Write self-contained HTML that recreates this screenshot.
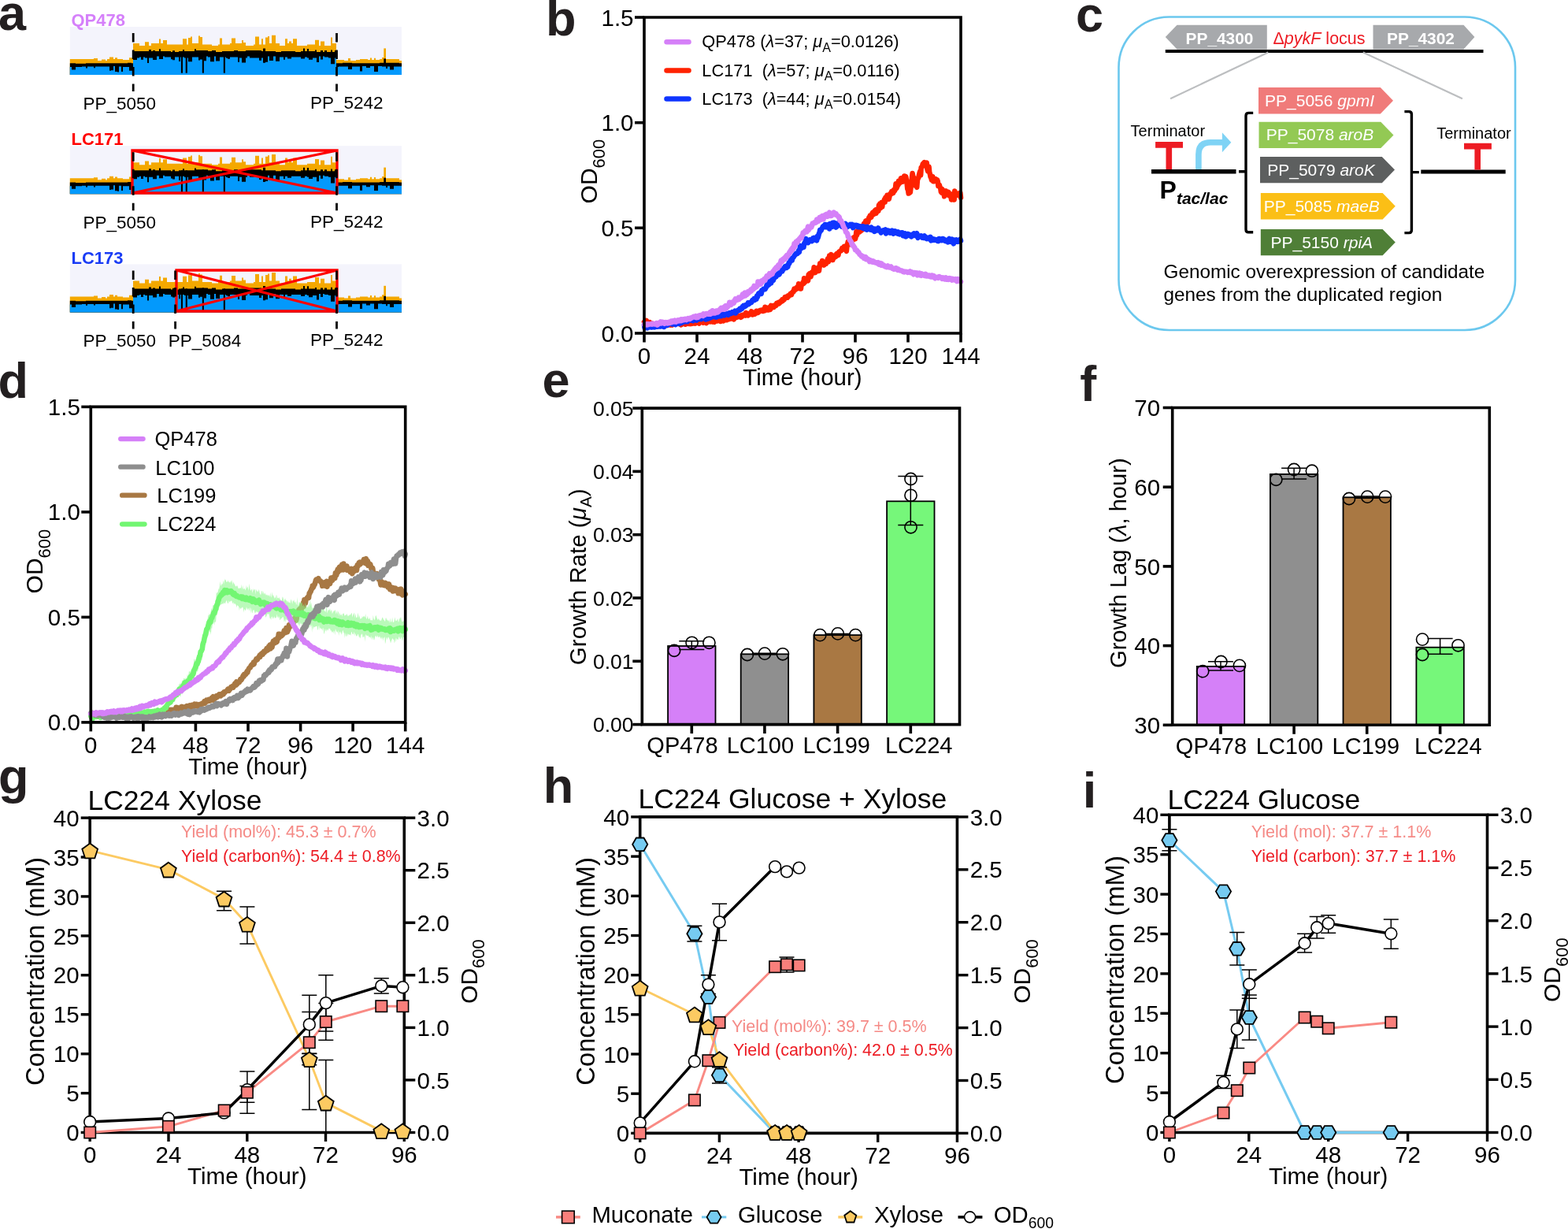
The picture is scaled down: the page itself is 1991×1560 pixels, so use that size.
<!DOCTYPE html><html><head><meta charset="utf-8"><title>Figure</title><style>html,body{margin:0;padding:0;background:#fff;}svg{display:block;}</style></head><body><svg width="1991" height="1560" viewBox="0 0 1991 1560" font-family='"Liberation Sans", Arial, Helvetica, sans-serif'>
<rect width="1991" height="1560" fill="#fff"/>
<rect x="88.8" y="34.0" width="421.2" height="61.0" fill="#f4f4fc" />
<path d="M88.80,95.00V75.0H91.00V75.0H94.00V75.0H96.00V75.0H99.00V75.0H101.00V75.0H104.00V75.0H106.00V75.0H109.00V75.0H111.00V75.0H114.00V75.0H116.00V75.0H119.00V74.0H121.00V74.0H124.00V77.0H126.00V77.0H129.00V75.6H131.00V75.6H134.00V77.0H136.00V75.0H139.00V72.5H141.00V72.5H144.00V75.0H146.00V73.3H149.00V75.0H151.00V75.0H154.00V75.0H156.00V76.0H159.00V76.0H162.00V76.0H164.00V73.3H167.00V73.3H169.00V55.0H172.00V55.0H174.00V55.0H177.00V58.0H179.00V58.0H182.00V58.0H184.00V53.3H187.00V53.3H189.00V58.0H192.00V55.0H194.00V55.0H197.00V55.0H199.00V55.0H202.00V49.6H204.00V55.0H207.00V51.1H209.00V51.1H212.00V56.5H214.00V56.5H217.00V56.5H219.00V56.5H222.00V56.5H224.00V56.5H227.00V56.5H229.00V56.5H232.00V49.3H234.00V49.3H237.00V56.5H239.00V47.9H242.00V46.4H244.00V55.0H247.00V55.0H249.00V55.0H252.00V45.6H254.00V47.1H257.00V56.5H259.00V56.5H262.00V56.5H264.00V56.5H267.00V56.5H269.00V58.0H272.00V58.0H274.00V58.0H277.00V56.5H279.00V48.4H282.00V56.5H284.00V56.5H287.00V56.5H289.00V56.5H292.00V55.0H294.00V48.6H297.00V48.6H299.00V55.0H302.00V55.0H304.00V55.0H307.00V51.0H309.00V54.0H312.00V58.0H314.00V58.0H317.00V58.0H319.00V58.0H322.00V56.5H324.00V46.5H327.00V46.5H329.00V56.5H332.00V49.2H334.00V56.5H337.00V47.5H340.00V46.0H342.00V55.0H345.00V44.7H347.00V44.7H350.00V55.0H352.00V55.0H355.00V58.0H357.00V58.0H360.00V58.0H362.00V49.2H365.00V55.0H367.00V52.4H370.00V55.0H372.00V49.2H375.00V49.2H377.00V58.0H380.00V58.0H382.00V58.0H385.00V58.0H387.00V58.0H390.00V56.5H392.00V56.5H395.00V56.5H397.00V56.5H400.00V50.7H402.00V50.7H405.00V58.0H407.00V52.4H410.00V52.4H412.00V58.0H415.00V58.0H417.00V58.0H420.00V47.6H422.00V55.0H425.00V55.0H427.00V76.0H430.00V76.0H432.00V76.0H435.00V76.0H437.00V77.0H440.00V77.0H442.00V74.0H445.00V77.0H447.00V77.0H450.00V77.0H452.00V76.0H455.00V76.0H457.00V75.0H460.00V75.0H462.00V75.0H465.00V75.0H467.00V76.0H470.00V73.6H472.00V76.0H475.00V73.8H477.00V76.0H480.00V76.0H482.00V75.0H485.00V72.9H487.00V72.9H490.00V75.0H492.00V75.0H495.00V75.0H497.00V75.0H500.00V75.0H502.00V75.0H505.00V75.0H507.00V77.0H510.00V95.00Z" fill="#f4a800" />
<path d="M88.80,95.00V80.3H91.00V80.3H94.00V80.3H96.00V80.8H99.00V80.8H101.00V80.8H104.00V80.8H106.00V80.8H109.00V80.3H111.00V80.3H114.00V80.3H116.00V80.3H119.00V80.3H121.00V80.3H124.00V80.3H126.00V80.3H129.00V80.3H131.00V80.3H134.00V80.3H136.00V80.3H139.00V80.3H141.00V80.3H144.00V80.3H146.00V80.3H149.00V80.3H151.00V80.3H154.00V80.3H156.00V80.3H159.00V80.3H162.00V79.8H164.00V79.8H167.00V80.3H169.00V65.0H172.00V65.0H174.00V65.0H177.00V65.0H179.00V65.0H182.00V65.0H184.00V65.0H187.00V65.0H189.00V63.0H192.00V65.0H194.00V64.0H197.00V65.0H199.00V65.0H202.00V62.2H204.00V65.0H207.00V65.0H209.00V65.0H212.00V65.0H214.00V65.0H217.00V66.0H219.00V64.3H222.00V66.0H224.00V66.0H227.00V65.0H229.00V65.0H232.00V63.1H234.00V65.0H237.00V65.0H239.00V65.0H242.00V65.0H244.00V65.0H247.00V62.3H249.00V64.0H252.00V64.0H254.00V64.0H257.00V64.0H259.00V64.0H262.00V64.0H264.00V65.0H267.00V65.0H269.00V64.0H272.00V64.0H274.00V66.0H277.00V66.0H279.00V66.0H282.00V65.0H284.00V65.0H287.00V65.0H289.00V65.0H292.00V65.0H294.00V65.0H297.00V64.0H299.00V64.0H302.00V65.0H304.00V65.0H307.00V65.0H309.00V65.0H312.00V64.0H314.00V64.0H317.00V64.0H319.00V64.0H322.00V64.0H324.00V64.0H327.00V64.0H329.00V64.0H332.00V65.0H334.00V61.6H337.00V65.0H340.00V65.0H342.00V65.0H345.00V65.0H347.00V65.0H350.00V66.0H352.00V66.0H355.00V66.0H357.00V65.0H360.00V65.0H362.00V65.0H365.00V65.0H367.00V65.0H370.00V65.0H372.00V65.0H375.00V66.0H377.00V66.0H380.00V66.0H382.00V65.0H385.00V61.5H387.00V65.0H390.00V61.9H392.00V65.0H395.00V65.0H397.00V65.0H400.00V63.5H402.00V66.0H405.00V66.0H407.00V64.0H410.00V66.0H412.00V64.0H415.00V66.0H417.00V66.0H420.00V63.4H422.00V66.0H425.00V64.0H427.00V80.3H430.00V80.3H432.00V80.3H435.00V79.8H437.00V79.8H440.00V79.8H442.00V79.8H445.00V79.8H447.00V80.3H450.00V80.3H452.00V80.3H455.00V80.3H457.00V80.3H460.00V80.3H462.00V80.3H465.00V80.3H467.00V80.3H470.00V80.3H472.00V80.3H475.00V80.3H477.00V80.3H480.00V80.3H482.00V79.8H485.00V79.8H487.00V79.8H490.00V79.8H492.00V79.8H495.00V79.8H497.00V79.8H500.00V79.8H502.00V79.8H505.00V79.8H507.00V80.3H510.00V95.00Z" fill="#000" />
<path d="M88.80,95.00V85.0H91.00V88.5H94.00V88.5H96.00V85.0H99.00V85.0H101.00V85.0H104.00V84.5H106.00V84.5H109.00V86.4H111.00V84.5H114.00V84.5H116.00V84.5H119.00V86.2H121.00V84.5H124.00V84.5H126.00V84.5H129.00V84.5H131.00V84.5H134.00V84.5H136.00V84.5H139.00V89.8H141.00V89.3H144.00V84.0H146.00V91.0H149.00V91.5H151.00V84.5H154.00V90.9H156.00V85.0H159.00V85.0H162.00V85.0H164.00V89.8H167.00V89.8H169.00V76.1H172.00V76.1H174.00V73.5H177.00V72.5H179.00V75.7H182.00V72.5H184.00V73.5H187.00V80.0H189.00V73.5H192.00V73.5H194.00V76.0H197.00V76.0H199.00V71.5H202.00V75.1H204.00V75.1H207.00V71.5H209.00V72.5H212.00V72.5H214.00V72.5H217.00V75.2H219.00V76.2H222.00V72.5H224.00V72.5H227.00V77.9H229.00V72.5H232.00V72.5H234.00V73.5H237.00V73.5H239.00V78.2H242.00V78.2H244.00V72.5H247.00V72.5H249.00V72.5H252.00V76.4H254.00V75.4H257.00V72.5H259.00V77.2H262.00V71.5H264.00V72.5H267.00V78.3H269.00V78.3H272.00V71.5H274.00V77.5H277.00V77.5H279.00V72.5H282.00V72.5H284.00V72.5H287.00V73.8H289.00V74.8H292.00V72.5H294.00V72.5H297.00V72.5H299.00V72.5H302.00V78.7H304.00V73.5H307.00V79.6H309.00V79.6H312.00V73.5H314.00V71.5H317.00V73.5H319.00V73.5H322.00V73.5H324.00V73.5H327.00V73.5H329.00V76.7H332.00V73.5H334.00V79.8H337.00V78.8H340.00V71.5H342.00V76.9H345.00V76.9H347.00V71.5H350.00V77.8H352.00V77.8H355.00V72.5H357.00V72.5H360.00V75.8H362.00V72.5H365.00V74.6H367.00V74.6H370.00V72.5H372.00V72.5H375.00V72.5H377.00V72.5H380.00V72.5H382.00V74.6H385.00V74.6H387.00V72.5H390.00V73.5H392.00V75.8H395.00V75.8H397.00V73.5H400.00V73.5H402.00V79.1H405.00V71.5H407.00V75.6H410.00V71.5H412.00V72.5H415.00V72.5H417.00V73.5H420.00V81.3H422.00V81.3H425.00V73.5H427.00V85.0H430.00V84.5H432.00V84.5H435.00V84.5H437.00V84.5H440.00V84.5H442.00V88.1H445.00V88.1H447.00V84.5H450.00V84.5H452.00V84.5H455.00V84.5H457.00V90.5H460.00V84.0H462.00V84.0H465.00V86.0H467.00V86.0H470.00V84.0H472.00V84.0H475.00V90.9H477.00V90.9H480.00V84.0H482.00V84.0H485.00V84.5H487.00V84.5H490.00V86.9H492.00V84.5H495.00V88.6H497.00V88.6H500.00V84.5H502.00V84.5H505.00V84.5H507.00V84.5H510.00V95.00Z" fill="#0399fc" />
<rect x="229.9" y="65.0" width="2.1" height="27.7" fill="#000" />
<rect x="235.7" y="65.0" width="2.1" height="27.7" fill="#000" />
<rect x="256.8" y="64.0" width="2.1" height="28.7" fill="#000" />
<rect x="283.8" y="65.0" width="2.1" height="27.7" fill="#000" />
<rect x="487.3" y="61.4" width="2.7" height="15.0" fill="#f4a800" />
<rect x="487.3" y="74.4" width="2.7" height="6.0" fill="#000" />
<text x="90.5" y="33.2" font-size="22" font-weight="bold" fill="#d580fa" >QP478</text>
<rect x="88.8" y="185.2" width="421.2" height="61.0" fill="#f4f4fc" />
<path d="M88.80,246.20V226.2H91.00V226.2H94.00V226.2H96.00V226.2H99.00V226.2H101.00V226.2H104.00V226.2H106.00V226.2H109.00V226.2H111.00V226.2H114.00V226.2H116.00V226.2H119.00V225.2H121.00V225.2H124.00V228.2H126.00V228.2H129.00V226.8H131.00V226.8H134.00V228.2H136.00V226.2H139.00V223.7H141.00V223.7H144.00V226.2H146.00V224.5H149.00V226.2H151.00V226.2H154.00V226.2H156.00V227.2H159.00V227.2H162.00V227.2H164.00V224.5H167.00V224.5H169.00V206.2H172.00V206.2H174.00V206.2H177.00V209.2H179.00V209.2H182.00V209.2H184.00V204.5H187.00V204.5H189.00V209.2H192.00V206.2H194.00V206.2H197.00V206.2H199.00V206.2H202.00V200.8H204.00V206.2H207.00V202.3H209.00V202.3H212.00V207.7H214.00V207.7H217.00V207.7H219.00V207.7H222.00V207.7H224.00V207.7H227.00V207.7H229.00V207.7H232.00V200.5H234.00V200.5H237.00V207.7H239.00V199.1H242.00V197.6H244.00V206.2H247.00V206.2H249.00V206.2H252.00V196.8H254.00V198.3H257.00V207.7H259.00V207.7H262.00V207.7H264.00V207.7H267.00V207.7H269.00V209.2H272.00V209.2H274.00V209.2H277.00V207.7H279.00V199.6H282.00V207.7H284.00V207.7H287.00V207.7H289.00V207.7H292.00V206.2H294.00V199.8H297.00V199.8H299.00V206.2H302.00V206.2H304.00V206.2H307.00V202.2H309.00V205.2H312.00V209.2H314.00V209.2H317.00V209.2H319.00V209.2H322.00V207.7H324.00V197.7H327.00V197.7H329.00V207.7H332.00V200.4H334.00V207.7H337.00V198.7H340.00V197.2H342.00V206.2H345.00V195.9H347.00V195.9H350.00V206.2H352.00V206.2H355.00V209.2H357.00V209.2H360.00V209.2H362.00V200.4H365.00V206.2H367.00V203.6H370.00V206.2H372.00V200.4H375.00V200.4H377.00V209.2H380.00V209.2H382.00V209.2H385.00V209.2H387.00V209.2H390.00V207.7H392.00V207.7H395.00V207.7H397.00V207.7H400.00V201.9H402.00V201.9H405.00V209.2H407.00V203.6H410.00V203.6H412.00V209.2H415.00V209.2H417.00V209.2H420.00V198.8H422.00V206.2H425.00V206.2H427.00V227.2H430.00V227.2H432.00V227.2H435.00V227.2H437.00V228.2H440.00V228.2H442.00V225.2H445.00V228.2H447.00V228.2H450.00V228.2H452.00V227.2H455.00V227.2H457.00V226.2H460.00V226.2H462.00V226.2H465.00V226.2H467.00V227.2H470.00V224.8H472.00V227.2H475.00V225.0H477.00V227.2H480.00V227.2H482.00V226.2H485.00V224.1H487.00V224.1H490.00V226.2H492.00V226.2H495.00V226.2H497.00V226.2H500.00V226.2H502.00V226.2H505.00V226.2H507.00V228.2H510.00V246.20Z" fill="#f4a800" />
<path d="M88.80,246.20V231.5H91.00V231.5H94.00V231.5H96.00V232.0H99.00V232.0H101.00V232.0H104.00V232.0H106.00V232.0H109.00V231.5H111.00V231.5H114.00V231.5H116.00V231.5H119.00V231.5H121.00V231.5H124.00V231.5H126.00V231.5H129.00V231.5H131.00V231.5H134.00V231.5H136.00V231.5H139.00V231.5H141.00V231.5H144.00V231.5H146.00V231.5H149.00V231.5H151.00V231.5H154.00V231.5H156.00V231.5H159.00V231.5H162.00V231.0H164.00V231.0H167.00V231.5H169.00V216.2H172.00V216.2H174.00V216.2H177.00V216.2H179.00V216.2H182.00V216.2H184.00V216.2H187.00V216.2H189.00V214.2H192.00V216.2H194.00V215.2H197.00V216.2H199.00V216.2H202.00V213.4H204.00V216.2H207.00V216.2H209.00V216.2H212.00V216.2H214.00V216.2H217.00V217.2H219.00V215.5H222.00V217.2H224.00V217.2H227.00V216.2H229.00V216.2H232.00V214.3H234.00V216.2H237.00V216.2H239.00V216.2H242.00V216.2H244.00V216.2H247.00V213.5H249.00V215.2H252.00V215.2H254.00V215.2H257.00V215.2H259.00V215.2H262.00V215.2H264.00V216.2H267.00V216.2H269.00V215.2H272.00V215.2H274.00V217.2H277.00V217.2H279.00V217.2H282.00V216.2H284.00V216.2H287.00V216.2H289.00V216.2H292.00V216.2H294.00V216.2H297.00V215.2H299.00V215.2H302.00V216.2H304.00V216.2H307.00V216.2H309.00V216.2H312.00V215.2H314.00V215.2H317.00V215.2H319.00V215.2H322.00V215.2H324.00V215.2H327.00V215.2H329.00V215.2H332.00V216.2H334.00V212.8H337.00V216.2H340.00V216.2H342.00V216.2H345.00V216.2H347.00V216.2H350.00V217.2H352.00V217.2H355.00V217.2H357.00V216.2H360.00V216.2H362.00V216.2H365.00V216.2H367.00V216.2H370.00V216.2H372.00V216.2H375.00V217.2H377.00V217.2H380.00V217.2H382.00V216.2H385.00V212.7H387.00V216.2H390.00V213.1H392.00V216.2H395.00V216.2H397.00V216.2H400.00V214.7H402.00V217.2H405.00V217.2H407.00V215.2H410.00V217.2H412.00V215.2H415.00V217.2H417.00V217.2H420.00V214.6H422.00V217.2H425.00V215.2H427.00V231.5H430.00V231.5H432.00V231.5H435.00V231.0H437.00V231.0H440.00V231.0H442.00V231.0H445.00V231.0H447.00V231.5H450.00V231.5H452.00V231.5H455.00V231.5H457.00V231.5H460.00V231.5H462.00V231.5H465.00V231.5H467.00V231.5H470.00V231.5H472.00V231.5H475.00V231.5H477.00V231.5H480.00V231.5H482.00V231.0H485.00V231.0H487.00V231.0H490.00V231.0H492.00V231.0H495.00V231.0H497.00V231.0H500.00V231.0H502.00V231.0H505.00V231.0H507.00V231.5H510.00V246.20Z" fill="#000" />
<path d="M88.80,246.20V236.2H91.00V239.7H94.00V239.7H96.00V236.2H99.00V236.2H101.00V236.2H104.00V235.7H106.00V235.7H109.00V237.6H111.00V235.7H114.00V235.7H116.00V235.7H119.00V237.4H121.00V235.7H124.00V235.7H126.00V235.7H129.00V235.7H131.00V235.7H134.00V235.7H136.00V235.7H139.00V241.0H141.00V240.5H144.00V235.2H146.00V242.2H149.00V242.7H151.00V235.7H154.00V242.1H156.00V236.2H159.00V236.2H162.00V236.2H164.00V241.0H167.00V241.0H169.00V227.3H172.00V227.3H174.00V224.7H177.00V223.7H179.00V226.9H182.00V223.7H184.00V224.7H187.00V231.2H189.00V224.7H192.00V224.7H194.00V227.2H197.00V227.2H199.00V222.7H202.00V226.3H204.00V226.3H207.00V222.7H209.00V223.7H212.00V223.7H214.00V223.7H217.00V226.4H219.00V227.4H222.00V223.7H224.00V223.7H227.00V229.1H229.00V223.7H232.00V223.7H234.00V224.7H237.00V224.7H239.00V229.4H242.00V229.4H244.00V223.7H247.00V223.7H249.00V223.7H252.00V227.6H254.00V226.6H257.00V223.7H259.00V228.4H262.00V222.7H264.00V223.7H267.00V229.5H269.00V229.5H272.00V222.7H274.00V228.7H277.00V228.7H279.00V223.7H282.00V223.7H284.00V223.7H287.00V225.0H289.00V226.0H292.00V223.7H294.00V223.7H297.00V223.7H299.00V223.7H302.00V229.9H304.00V224.7H307.00V230.8H309.00V230.8H312.00V224.7H314.00V222.7H317.00V224.7H319.00V224.7H322.00V224.7H324.00V224.7H327.00V224.7H329.00V227.9H332.00V224.7H334.00V231.0H337.00V230.0H340.00V222.7H342.00V228.1H345.00V228.1H347.00V222.7H350.00V229.0H352.00V229.0H355.00V223.7H357.00V223.7H360.00V227.0H362.00V223.7H365.00V225.8H367.00V225.8H370.00V223.7H372.00V223.7H375.00V223.7H377.00V223.7H380.00V223.7H382.00V225.8H385.00V225.8H387.00V223.7H390.00V224.7H392.00V227.0H395.00V227.0H397.00V224.7H400.00V224.7H402.00V230.3H405.00V222.7H407.00V226.8H410.00V222.7H412.00V223.7H415.00V223.7H417.00V224.7H420.00V232.5H422.00V232.5H425.00V224.7H427.00V236.2H430.00V235.7H432.00V235.7H435.00V235.7H437.00V235.7H440.00V235.7H442.00V239.3H445.00V239.3H447.00V235.7H450.00V235.7H452.00V235.7H455.00V235.7H457.00V241.7H460.00V235.2H462.00V235.2H465.00V237.2H467.00V237.2H470.00V235.2H472.00V235.2H475.00V242.1H477.00V242.1H480.00V235.2H482.00V235.2H485.00V235.7H487.00V235.7H490.00V238.1H492.00V235.7H495.00V239.8H497.00V239.8H500.00V235.7H502.00V235.7H505.00V235.7H507.00V235.7H510.00V246.20Z" fill="#0399fc" />
<rect x="229.9" y="216.2" width="2.1" height="27.7" fill="#000" />
<rect x="235.7" y="216.2" width="2.1" height="27.7" fill="#000" />
<rect x="256.8" y="215.2" width="2.1" height="28.7" fill="#000" />
<rect x="283.8" y="216.2" width="2.1" height="27.7" fill="#000" />
<rect x="487.3" y="212.6" width="2.7" height="15.0" fill="#f4a800" />
<rect x="487.3" y="225.6" width="2.7" height="6.0" fill="#000" />
<text x="90.5" y="184.4" font-size="22" font-weight="bold" fill="#ff0000" >LC171</text>
<rect x="88.8" y="335.4" width="421.2" height="61.0" fill="#f4f4fc" />
<path d="M88.80,396.40V376.4H91.00V376.4H94.00V376.4H96.00V376.4H99.00V376.4H101.00V376.4H104.00V376.4H106.00V376.4H109.00V376.4H111.00V376.4H114.00V376.4H116.00V376.4H119.00V375.4H121.00V375.4H124.00V378.4H126.00V378.4H129.00V377.0H131.00V377.0H134.00V378.4H136.00V376.4H139.00V373.9H141.00V373.9H144.00V376.4H146.00V374.7H149.00V376.4H151.00V376.4H154.00V376.4H156.00V377.4H159.00V377.4H162.00V377.4H164.00V374.7H167.00V374.7H169.00V356.4H172.00V356.4H174.00V356.4H177.00V359.4H179.00V359.4H182.00V359.4H184.00V354.7H187.00V354.7H189.00V359.4H192.00V356.4H194.00V356.4H197.00V356.4H199.00V356.4H202.00V351.0H204.00V356.4H207.00V352.5H209.00V352.5H212.00V357.9H214.00V357.9H217.00V357.9H219.00V357.9H222.00V357.9H224.00V357.9H227.00V357.9H229.00V357.9H232.00V350.7H234.00V350.7H237.00V357.9H239.00V349.3H242.00V347.8H244.00V356.4H247.00V356.4H249.00V356.4H252.00V347.0H254.00V348.5H257.00V357.9H259.00V357.9H262.00V357.9H264.00V357.9H267.00V357.9H269.00V359.4H272.00V359.4H274.00V359.4H277.00V357.9H279.00V349.8H282.00V357.9H284.00V357.9H287.00V357.9H289.00V357.9H292.00V356.4H294.00V350.0H297.00V350.0H299.00V356.4H302.00V356.4H304.00V356.4H307.00V352.4H309.00V355.4H312.00V359.4H314.00V359.4H317.00V359.4H319.00V359.4H322.00V357.9H324.00V347.9H327.00V347.9H329.00V357.9H332.00V350.6H334.00V357.9H337.00V348.9H340.00V347.4H342.00V356.4H345.00V346.1H347.00V346.1H350.00V356.4H352.00V356.4H355.00V359.4H357.00V359.4H360.00V359.4H362.00V350.6H365.00V356.4H367.00V353.8H370.00V356.4H372.00V350.6H375.00V350.6H377.00V359.4H380.00V359.4H382.00V359.4H385.00V359.4H387.00V359.4H390.00V357.9H392.00V357.9H395.00V357.9H397.00V357.9H400.00V352.1H402.00V352.1H405.00V359.4H407.00V353.8H410.00V353.8H412.00V359.4H415.00V359.4H417.00V359.4H420.00V349.0H422.00V356.4H425.00V356.4H427.00V377.4H430.00V377.4H432.00V377.4H435.00V377.4H437.00V378.4H440.00V378.4H442.00V375.4H445.00V378.4H447.00V378.4H450.00V378.4H452.00V377.4H455.00V377.4H457.00V376.4H460.00V376.4H462.00V376.4H465.00V376.4H467.00V377.4H470.00V375.0H472.00V377.4H475.00V375.2H477.00V377.4H480.00V377.4H482.00V376.4H485.00V374.3H487.00V374.3H490.00V376.4H492.00V376.4H495.00V376.4H497.00V376.4H500.00V376.4H502.00V376.4H505.00V376.4H507.00V378.4H510.00V396.40Z" fill="#f4a800" />
<path d="M88.80,396.40V381.7H91.00V381.7H94.00V381.7H96.00V382.2H99.00V382.2H101.00V382.2H104.00V382.2H106.00V382.2H109.00V381.7H111.00V381.7H114.00V381.7H116.00V381.7H119.00V381.7H121.00V381.7H124.00V381.7H126.00V381.7H129.00V381.7H131.00V381.7H134.00V381.7H136.00V381.7H139.00V381.7H141.00V381.7H144.00V381.7H146.00V381.7H149.00V381.7H151.00V381.7H154.00V381.7H156.00V381.7H159.00V381.7H162.00V381.2H164.00V381.2H167.00V381.7H169.00V366.4H172.00V366.4H174.00V366.4H177.00V366.4H179.00V366.4H182.00V366.4H184.00V366.4H187.00V366.4H189.00V364.4H192.00V366.4H194.00V365.4H197.00V366.4H199.00V366.4H202.00V363.6H204.00V366.4H207.00V366.4H209.00V366.4H212.00V366.4H214.00V366.4H217.00V367.4H219.00V365.7H222.00V367.4H224.00V367.4H227.00V366.4H229.00V366.4H232.00V364.5H234.00V366.4H237.00V366.4H239.00V366.4H242.00V366.4H244.00V366.4H247.00V363.7H249.00V365.4H252.00V365.4H254.00V365.4H257.00V365.4H259.00V365.4H262.00V365.4H264.00V366.4H267.00V366.4H269.00V365.4H272.00V365.4H274.00V367.4H277.00V367.4H279.00V367.4H282.00V366.4H284.00V366.4H287.00V366.4H289.00V366.4H292.00V366.4H294.00V366.4H297.00V365.4H299.00V365.4H302.00V366.4H304.00V366.4H307.00V366.4H309.00V366.4H312.00V365.4H314.00V365.4H317.00V365.4H319.00V365.4H322.00V365.4H324.00V365.4H327.00V365.4H329.00V365.4H332.00V366.4H334.00V363.0H337.00V366.4H340.00V366.4H342.00V366.4H345.00V366.4H347.00V366.4H350.00V367.4H352.00V367.4H355.00V367.4H357.00V366.4H360.00V366.4H362.00V366.4H365.00V366.4H367.00V366.4H370.00V366.4H372.00V366.4H375.00V367.4H377.00V367.4H380.00V367.4H382.00V366.4H385.00V362.9H387.00V366.4H390.00V363.3H392.00V366.4H395.00V366.4H397.00V366.4H400.00V364.9H402.00V367.4H405.00V367.4H407.00V365.4H410.00V367.4H412.00V365.4H415.00V367.4H417.00V367.4H420.00V364.8H422.00V367.4H425.00V365.4H427.00V381.7H430.00V381.7H432.00V381.7H435.00V381.2H437.00V381.2H440.00V381.2H442.00V381.2H445.00V381.2H447.00V381.7H450.00V381.7H452.00V381.7H455.00V381.7H457.00V381.7H460.00V381.7H462.00V381.7H465.00V381.7H467.00V381.7H470.00V381.7H472.00V381.7H475.00V381.7H477.00V381.7H480.00V381.7H482.00V381.2H485.00V381.2H487.00V381.2H490.00V381.2H492.00V381.2H495.00V381.2H497.00V381.2H500.00V381.2H502.00V381.2H505.00V381.2H507.00V381.7H510.00V396.40Z" fill="#000" />
<path d="M88.80,396.40V386.4H91.00V389.9H94.00V389.9H96.00V386.4H99.00V386.4H101.00V386.4H104.00V385.9H106.00V385.9H109.00V387.8H111.00V385.9H114.00V385.9H116.00V385.9H119.00V387.6H121.00V385.9H124.00V385.9H126.00V385.9H129.00V385.9H131.00V385.9H134.00V385.9H136.00V385.9H139.00V391.2H141.00V390.7H144.00V385.4H146.00V392.4H149.00V392.9H151.00V385.9H154.00V392.3H156.00V386.4H159.00V386.4H162.00V386.4H164.00V391.2H167.00V391.2H169.00V377.5H172.00V377.5H174.00V374.9H177.00V373.9H179.00V377.1H182.00V373.9H184.00V374.9H187.00V381.4H189.00V374.9H192.00V374.9H194.00V377.4H197.00V377.4H199.00V372.9H202.00V376.5H204.00V376.5H207.00V372.9H209.00V373.9H212.00V373.9H214.00V373.9H217.00V376.6H219.00V377.6H222.00V373.9H224.00V373.9H227.00V379.3H229.00V373.9H232.00V373.9H234.00V374.9H237.00V374.9H239.00V379.6H242.00V379.6H244.00V373.9H247.00V373.9H249.00V373.9H252.00V377.8H254.00V376.8H257.00V373.9H259.00V378.6H262.00V372.9H264.00V373.9H267.00V379.7H269.00V379.7H272.00V372.9H274.00V378.9H277.00V378.9H279.00V373.9H282.00V373.9H284.00V373.9H287.00V375.2H289.00V376.2H292.00V373.9H294.00V373.9H297.00V373.9H299.00V373.9H302.00V380.1H304.00V374.9H307.00V381.0H309.00V381.0H312.00V374.9H314.00V372.9H317.00V374.9H319.00V374.9H322.00V374.9H324.00V374.9H327.00V374.9H329.00V378.1H332.00V374.9H334.00V381.2H337.00V380.2H340.00V372.9H342.00V378.3H345.00V378.3H347.00V372.9H350.00V379.2H352.00V379.2H355.00V373.9H357.00V373.9H360.00V377.2H362.00V373.9H365.00V376.0H367.00V376.0H370.00V373.9H372.00V373.9H375.00V373.9H377.00V373.9H380.00V373.9H382.00V376.0H385.00V376.0H387.00V373.9H390.00V374.9H392.00V377.2H395.00V377.2H397.00V374.9H400.00V374.9H402.00V380.5H405.00V372.9H407.00V377.0H410.00V372.9H412.00V373.9H415.00V373.9H417.00V374.9H420.00V382.7H422.00V382.7H425.00V374.9H427.00V386.4H430.00V385.9H432.00V385.9H435.00V385.9H437.00V385.9H440.00V385.9H442.00V389.5H445.00V389.5H447.00V385.9H450.00V385.9H452.00V385.9H455.00V385.9H457.00V391.9H460.00V385.4H462.00V385.4H465.00V387.4H467.00V387.4H470.00V385.4H472.00V385.4H475.00V392.3H477.00V392.3H480.00V385.4H482.00V385.4H485.00V385.9H487.00V385.9H490.00V388.3H492.00V385.9H495.00V390.0H497.00V390.0H500.00V385.9H502.00V385.9H505.00V385.9H507.00V385.9H510.00V396.40Z" fill="#0399fc" />
<rect x="229.9" y="366.4" width="2.1" height="27.7" fill="#000" />
<rect x="235.7" y="366.4" width="2.1" height="27.7" fill="#000" />
<rect x="256.8" y="365.4" width="2.1" height="28.7" fill="#000" />
<rect x="283.8" y="366.4" width="2.1" height="27.7" fill="#000" />
<rect x="487.3" y="362.8" width="2.7" height="15.0" fill="#f4a800" />
<rect x="487.3" y="375.8" width="2.7" height="6.0" fill="#000" />
<text x="90.5" y="334.6" font-size="22" font-weight="bold" fill="#1a3cf5" >LC173</text>
<path d="M168,191H428V245H168Z M168,191L428,245 M168,245L428,191" fill="none" stroke="#ff0000" stroke-width="3.3"/>
<path d="M224,343H428V395H224Z M224,343L428,395 M224,395L428,343" fill="none" stroke="#ff0000" stroke-width="3.3"/>
<line x1="169.2" y1="42.0" x2="169.2" y2="116.0" stroke="#000" stroke-width="2.8" stroke-dasharray="11.5,10"/>
<line x1="427.5" y1="42.0" x2="427.5" y2="116.0" stroke="#000" stroke-width="2.8" stroke-dasharray="11.5,10"/>
<text x="105.5" y="138.8" font-size="22.5" >PP_5050</text>
<text x="394.0" y="137.8" font-size="22.5" >PP_5242</text>
<line x1="169.2" y1="193.2" x2="169.2" y2="267.2" stroke="#000" stroke-width="2.8" stroke-dasharray="11.5,10"/>
<line x1="427.5" y1="193.2" x2="427.5" y2="267.2" stroke="#000" stroke-width="2.8" stroke-dasharray="11.5,10"/>
<text x="105.5" y="290.0" font-size="22.5" >PP_5050</text>
<text x="394.0" y="289.0" font-size="22.5" >PP_5242</text>
<line x1="169.2" y1="343.4" x2="169.2" y2="417.4" stroke="#000" stroke-width="2.8" stroke-dasharray="11.5,10"/>
<line x1="427.5" y1="343.4" x2="427.5" y2="417.4" stroke="#000" stroke-width="2.8" stroke-dasharray="11.5,10"/>
<line x1="222.6" y1="343.4" x2="222.6" y2="417.4" stroke="#000" stroke-width="2.8" stroke-dasharray="11.5,10"/>
<text x="105.5" y="440.2" font-size="22.5" >PP_5050</text>
<text x="394.0" y="439.2" font-size="22.5" >PP_5242</text>
<text x="213.8" y="440.2" font-size="22.5" >PP_5084</text>
<path d="M818.0,408.6l0.7,1 0.7,-0.5 0.7,1.4 0.7,-3.6 0.7,1.2 0.7,1.7 0.7,-0.6 0.7,-0.2 0.7,0.4 0.7,-0.3 0.7,2.1 0.7,0.1 0.7,-0.8 0.7,-0 0.7,1.7 0.7,-1.2 0.7,1.7 0.7,-0.7 0.7,0.9 0.7,-1.2 0.7,-0.2 0.7,0.2 0.7,0.1 0.6,0.6 0.7,-1.7 0.7,0.3 0.7,2.2 0.7,0.4 0.7,-0.7 0.7,-1.3 0.7,-0.1 0.7,-0.8 0.7,0.4 0.7,0.8 0.7,-0.5 0.7,0.7 0.7,-0.7 0.7,0.7 0.7,0.1 0.7,-1.8 0.7,-1 0.7,3.5 0.7,-1 0.7,0.3 0.7,-1.9 0.7,0.9 0.7,-0.2 0.7,1.6 0.7,-2.4 0.7,-0.6 0.7,3 0.7,-2.3 0.7,0.1 0.7,0.5 0.7,-0.5 0.7,-2.4 0.7,2.1 0.7,-0.6 0.7,1.4 0.7,-1.3 0.7,0.6 0.7,0.7 0.7,-0.3 0.7,-1.4 0.7,2.2 0.7,0.1 0.7,0.8 0.7,-3.3 0.7,1.4 0.7,-1.3 0.7,0.9 0.6,0.7 0.7,-0.5 0.7,-0.6 0.7,2.1 0.7,-0.4 0.7,-2.1 0.7,-0.1 0.7,0.6 0.7,0.9 0.7,0.3 0.7,-2.1 0.7,1.5 0.7,0.6 0.7,-1.6 0.7,1.6 0.7,-1.4 0.7,-1 0.7,1.8 0.7,-2.1 0.7,0.9 0.7,0.2 0.7,1.2 0.7,-0.3 0.7,-1.1 0.7,0.4 0.7,-0.2 0.7,0.4 0.7,0 0.7,0.7 0.7,-1.2 0.7,-0.9 0.7,-0.2 0.7,-0.1 0.7,-2.5 0.7,2.4 0.7,1.7 0.7,-3.7 0.7,3 0.7,-0.9 0.7,0.5 0.7,-0.7 0.7,2.2 0.7,-2.4 0.7,1 0.7,0.1 0.7,-2.7 0.7,1.4 0.7,0.1 0.6,-0.2 0.7,1 0.7,-0.7 0.7,-0.5 0.7,0.3 0.7,1.1 0.7,-0.7 0.7,-0.3 0.7,1.2 0.7,-1 0.7,-0.8 0.7,-0.5 0.7,-0.8 0.7,1.8 0.7,-1.1 0.7,0 0.7,-1.4 0.7,1.9 0.7,-0.8 0.7,1.9 0.7,-0.4 0.7,-1.6 0.7,0.4 0.7,-1.2 0.7,2.2 0.7,-1.2 0.7,-0.7 0.7,-1.8 0.7,2.6 0.7,-2.6 0.7,2.6 0.7,-0.6 0.7,0.1 0.7,-0.4 0.7,-1.7 0.7,1.4 0.7,-0.9 0.7,-0.5 0.7,-0.1 0.7,0.8 0.7,0.2 0.7,-1 0.7,-0.4 0.7,2.2 0.7,-2.4 0.7,-0 0.7,0.3 0.7,-1.2 0.6,0.7 0.7,-1.8 0.7,1.4 0.7,-0.2 0.7,-1.2 0.7,0.6 0.7,0.3 0.7,-0.7 0.7,1.7 0.7,-2.4 0.7,1.4 0.7,-2 0.7,0 0.7,0.4 0.7,-0.5 0.7,0.5 0.7,0.3 0.7,-3.5 0.7,2.4 0.7,0.5 0.7,-1.2 0.7,1.7 0.7,-2.3 0.7,-0.3 0.7,1.4 0.7,-0.5 0.7,-1.1 0.7,-2.1 0.7,2.3 0.7,1.6 0.7,-2.4 0.7,1.2 0.7,-1 0.7,1.5 0.7,-2.3 0.7,1 0.7,-2.6 0.7,1.8 0.7,0.5 0.7,-0.1 0.7,-0.7 0.7,-1.8 0.7,-0.3 0.7,-0.2 0.7,0.5 0.7,-0.7 0.7,-0.3 0.7,0.5 0.6,0.8 0.7,-1.5 0.7,-0.8 0.7,1.9 0.7,-4.6 0.7,2.7 0.7,-0.1 0.7,0.9 0.7,-1.4 0.7,-0.9 0.7,2.5 0.7,-0.4 0.7,-3 0.7,2.9 0.7,-1 0.7,-4.1 0.7,0.8 0.7,0.9 0.7,0.3 0.7,-1.3 0.7,1.2 0.7,-2.2 0.7,0.6 0.7,0.1 0.7,-0.6 0.7,-2.9 0.7,0.4 0.7,-0.7 0.7,-0.6 0.7,1.5 0.7,-0.5 0.7,-0.8 0.7,-1.3 0.7,-0.8 0.7,0.6 0.7,-2.1 0.7,1.3 0.7,-1.1 0.7,-0.2 0.7,-0.5 0.7,-3 0.7,0 0.7,0.8 0.7,-0.7 0.7,-0.7 0.7,1.2 0.7,-2.3 0.7,0.5 0.6,-0.9 0.7,-0.6 0.7,-1.4 0.7,1.1 0.7,0.1 0.7,-2.7 0.7,-0.2 0.7,-1.4 0.7,0.2 0.7,-3.4 0.7,0.4 0.7,0.7 0.7,-1.3 0.7,0.3 0.7,-2.2 0.7,0.1 0.7,1.4 0.7,-5.7 0.7,2.2 0.7,1.9 0.7,-2.2 0.7,4.3 0.7,-5.6 0.7,0.5 0.7,-0.8 0.7,-2.6 0.7,1.8 0.7,-6.4 0.7,5 0.7,-1.4 0.7,0 0.7,-3 0.7,-0.8 0.7,2.8 0.7,0.3 0.7,-7.4 0.7,3.2 0.7,-4.7 0.7,2 0.7,1.8 0.7,-2.8 0.7,-2.9 0.7,-0.1 0.7,1.3 0.7,-2.4 0.7,-5.1 0.7,5.1 0.7,1.7 0.6,-1.3 0.7,-0 0.7,-1.6 0.7,0.1 0.7,0.6 0.7,-4.3 0.7,4.3 0.7,-4.9 0.7,-4.7 0.7,0 0.7,0.3 0.7,0.8 0.7,-4.3 0.7,3.2 0.7,-1.3 0.7,3.7 0.7,-3.5 0.7,0.5 0.7,0.3 0.7,0.7 0.7,-3 0.7,-0.9 0.7,-2.4 0.7,4 0.7,-1.9 0.7,-5.8 0.7,2.9 0.7,-2.4 0.7,-1.9 0.7,0.9 0.7,1.4 0.7,4.5 0.7,-5.1 0.7,0.7 0.7,1.2 0.7,-2.4 0.7,0.3 0.7,0.7 0.7,-3.2 0.7,-0.5 0.7,0.2 0.7,1.9 0.7,-3.7 0.7,-0.7 0.7,-0.4 0.7,-0.5 0.7,-0.2 0.7,-1.2 0.6,-1.9 0.7,0.3 0.7,1 0.7,-0.3 0.7,-3.5 0.7,0 0.7,1.1 0.7,2.8 0.7,2.2 0.7,-7 0.7,-2.3 0.7,-3 0.7,0.5 0.7,2.1 0.7,-1.4 0.7,2.3 0.7,-6.5 0.7,3.7 0.7,-3.5 0.7,1.2 0.7,-1.4 0.7,-1.8 0.7,1.3 0.7,0.4 0.7,-0.1 0.7,-3 0.7,-6.3 0.7,4.5 0.7,-4.1 0.7,0.4 0.7,-1.9 0.7,-0.6 0.7,2 0.7,-2.8 0.7,-2.5 0.7,3.7 0.7,-2 0.7,0.7 0.7,-5.1 0.7,2.4 0.7,-5 0.7,0.9 0.7,2.8 0.7,-7.1 0.7,-0.2 0.7,0.4 0.7,-0.4 0.7,1.9 0.6,-2.8 0.7,-3.1 0.7,1 0.7,-3.5 0.7,0.6 0.7,1.5 0.7,-1.8 0.7,-3.2 0.7,-1.1 0.7,2.7 0.7,-1.9 0.7,-2.2 0.7,-1 0.7,-0.7 0.7,4.3 0.7,-3 0.7,0.3 0.7,-2.8 0.7,2.6 0.7,-7.4 0.7,2.3 0.7,-4.2 0.7,5.6 0.7,-3.8 0.7,-3.4 0.7,5.5 0.7,-6.1 0.7,-0.2 0.7,0.7 0.7,-3.8 0.7,3.4 0.7,-5.8 0.7,2.1 0.7,-2.8 0.7,-2.2 0.7,2.1 0.7,-1.1 0.7,4 0.7,-2.6 0.7,-3.8 0.7,-0.8 0.7,0.7 0.7,-3.1 0.7,1.8 0.7,-1.1 0.7,1.1 0.7,-3.8 0.7,1.3 0.6,-0.7 0.7,-2.7 0.7,-5.9 0.7,5.8 0.7,-1.4 0.7,-5.3 0.7,2.7 0.7,-5.1 0.7,2 0.7,0.5 0.7,-2.5 0.7,-3.6 0.7,2.2 0.7,0.2 0.7,-2.4 0.7,4.3 0.7,-4.5 0.7,-2.5 0.7,-0.1 0.7,1.5 0.7,-0.7 0.7,3.9 0.7,4 0.7,7.6 0.7,1 0.7,4.7 0.7,-0.3 0.7,-1.6 0.7,0.6 0.7,-5.8 0.7,-6.2 0.7,-5.9 0.7,-6.2 0.7,4.3 0.7,0.7 0.7,1.2 0.7,5.6 0.7,-0.7 0.7,4.9 0.7,0.1 0.7,1.5 0.7,-8.7 0.7,-2.7 0.7,-0.7 0.7,-3.3 0.7,-3 0.7,-2.1 0.7,5.1 0.6,-9.6 0.7,-0.4 0.7,-1.6 0.7,-2.6 0.7,-0.8 0.7,1.4 0.7,-2.5 0.7,2 0.7,2.5 0.7,-3.3 0.7,-0.7 0.7,7.9 0.7,2.6 0.7,-0.5 0.7,-5.1 0.7,7.3 0.7,1.9 0.7,4 0.7,0.4 0.7,3.3 0.7,-2.6 0.7,-1.6 0.7,5.8 0.7,0 0.7,-0.3 0.7,-0.9 0.7,-0.4 0.7,-0.9 0.7,1.5 0.7,-0.7 0.7,1.6 0.7,6 0.7,0 0.7,-1.2 0.7,2.6 0.7,1.1 0.7,5 0.7,1.1 0.7,-4.5 0.7,1 0.7,2.7 0.7,0.7 0.7,4.7 0.7,-5.6 0.7,0.1 0.7,-1.3 0.7,3.3 0.7,0.5 0.6,0.9 0.7,-3.4 0.7,0.6 0.7,4 0.7,-1.1 0.7,-0.2 0.7,2.5 0.7,4 0.7,-4.9 0.7,-2.2 0.7,5.1 0.7,-2.5 0.7,4.5 0.7,-11 0.7,2.8 0.7,1.1 0.7,0.1 0.7,1 0.7,-1.9 0.7,1.5 0.7,0.6 0.7,-1.4 0.7,-0.3 0.7,-1.3 0.7,6.1" fill="none" stroke="#ff2200" stroke-width="6.6" stroke-linejoin="round" stroke-linecap="round"/>
<path d="M818.0,412.5l0.7,3.9 0.7,-2.2 0.7,1.2 0.7,-0.9 0.7,0.3 0.7,1.4 0.7,-1.7 0.7,1 0.7,-3.6 0.7,2.5 0.7,0.3 0.7,-0.1 0.7,0.9 0.7,-0.2 0.7,-0.2 0.7,-0.7 0.7,0.7 0.7,-1.2 0.7,1.4 0.7,-0.6 0.7,-1.5 0.7,1.1 0.7,0.1 0.6,0.3 0.7,-0.9 0.7,-1.1 0.7,1.7 0.7,-0.1 0.7,-1.2 0.7,1.2 0.7,-0.4 0.7,-1.5 0.7,-0.1 0.7,1 0.7,-1.2 0.7,2.9 0.7,-3.3 0.7,0.9 0.7,0.7 0.7,-1.4 0.7,-0.5 0.7,1.4 0.7,-0.4 0.7,-0.6 0.7,-0.3 0.7,-1.3 0.7,0.1 0.7,0.1 0.7,-0.6 0.7,0.8 0.7,0.8 0.7,-1.5 0.7,-0.2 0.7,1.1 0.7,-0.6 0.7,-0.3 0.7,2.2 0.7,-3.4 0.7,-0.1 0.7,2.3 0.7,-1.6 0.7,-0.3 0.7,-0.7 0.7,2.7 0.7,-1.4 0.7,-2.2 0.7,-0.1 0.7,2.5 0.7,-1.6 0.7,-0.7 0.7,0.9 0.6,-1.6 0.7,1.6 0.7,-1 0.7,0.7 0.7,-2.6 0.7,1.4 0.7,0.3 0.7,0.9 0.7,-3 0.7,0.6 0.7,0.5 0.7,-0.9 0.7,0.2 0.7,0.9 0.7,0.4 0.7,-0.1 0.7,-1.5 0.7,1.9 0.7,-1.5 0.7,0.2 0.7,-0.4 0.7,-0.4 0.7,1.2 0.7,0.3 0.7,-1.4 0.7,-1 0.7,-0.1 0.7,0.1 0.7,0.9 0.7,-0.6 0.7,-0.1 0.7,-0.3 0.7,1 0.7,-0.9 0.7,-0.1 0.7,-0.5 0.7,0.3 0.7,-2.3 0.7,1.2 0.7,0 0.7,2.8 0.7,-2.2 0.7,0.8 0.7,-1.6 0.7,2.1 0.7,-2.9 0.7,0.3 0.7,1.8 0.6,-0.5 0.7,-0 0.7,-0.6 0.7,-1.3 0.7,-0.7 0.7,1 0.7,-0.5 0.7,0.6 0.7,-1.6 0.7,0.5 0.7,0.1 0.7,1.8 0.7,-0.8 0.7,0.1 0.7,-2.1 0.7,0.7 0.7,0.9 0.7,-0.1 0.7,-1.3 0.7,0.9 0.7,0.3 0.7,-0.9 0.7,-2.3 0.7,2.1 0.7,0.1 0.7,-0.1 0.7,0.2 0.7,-1.2 0.7,-0.4 0.7,-0.1 0.7,-0.2 0.7,-0.2 0.7,0.1 0.7,1.4 0.7,-1.4 0.7,-1 0.7,0.9 0.7,-0 0.7,-0.2 0.7,-0.5 0.7,-1.3 0.7,0.6 0.7,-0.6 0.7,-0.5 0.7,0.1 0.7,-1.1 0.7,2.8 0.7,-2.4 0.6,0.7 0.7,-0.7 0.7,-0.6 0.7,-1 0.7,-0.1 0.7,0.4 0.7,-2 0.7,1.3 0.7,-1.2 0.7,-0.9 0.7,0.7 0.7,-2.5 0.7,0.4 0.7,-1.8 0.7,1.7 0.7,-0.6 0.7,-0.2 0.7,-1.5 0.7,0.4 0.7,-1.2 0.7,-0 0.7,-2.1 0.7,1.8 0.7,-1.8 0.7,0.6 0.7,-0.6 0.7,-0.4 0.7,0 0.7,-1.7 0.7,-1.2 0.7,0.6 0.7,-0.5 0.7,-1.9 0.7,1.7 0.7,-1.6 0.7,0.3 0.7,-0 0.7,-4 0.7,1.6 0.7,-2.6 0.7,-2 0.7,0.6 0.7,0.1 0.7,-1.9 0.7,0.8 0.7,0.6 0.7,-4.2 0.7,0.1 0.6,-0.9 0.7,-0.8 0.7,-0.5 0.7,0.2 0.7,0.4 0.7,-1.3 0.7,-1.2 0.7,-2.7 0.7,-0.2 0.7,0.6 0.7,-4.8 0.7,3.8 0.7,-2.1 0.7,-2.2 0.7,-0 0.7,2.3 0.7,-4.1 0.7,-0.2 0.7,-0.1 0.7,0.7 0.7,-2.8 0.7,-1.6 0.7,0.9 0.7,-2.6 0.7,1.7 0.7,-1.3 0.7,-1.5 0.7,-0.7 0.7,1 0.7,-0.1 0.7,-0.5 0.7,-3.2 0.7,0.2 0.7,-2.2 0.7,-0.3 0.7,1.9 0.7,-3.3 0.7,1 0.7,-1.5 0.7,-0.4 0.7,-1.8 0.7,1.4 0.7,-2.1 0.7,2.1 0.7,-2.6 0.7,1.5 0.7,-2.6 0.7,-2.4 0.6,0.6 0.7,-2 0.7,-1.1 0.7,-2.9 0.7,1.2 0.7,1 0.7,-3.2 0.7,-0.4 0.7,-0.9 0.7,-1.1 0.7,-1.2 0.7,-0.5 0.7,-1.5 0.7,-0.3 0.7,-0 0.7,0.3 0.7,-0.9 0.7,-3 0.7,2.1 0.7,-3.4 0.7,-4.7 0.7,2.9 0.7,-1.3 0.7,1.2 0.7,-1.4 0.7,-0.8 0.7,1.4 0.7,-4.6 0.7,-1.3 0.7,0.6 0.7,-5.5 0.7,4.1 0.7,-1.1 0.7,0.1 0.7,2 0.7,-1.1 0.7,-1.7 0.7,-0.8 0.7,1.3 0.7,-0.6 0.7,0.4 0.7,0.4 0.7,-2 0.7,-1.8 0.7,1.2 0.7,-1.7 0.7,1.3 0.7,0.2 0.6,1.4 0.7,-0.5 0.7,1 0.7,-5.1 0.7,2 0.7,-2.4 0.7,-3.2 0.7,-1.3 0.7,-3.5 0.7,-0 0.7,0.8 0.7,-2 0.7,-0.9 0.7,-2 0.7,-0.5 0.7,-0.6 0.7,1.6 0.7,-3.1 0.7,0.3 0.7,3 0.7,-1.3 0.7,-1.7 0.7,0.8 0.7,-0.5 0.7,1.4 0.7,3.5 0.7,-6.5 0.7,2.5 0.7,-0.3 0.7,1.4 0.7,0.2 0.7,-5 0.7,3.2 0.7,1.1 0.7,-4.4 0.7,1.6 0.7,2.8 0.7,1.5 0.7,-4.4 0.7,3 0.7,-1.7 0.7,0.5 0.7,-3.3 0.7,1.9 0.7,1.3 0.7,-0.3 0.7,0.5 0.7,-0.9 0.6,2.5 0.7,-3.8 0.7,3.2 0.7,-1.1 0.7,2.2 0.7,-2.1 0.7,-2.1 0.7,0.6 0.7,2.8 0.7,1 0.7,-2.5 0.7,1.2 0.7,-0.5 0.7,0.3 0.7,-0.6 0.7,-1.3 0.7,1.1 0.7,-1 0.7,-0.2 0.7,0.6 0.7,3.6 0.7,-2.4 0.7,-0.6 0.7,1.5 0.7,-0.6 0.7,-0.2 0.7,-0.9 0.7,0.7 0.7,-0.3 0.7,2 0.7,0 0.7,-0 0.7,-1.1 0.7,1.4 0.7,0.1 0.7,-0.3 0.7,0 0.7,-1.2 0.7,0.1 0.7,2.7 0.7,-0.4 0.7,0.6 0.7,-2 0.7,1 0.7,2.2 0.7,0.2 0.7,-3.7 0.7,1.1 0.6,0.6 0.7,0.7 0.7,0.2 0.7,-0.9 0.7,1.9 0.7,-3 0.7,2.3 0.7,-0.3 0.7,1.8 0.7,-0.8 0.7,-1 0.7,3.3 0.7,-2 0.7,-1.1 0.7,1.5 0.7,0.3 0.7,-0.8 0.7,-0.3 0.7,-1.9 0.7,3.2 0.7,0 0.7,0 0.7,1.4 0.7,1.3 0.7,-1.9 0.7,-0.1 0.7,-0.7 0.7,1.2 0.7,-0.3 0.7,-1.5 0.7,2.1 0.7,-2.8 0.7,5 0.7,-3.3 0.7,1.5 0.7,0 0.7,-2 0.7,1 0.7,1.5 0.7,0.5 0.7,-2.3 0.7,1.5 0.7,-0.9 0.7,-1.1 0.7,2.7 0.7,1.1 0.7,-0.6 0.7,-2.3 0.6,1.3 0.7,-1.6 0.7,2.3 0.7,0.1 0.7,0.2 0.7,0.5 0.7,-2.2 0.7,1.8 0.7,1.2 0.7,0.1 0.7,-1.5 0.7,1.1 0.7,-1.5 0.7,0.5 0.7,-0.5 0.7,3.7 0.7,-3.1 0.7,3.4 0.7,-2 0.7,-0.9 0.7,3.7 0.7,-0.4 0.7,-1.6 0.7,0.4 0.7,-1.7 0.7,0.3 0.7,1.3 0.7,0.2 0.7,0.7 0.7,-0.4 0.7,1.2 0.7,-2.3 0.7,1.6 0.7,-1.5 0.7,0.3 0.7,-2 0.7,1.6 0.7,0.4 0.7,0.8 0.7,-0.5 0.7,-2.6 0.7,3.8 0.7,2 0.7,-2.3 0.7,-0.2 0.7,0.7 0.7,-0.6 0.7,-0.2 0.6,1.3 0.7,-0.9 0.7,2 0.7,-0.1 0.7,0.2 0.7,-1.4 0.7,-0.8 0.7,2.4 0.7,-0.4 0.7,0.8 0.7,0.6 0.7,-1.2 0.7,0.4 0.7,-0.4 0.7,0.9 0.7,0.5 0.7,0.1 0.7,-2.4 0.7,4.4 0.7,-0.3 0.7,-0.1 0.7,-0.9 0.7,-0.6 0.7,0.5 0.7,0.7 0.7,-0.7 0.7,0.5 0.7,0.2 0.7,0 0.7,0.8 0.7,0.6 0.7,0.1 0.7,-3.1 0.7,0.1 0.7,0.9 0.7,-0.4 0.7,-0 0.7,1.6 0.7,-0.3 0.7,-1.9 0.7,0.2 0.7,0.3 0.7,1.2 0.7,0.9 0.7,-0.5 0.7,1.1 0.7,-0 0.7,-0.6 0.6,-1 0.7,2.8 0.7,-3.3 0.7,-1.1 0.7,3 0.7,-2.4 0.7,3.2 0.7,-1.2 0.7,-2 0.7,0.2 0.7,4 0.7,1.5 0.7,-4.5 0.7,-0.2 0.7,0.6 0.7,-0.3 0.7,-0.5 0.7,2.3 0.7,-1 0.7,1.1 0.7,-1.6 0.7,0.8 0.7,0.3 0.7,-2.8 0.7,2" fill="none" stroke="#0f35ff" stroke-width="6.6" stroke-linejoin="round" stroke-linecap="round"/>
<path d="M818.0,411.7l0.7,0 0.7,-0.2 0.7,0.8 0.7,-0.9 0.7,-0.1 0.7,0.9 0.7,-0.9 0.7,0.1 0.7,0.3 0.7,-0.2 0.7,-0.1 0.7,0 0.7,-0.3 0.7,0.4 0.7,-0.8 0.7,0.3 0.7,0.2 0.7,0.2 0.7,-0.3 0.7,-0.2 0.7,0.4 0.7,-1.2 0.7,0 0.6,2.2 0.7,-0.4 0.7,-1.8 0.7,0.6 0.7,-0.4 0.7,-0.3 0.7,-1.5 0.7,1.9 0.7,-0.3 0.7,-1.3 0.7,0.8 0.7,-0.4 0.7,0.9 0.7,0.6 0.7,-1.1 0.7,-0.5 0.7,0.9 0.7,-0.4 0.7,-0.3 0.7,1 0.7,-0.8 0.7,-0.7 0.7,-0.1 0.7,1.1 0.7,-1.5 0.7,-0.7 0.7,0.3 0.7,1 0.7,-1.4 0.7,0.8 0.7,-1 0.7,0.9 0.7,-1.5 0.7,0.9 0.7,0.8 0.7,-0.6 0.7,-0.4 0.7,-1 0.7,0.6 0.7,0.4 0.7,-1.2 0.7,0.8 0.7,-0.8 0.7,-0.7 0.7,1.6 0.7,-1.3 0.7,-0.4 0.7,0.9 0.6,-0.1 0.7,-1.1 0.7,0.1 0.7,-0.4 0.7,0.5 0.7,0.6 0.7,-1.2 0.7,0.2 0.7,-0.8 0.7,0.2 0.7,0.7 0.7,-0.1 0.7,-1.4 0.7,-0 0.7,0.3 0.7,-0.6 0.7,-0.7 0.7,0.2 0.7,-0.8 0.7,0.6 0.7,0.1 0.7,-0 0.7,-1.3 0.7,1.9 0.7,-1.3 0.7,-0.2 0.7,1.1 0.7,-1.8 0.7,0.6 0.7,-1.2 0.7,0.6 0.7,-0.7 0.7,-0.6 0.7,0.1 0.7,0.6 0.7,0.5 0.7,-2.5 0.7,1.2 0.7,0.2 0.7,-0.4 0.7,-0.5 0.7,-0.8 0.7,0.1 0.7,0.4 0.7,0.1 0.7,-0.7 0.7,0.5 0.7,-1.2 0.6,-1 0.7,2.2 0.7,-0.4 0.7,-1.1 0.7,-2.7 0.7,3.1 0.7,0.1 0.7,-2 0.7,0.4 0.7,1.4 0.7,-0.2 0.7,-2.6 0.7,0.7 0.7,1.3 0.7,-0.2 0.7,-0.8 0.7,-1.7 0.7,0.3 0.7,-1.8 0.7,0.3 0.7,-1.6 0.7,1.9 0.7,-0.8 0.7,-1.5 0.7,1.7 0.7,0.3 0.7,-2.2 0.7,-1.7 0.7,-0.5 0.7,3.7 0.7,-2.4 0.7,-0.6 0.7,0.4 0.7,-1.5 0.7,-0.5 0.7,-3.5 0.7,3.4 0.7,-1.6 0.7,1.2 0.7,-2.9 0.7,1.3 0.7,-1.2 0.7,1 0.7,-0.3 0.7,-3.4 0.7,0.2 0.7,-2.2 0.7,2 0.6,-0.3 0.7,-0.3 0.7,-0.9 0.7,0.4 0.7,-2.5 0.7,2.1 0.7,-2 0.7,-0.2 0.7,-0.6 0.7,0.6 0.7,-2 0.7,-2 0.7,1.5 0.7,0.8 0.7,-1 0.7,-3.4 0.7,4 0.7,-2.7 0.7,-0.8 0.7,1.9 0.7,-1.1 0.7,-2.7 0.7,2 0.7,-2.3 0.7,-0.4 0.7,1 0.7,-2.9 0.7,1.8 0.7,-2.4 0.7,-0.8 0.7,-0.4 0.7,1.2 0.7,-4 0.7,2.2 0.7,-0.1 0.7,-1 0.7,0.2 0.7,-1.8 0.7,0.4 0.7,-5.2 0.7,3.2 0.7,-0.8 0.7,-2.5 0.7,0.8 0.7,2.2 0.7,-2.5 0.7,-1.6 0.7,1.5 0.6,-2 0.7,-0 0.7,-1.4 0.7,1.2 0.7,-0 0.7,-2.8 0.7,-0.7 0.7,-1.9 0.7,1.4 0.7,-0.2 0.7,-1.9 0.7,-0.9 0.7,-1.4 0.7,1.1 0.7,0.5 0.7,-1.9 0.7,-0 0.7,0.8 0.7,-3 0.7,-0.7 0.7,-0.1 0.7,-1.9 0.7,-0.8 0.7,-0.5 0.7,-1.3 0.7,-0.6 0.7,1.2 0.7,0.2 0.7,-3.9 0.7,-0.4 0.7,1.7 0.7,-3.3 0.7,-0.8 0.7,-3.1 0.7,1.5 0.7,-0.1 0.7,-2.7 0.7,0.9 0.7,-1.2 0.7,-1.5 0.7,1.6 0.7,-2.5 0.7,-1 0.7,-1.2 0.7,1.8 0.7,-1.7 0.7,-0.2 0.7,-1.5 0.6,-2 0.7,0.5 0.7,-2.7 0.7,-1.1 0.7,-1.1 0.7,1.6 0.7,-3.5 0.7,1.3 0.7,-0.5 0.7,-5.8 0.7,3.2 0.7,-3 0.7,-2.6 0.7,-0 0.7,1.4 0.7,-3.1 0.7,0.5 0.7,-1.1 0.7,-1.1 0.7,-1.1 0.7,-0 0.7,-1.5 0.7,1.1 0.7,-2.8 0.7,-0.4 0.7,-3.5 0.7,1 0.7,-1.4 0.7,-1.1 0.7,-0.9 0.7,0.4 0.7,-0.5 0.7,1.2 0.7,-3.4 0.7,-3 0.7,4.4 0.7,-1.4 0.7,-2.8 0.7,0.1 0.7,-0.8 0.7,1.2 0.7,-1.7 0.7,-3 0.7,0.2 0.7,-0.6 0.7,0.1 0.7,-1.3 0.7,0 0.6,0.5 0.7,-0.3 0.7,-3.6 0.7,1.2 0.7,-0.1 0.7,1 0.7,-2.9 0.7,-1.8 0.7,2.9 0.7,-0 0.7,-3.7 0.7,2.1 0.7,-3.4 0.7,2.7 0.7,1.7 0.7,-4.6 0.7,0.5 0.7,-1.4 0.7,0.8 0.7,0.1 0.7,-1.8 0.7,2.8 0.7,-0.4 0.7,-2.8 0.7,1 0.7,-2.9 0.7,4.3 0.7,-1.9 0.7,0.6 0.7,1.1 0.7,-2.6 0.7,1.4 0.7,-0.9 0.7,-2 0.7,2 0.7,-0.1 0.7,0.8 0.7,-1.1 0.7,1.5 0.7,0.8 0.7,0.4 0.7,0.3 0.7,1.8 0.7,-0.2 0.7,3.9 0.7,0 0.7,0.1 0.7,2.1 0.6,1 0.7,0.9 0.7,2.4 0.7,1.7 0.7,1.8 0.7,0.5 0.7,1.7 0.7,2.6 0.7,0.3 0.7,1 0.7,0.9 0.7,3.9 0.7,0.6 0.7,0.5 0.7,3 0.7,0.5 0.7,1 0.7,1.3 0.7,2.8 0.7,-0.3 0.7,1.9 0.7,0.3 0.7,1.3 0.7,0.7 0.7,3 0.7,0.1 0.7,0.4 0.7,0 0.7,1.7 0.7,0.8 0.7,-0.2 0.7,1.4 0.7,1.5 0.7,0.6 0.7,0.1 0.7,1.5 0.7,-0.5 0.7,0.7 0.7,1.1 0.7,-0.8 0.7,2.3 0.7,-0 0.7,-0.2 0.7,-1.6 0.7,3 0.7,-1.1 0.7,0.4 0.7,0.3 0.6,0.5 0.7,1.3 0.7,1.4 0.7,-1.9 0.7,1.8 0.7,-0.7 0.7,1.1 0.7,-1.1 0.7,0.1 0.7,1.5 0.7,-0.7 0.7,0.8 0.7,0 0.7,0.6 0.7,0.2 0.7,-0.3 0.7,0.3 0.7,0.9 0.7,-1.3 0.7,2.3 0.7,-0.9 0.7,0.3 0.7,-0.8 0.7,2.3 0.7,-2 0.7,2 0.7,-0.1 0.7,0.7 0.7,-0.5 0.7,0.8 0.7,1 0.7,0 0.7,0.1 0.7,0.6 0.7,-1 0.7,-0.6 0.7,0.5 0.7,0.7 0.7,0.8 0.7,-0.2 0.7,-0.4 0.7,-0.5 0.7,1.3 0.7,1 0.7,0.1 0.7,0.2 0.7,0.7 0.7,-0.4 0.6,-0.5 0.7,-0.4 0.7,1.1 0.7,-0.9 0.7,0.9 0.7,1.2 0.7,-1.3 0.7,1.1 0.7,0.6 0.7,-0.3 0.7,0.7 0.7,0 0.7,-0 0.7,0.2 0.7,0.4 0.7,0.9 0.7,-0.3 0.7,0.6 0.7,-0.6 0.7,0.1 0.7,0.2 0.7,-0.1 0.7,0.2 0.7,0.8 0.7,-0.1 0.7,-0.6 0.7,-0.3 0.7,0.8 0.7,-1.2 0.7,1.7 0.7,-0.3 0.7,-0.5 0.7,1.2 0.7,0.6 0.7,1.1 0.7,-2.1 0.7,-0.2 0.7,0.7 0.7,0.5 0.7,0.3 0.7,-1.1 0.7,2.9 0.7,-1.8 0.7,0.3 0.7,1.1 0.7,-2.3 0.7,2.9 0.7,-0.5 0.6,0.7 0.7,-2.3 0.7,1.8 0.7,-0.5 0.7,0.5 0.7,-0.3 0.7,1.1 0.7,0.1 0.7,-2.2 0.7,2.5 0.7,0 0.7,-0 0.7,-0.9 0.7,0.5 0.7,-0.4 0.7,1.2 0.7,-1 0.7,0.3 0.7,1.3 0.7,-1.8 0.7,-0.1 0.7,1.9 0.7,-0.1 0.7,-1 0.7,2.1 0.7,0.8 0.7,-0.8 0.7,-0.2 0.7,-0.1 0.7,-0.1 0.7,-0.3 0.7,1.1 0.7,-0.7 0.7,-0.9 0.7,0.5 0.7,0.3 0.7,0.5 0.7,-0.1 0.7,1.5 0.7,-1.3 0.7,0.1 0.7,-0.1 0.7,0.7 0.7,1.1 0.7,-1 0.7,-0.9 0.7,2.1 0.7,-0.5 0.6,0.2 0.7,0.5 0.7,-1.4 0.7,-0.4 0.7,0.5 0.7,0.9 0.7,-0.6 0.7,0.9 0.7,0.8 0.7,-1.6 0.7,0.2 0.7,0.3 0.7,0.9 0.7,-0.4 0.7,0.5 0.7,-1.1 0.7,1.3 0.7,1.4 0.7,-1.5 0.7,-1.4 0.7,1.1 0.7,-0.1 0.7,0.9 0.7,1 0.7,0.6" fill="none" stroke="#d580f8" stroke-width="6.6" stroke-linejoin="round" stroke-linecap="round"/>
<path d="M818,22H1220V423H818Z" fill="none" stroke="#000" stroke-width="3.6" stroke-linejoin="miter"/>
<line x1="806.0" y1="423.0" x2="818.0" y2="423.0" stroke="#000" stroke-width="3.6" />
<text x="804.5" y="433.5" font-size="29.5" text-anchor="end" >0.0</text>
<line x1="806.0" y1="289.3" x2="818.0" y2="289.3" stroke="#000" stroke-width="3.6" />
<text x="804.5" y="299.8" font-size="29.5" text-anchor="end" >0.5</text>
<line x1="806.0" y1="155.7" x2="818.0" y2="155.7" stroke="#000" stroke-width="3.6" />
<text x="804.5" y="166.2" font-size="29.5" text-anchor="end" >1.0</text>
<line x1="806.0" y1="22.0" x2="818.0" y2="22.0" stroke="#000" stroke-width="3.6" />
<text x="804.5" y="32.5" font-size="29.5" text-anchor="end" >1.5</text>
<line x1="818.0" y1="423.0" x2="818.0" y2="434.5" stroke="#000" stroke-width="3.6" />
<text x="818.0" y="462.0" font-size="29.5" text-anchor="middle" >0</text>
<line x1="885.0" y1="423.0" x2="885.0" y2="434.5" stroke="#000" stroke-width="3.6" />
<text x="885.0" y="462.0" font-size="29.5" text-anchor="middle" >24</text>
<line x1="952.0" y1="423.0" x2="952.0" y2="434.5" stroke="#000" stroke-width="3.6" />
<text x="952.0" y="462.0" font-size="29.5" text-anchor="middle" >48</text>
<line x1="1019.0" y1="423.0" x2="1019.0" y2="434.5" stroke="#000" stroke-width="3.6" />
<text x="1019.0" y="462.0" font-size="29.5" text-anchor="middle" >72</text>
<line x1="1086.0" y1="423.0" x2="1086.0" y2="434.5" stroke="#000" stroke-width="3.6" />
<text x="1086.0" y="462.0" font-size="29.5" text-anchor="middle" >96</text>
<line x1="1153.0" y1="423.0" x2="1153.0" y2="434.5" stroke="#000" stroke-width="3.6" />
<text x="1153.0" y="462.0" font-size="29.5" text-anchor="middle" >120</text>
<line x1="1220.0" y1="423.0" x2="1220.0" y2="434.5" stroke="#000" stroke-width="3.6" />
<text x="1220.0" y="462.0" font-size="29.5" text-anchor="middle" >144</text>
<text x="1019.0" y="489.0" font-size="29.5" text-anchor="middle" >Time (hour)</text>
<text transform="translate(758.3,217.6) rotate(-90)" text-anchor="middle" font-size="30">OD<tspan font-size="22" dy="9.7">600</tspan></text>
<line x1="846.5" y1="53.2" x2="874.5" y2="53.2" stroke="#d580f8" stroke-width="6.5" stroke-linecap="round"/>
<text x="891.3" y="60.4" font-size="21.8" xml:space="preserve">QP478 (<tspan font-style="italic">λ</tspan>=37; <tspan font-style="italic">μ</tspan><tspan font-size="16" dy="5.5">A</tspan><tspan dy="-5.5">=0.0126)</tspan></text>
<line x1="846.5" y1="89.4" x2="874.5" y2="89.4" stroke="#ff2200" stroke-width="6.5" stroke-linecap="round"/>
<text x="891.3" y="96.6" font-size="21.8" xml:space="preserve">LC171  (<tspan font-style="italic">λ</tspan>=57; <tspan font-style="italic">μ</tspan><tspan font-size="16" dy="5.5">A</tspan><tspan dy="-5.5">=0.0116)</tspan></text>
<line x1="846.5" y1="125.6" x2="874.5" y2="125.6" stroke="#0f35ff" stroke-width="6.5" stroke-linecap="round"/>
<text x="891.3" y="132.8" font-size="21.8" xml:space="preserve">LC173  (<tspan font-style="italic">λ</tspan>=44; <tspan font-style="italic">μ</tspan><tspan font-size="16" dy="5.5">A</tspan><tspan dy="-5.5">=0.0154)</tspan></text>
<path d="M115.3,906.9l0.7,3.4 0.7,-2.5 0.7,-0.2 0.7,-0.9 0.7,1.1 0.7,-0.5 0.7,1 0.6,0.9 0.7,-1.3 0.7,1 0.7,0.4 0.7,0 0.7,-2 0.7,0.4 0.7,1.9 0.7,-0.8 0.7,0.3 0.7,-2 0.7,2.1 0.7,-1.5 0.7,0.3 0.7,-1.8 0.6,1.4 0.7,1.6 0.7,-2.2 0.7,2.3 0.7,-1.1 0.7,2.2 0.7,-2 0.7,-0 0.7,0.5 0.7,-0.4 0.7,0.1 0.7,-0.2 0.7,-0.4 0.7,-0.5 0.7,1.8 0.6,-0.3 0.7,-0.9 0.7,0.3 0.7,-0 0.7,0.2 0.7,-1 0.7,-0.2 0.7,0.9 0.7,0.1 0.7,1 0.7,-1.7 0.7,-0 0.7,0.7 0.7,-0.7 0.7,0 0.7,1 0.6,-0.2 0.7,-1.4 0.7,-0.1 0.7,-0.1 0.7,1.8 0.7,0.1 0.7,-0.5 0.7,-0.4 0.7,1.5 0.7,-1.1 0.7,0 0.7,-1 0.7,0.7 0.7,3.1 0.7,-2 0.6,0.4 0.7,-0.6 0.7,-0.8 0.7,-1.4 0.7,1.5 0.7,0.5 0.7,0.1 0.7,-0.1 0.7,-0.5 0.7,0.7 0.7,-1.2 0.7,0.3 0.7,0.8 0.7,0.7 0.7,-1.8 0.6,-0.9 0.7,1.5 0.7,0.2 0.7,-1.7 0.7,1.3 0.7,-0.8 0.7,-1.7 0.7,2.1 0.7,-1.3 0.7,1 0.7,-1.3 0.7,-0.4 0.7,1.8 0.7,-0.7 0.7,0.1 0.6,-1.5 0.7,-1.2 0.7,0.8 0.7,1.5 0.7,0.1 0.7,-0.3 0.7,-0.3 0.7,-2.6 0.7,3.9 0.7,-1.3 0.7,-0.5 0.7,-0.3 0.7,0.3 0.7,-0 0.7,-0.8 0.6,-0.8 0.7,2.1 0.7,-0.5 0.7,-0.3 0.7,-1 0.7,0.9 0.7,1.3 0.7,-1.9 0.7,-2.3 0.7,3.2 0.7,-1.7 0.7,1.5 0.7,-0.8 0.7,-0.1 0.7,0.8 0.6,-0.2 0.7,0.4 0.7,-3.2 0.7,0.9 0.7,0 0.7,-0.3 0.7,1.5 0.7,-2.2 0.7,0.1 0.7,0.3 0.7,1.5 0.7,-1 0.7,-2.4 0.7,2.2 0.7,-1.6 0.7,0.2 0.6,0.1 0.7,-0.5 0.7,0.7 0.7,0.1 0.7,-0.6 0.7,0.9 0.7,-0.3 0.7,-1 0.7,-0.1 0.7,1.4 0.7,-0.8 0.7,-3.4 0.7,3.1 0.7,-1 0.7,-1.7 0.6,2.2 0.7,2.2 0.7,-1.3 0.7,-0.3 0.7,-2.5 0.7,-1.1 0.7,3.5 0.7,-4 0.7,2.5 0.7,-0.9 0.7,-0.8 0.7,0.3 0.7,-0.1 0.7,-0.6 0.7,2 0.6,-1.4 0.7,-1.6 0.7,1 0.7,-1.2 0.7,0.7 0.7,-0.2 0.7,-1 0.7,0.8 0.7,1 0.7,1 0.7,-3.5 0.7,2.1 0.7,-1.4 0.7,1.3 0.7,-1 0.6,-2.2 0.7,2.2 0.7,0.2 0.7,0.1 0.7,-2.2 0.7,2.6 0.7,0.2 0.7,-1.1 0.7,-0.3 0.7,-1.3 0.7,0 0.7,0.1 0.7,0.1 0.7,-1.2 0.7,0.3 0.6,-0.9 0.7,0.7 0.7,-0.6 0.7,-2.6 0.7,2.7 0.7,-1.5 0.7,-0.2 0.7,-2.3 0.7,1.7 0.7,-1.5 0.7,-0 0.7,-0.9 0.7,0.6 0.7,1 0.7,-1.8 0.6,0.8 0.7,-2.3 0.7,-0.8 0.7,0 0.7,-1.2 0.7,4.3 0.7,-2.4 0.7,-1.3 0.7,1.6 0.7,-0.9 0.7,-2.2 0.7,0.9 0.7,0.4 0.7,-1.3 0.7,-1.3 0.6,-0.7 0.7,1.7 0.7,-1.7 0.7,1.9 0.7,-1.9 0.7,0.5 0.7,-1.5 0.7,-0.7 0.7,1.6 0.7,-2.9 0.7,1 0.7,-1.2 0.7,-0.2 0.7,-0.8 0.7,-0.1 0.7,-0.6 0.6,-1.8 0.7,-0.3 0.7,2.5 0.7,-2.6 0.7,0.6 0.7,-1.7 0.7,-1.4 0.7,-0.2 0.7,-0.3 0.7,-0.4 0.7,1.7 0.7,-2.4 0.7,-1.5 0.7,-1.2 0.7,0.4 0.6,1.8 0.7,-4.3 0.7,2.8 0.7,-2.3 0.7,-0.3 0.7,-0.5 0.7,0.8 0.7,-1.8 0.7,-2 0.7,1.2 0.7,-0.7 0.7,-1.4 0.7,-2.1 0.7,-1.6 0.7,1.4 0.6,-3.1 0.7,1 0.7,-0.4 0.7,-0.6 0.7,-1.9 0.7,-1.7 0.7,1.3 0.7,-2.4 0.7,-1.8 0.7,-1.3 0.7,-0.3 0.7,-0.4 0.7,-2 0.7,-1.1 0.7,-0.4 0.6,-0.9 0.7,1 0.7,-3.3 0.7,2.5 0.7,-3.1 0.7,-0.9 0.7,-0.8 0.7,-1.9 0.7,0.1 0.7,0.7 0.7,-2.2 0.7,-0.1 0.7,-1.3 0.7,-1.6 0.7,1.8 0.6,-2.9 0.7,-0.9 0.7,-0.3 0.7,-0.8 0.7,1.8 0.7,-1.9 0.7,-2 0.7,1.5 0.7,-1.1 0.7,-0.5 0.7,-0.5 0.7,-3.2 0.7,2.6 0.7,-0.4 0.7,-0.6 0.6,-4.1 0.7,1.1 0.7,-3.1 0.7,5 0.7,-3.4 0.7,-2.6 0.7,4.2 0.7,-5.5 0.7,-2.2 0.7,0.5 0.7,0.5 0.7,1.1 0.7,-4.2 0.7,0.6 0.7,2.6 0.7,-0.8 0.6,-4.4 0.7,0.9 0.7,-6 0.7,4.7 0.7,-1.1 0.7,-3.5 0.7,0.2 0.7,2.3 0.7,-1 0.7,-0.4 0.7,-1.9 0.7,-0 0.7,-3.8 0.7,3.1 0.7,-2.7 0.6,2.3 0.7,-5.9 0.7,1.6 0.7,3.5 0.7,-1.8 0.7,-1.1 0.7,-6 0.7,2.8 0.7,-0.7 0.7,-3.8 0.7,-0.4 0.7,2.8 0.7,-2 0.7,-0.5 0.7,-0.7 0.6,-2.6 0.7,-3.1 0.7,2.1 0.7,-4.2 0.7,4.5 0.7,-2.5 0.7,-7.5 0.7,2.8 0.7,-0.9 0.7,-5.7 0.7,-0.1 0.7,-1 0.7,0.7 0.7,1.2 0.7,-2.2 0.6,-3.8 0.7,0.9 0.7,-4.2 0.7,4.9 0.7,-8.7 0.7,4.4 0.7,-0.2 0.7,-4.2 0.7,-1.4 0.7,-1 0.7,-1.1 0.7,0.5 0.7,0.4 0.7,-5.7 0.7,0.1 0.6,-2.5 0.7,0.2 0.7,-3.4 0.7,0.2 0.7,-4.1 0.7,2.4 0.7,-1.3 0.7,-2.7 0.7,0.1 0.7,-2.7 0.7,-3.1 0.7,-0.8 0.7,0.3 0.7,1 0.7,-1.3 0.6,-1.2 0.7,2.4 0.7,0.8 0.7,0.4 0.7,-0.2 0.7,1.8 0.7,-0.5 0.7,4.7 0.7,-2.4 0.7,-0.8 0.7,2.9 0.7,-2.2 0.7,-2.1 0.7,2.8 0.7,1.9 0.7,-5.9 0.6,6.7 0.7,-6.2 0.7,1.3 0.7,1.3 0.7,-1.3 0.7,1.4 0.7,-3.4 0.7,-4.1 0.7,2.7 0.7,0.7 0.7,-3.4 0.7,-1.1 0.7,0.2 0.7,0.2 0.7,1.1 0.6,-6.8 0.7,1.9 0.7,1 0.7,-4.7 0.7,-2.5 0.7,3.2 0.7,-2.8 0.7,-3.4 0.7,-0.5 0.7,3.1 0.7,0.9 0.7,-2.5 0.7,-4.3 0.7,0.6 0.7,6.3 0.6,-7.9 0.7,6.9 0.7,-2.7 0.7,3.2 0.7,-0.1 0.7,-0.8 0.7,-3.5 0.7,5.2 0.7,-2.1 0.7,2.1 0.7,0.4 0.7,-0.1 0.7,1.9 0.7,-1.6 0.7,-2.5 0.6,0.5 0.7,5.7 0.7,-3.5 0.7,-1.5 0.7,0.4 0.7,1.3 0.7,-3.8 0.7,-0.6 0.7,0.5 0.7,3.1 0.7,-6.7 0.7,1.5 0.7,-1.2 0.7,-3.3 0.7,-0.6 0.6,2.9 0.7,-1 0.7,-0.5 0.7,-1 0.7,-0.8 0.7,-0.5 0.7,-0.6 0.7,-2.1 0.7,3.1 0.7,1.5 0.7,-2.7 0.7,-2.8 0.7,2.9 0.7,3.7 0.7,-3.7 0.6,5.9 0.7,-3.3 0.7,2 0.7,0.7 0.7,-1.1 0.7,3.4 0.7,3.1 0.7,-0.8 0.7,-1 0.7,3.5 0.7,2.8 0.7,2 0.7,1 0.7,-1.1 0.7,1.2 0.6,1.2 0.7,-3.6 0.7,4.7 0.7,-0.4 0.7,2.8 0.7,-0.1 0.7,-1.7 0.7,5.4 0.7,3.8 0.7,-2 0.7,-2.2 0.7,4 0.7,-1.3 0.7,-1.1 0.7,0.1 0.7,3.2 0.6,-3.4 0.7,0.4 0.7,0.3 0.7,1.7 0.7,1.4 0.7,1.8 0.7,-3 0.7,-1 0.7,2.6 0.7,4.2 0.7,-3.5 0.7,4 0.7,-1.2 0.7,1.6 0.7,1.3 0.6,-4.3 0.7,2.2 0.7,1.7 0.7,-2.2 0.7,-1 0.7,1.5 0.7,0.3 0.7,1.9 0.7,-0.5 0.7,3.2 0.7,-0.9 0.7,-4.3 0.7,3 0.7,-1.3 0.7,-2.1 0.6,6.6 0.7,-0.9 0.7,2.1 0.7,-5.2 0.7,3.3 0.7,1.2 0.7,0.1 0.7,-0.6" fill="none" stroke="#a87843" stroke-width="6.6" stroke-linejoin="round" stroke-linecap="round"/>
<path d="M115.3,906.5l0.7,1.8 0.7,0.6 0.7,1.4 0.7,-2.8 0.7,-1.8 0.7,1.3 0.7,-0.6 0.6,-0.6 0.7,2 0.7,-3.8 0.7,3.7 0.7,-1.4 0.7,-2.6 0.7,3 0.7,-0.2 0.7,0.6 0.7,-1 0.7,2.6 0.7,-1.6 0.7,-2.6 0.7,1.6 0.7,0.4 0.6,-0.7 0.7,-0.1 0.7,0.2 0.7,-0.5 0.7,2.4 0.7,-2.5 0.7,1.3 0.7,-1.6 0.7,0.9 0.7,1 0.7,-1.1 0.7,1 0.7,-2.2 0.7,1 0.7,-1 0.6,2.1 0.7,-3 0.7,2 0.7,-1.8 0.7,0.5 0.7,2 0.7,-1.5 0.7,0.9 0.7,-1.1 0.7,-1.1 0.7,0.7 0.7,-0.4 0.7,2.3 0.7,-1.5 0.7,-0.2 0.7,-0.9 0.6,1.8 0.7,-1.3 0.7,0.1 0.7,2 0.7,-0.5 0.7,-1.6 0.7,1.6 0.7,0 0.7,-2.3 0.7,0.6 0.7,0.5 0.7,-0.4 0.7,0.5 0.7,0.1 0.7,-0.1 0.6,-1 0.7,-1 0.7,1.9 0.7,-0.5 0.7,0.1 0.7,1.1 0.7,-1.7 0.7,-0.7 0.7,1.8 0.7,-1.9 0.7,1.5 0.7,-1.9 0.7,-0.2 0.7,1.7 0.7,1.6 0.6,-1.8 0.7,1.1 0.7,-0.2 0.7,-1.2 0.7,-1.8 0.7,1.5 0.7,0.1 0.7,1.7 0.7,-1.4 0.7,0.8 0.7,-2.2 0.7,1.1 0.7,-0.6 0.7,-0.1 0.7,0.1 0.6,-1.2 0.7,0.4 0.7,0.8 0.7,-0.6 0.7,-0.5 0.7,-0.9 0.7,1.3 0.7,-1.5 0.7,2.1 0.7,-0.4 0.7,1.2 0.7,-2.5 0.7,1.9 0.7,-0 0.7,-2.1 0.6,1.4 0.7,0.2 0.7,-1.9 0.7,1.2 0.7,-1.3 0.7,1.4 0.7,-1.3 0.7,-0.5 0.7,1 0.7,-2 0.7,2.3 0.7,-0.3 0.7,-0.4 0.7,-1.1 0.7,1.2 0.6,-0.1 0.7,-1 0.7,-1.5 0.7,1.1 0.7,0.2 0.7,-2.1 0.7,-1.7 0.7,0.3 0.7,-1.6 0.7,1.2 0.7,-2.9 0.7,-1 0.7,-1.5 0.7,-0.6 0.7,-1.4 0.7,0.9 0.6,-2.6 0.7,1.5 0.7,-2 0.7,-2.8 0.7,-0.6 0.7,1.9 0.7,-3.5 0.7,0.2 0.7,-0.5 0.7,-1.8 0.7,-0.8 0.7,-2.2 0.7,2.3 0.7,-1.9 0.7,-1.1 0.6,1 0.7,-5.9 0.7,-2 0.7,1.2 0.7,-3.4 0.7,3.7 0.7,-1 0.7,-5.2 0.7,1.1 0.7,2.6 0.7,-6.2 0.7,0.4 0.7,0.3 0.7,1.2 0.7,-3.4 0.6,3.1 0.7,-2.9 0.7,-4 0.7,3.4 0.7,-3 0.7,-4.5 0.7,1.5 0.7,0 0.7,-1.5 0.7,-1.2 0.7,0.4 0.7,-0.2 0.7,-3.8 0.7,-2.2 0.7,-7.9 0.6,0.1 0.7,2.5 0.7,-2.5 0.7,-0.1 0.7,-1.6 0.7,-4.3 0.7,3.3 0.7,-1.7 0.7,-4.1 0.7,-2.5 0.7,-2.2 0.7,-7.4 0.7,2.6 0.7,-0.9 0.7,-4.5 0.6,-8.2 0.7,-1.2 0.7,0.6 0.7,-4.3 0.7,-1.3 0.7,-4.4 0.7,-4.3 0.7,-1.6 0.7,-0.6 0.7,-2.7 0.7,-4.3 0.7,0.4 0.7,-3 0.7,2.4 0.7,-1.8 0.6,-3 0.7,-4 0.7,2.7 0.7,-4.5 0.7,-1.9 0.7,-0.2 0.7,0.5 0.7,-2.2 0.7,-4.1 0.7,0.5 0.7,-11.2 0.7,1.8 0.7,-1.1 0.7,-1.6 0.7,-3.4 0.6,0.9 0.7,-4.1 0.7,-6.2 0.7,5.7 0.7,-0.2 0.7,-2.7 0.7,1.5 0.7,-2.2 0.7,-3.2 0.7,5.1 0.7,-7.1 0.7,2.4 0.7,-1.4 0.7,3.7 0.7,-1.4 0.7,0.9 0.6,-2.8 0.7,3.6 0.7,-1.8 0.7,1.1 0.7,1.1 0.7,-2 0.7,-1 0.7,3.2 0.7,-4.6 0.7,7.4 0.7,-4.4 0.7,2 0.7,0.7 0.7,1.4 0.7,1.5 0.6,0.4 0.7,-1.6 0.7,1.9 0.7,-2 0.7,4 0.7,-0.5 0.7,0.8 0.7,-1 0.7,0 0.7,0.5 0.7,-5.3 0.7,7.7 0.7,-6.3 0.7,4.3 0.7,1.2 0.6,-1.4 0.7,0 0.7,2.7 0.7,-2.1 0.7,-4.7 0.7,4.5 0.7,-3.1 0.7,2.6 0.7,3 0.7,-9.4 0.7,5.3 0.7,2.7 0.7,1.7 0.7,-1.9 0.7,-0.5 0.6,5.2 0.7,-3.1 0.7,-2.7 0.7,2.6 0.7,-1.1 0.7,-1 0.7,6.9 0.7,-6.6 0.7,1.7 0.7,1 0.7,0.8 0.7,-1.7 0.7,-1.8 0.7,4.7 0.7,1.1 0.6,1.8 0.7,-2 0.7,-3.4 0.7,0.2 0.7,3.9 0.7,-4.1 0.7,4.6 0.7,-1.7 0.7,-0.5 0.7,3.2 0.7,-1.9 0.7,2 0.7,-1 0.7,1 0.7,0.9 0.6,-2.3 0.7,1.8 0.7,1.6 0.7,-6.1 0.7,7.1 0.7,-2.1 0.7,-5.4 0.7,6.2 0.7,-2.7 0.7,1.5 0.7,3.6 0.7,-2.4 0.7,2 0.7,-5.1 0.7,7 0.7,-6.9 0.6,4.6 0.7,-0 0.7,0.7 0.7,-2 0.7,2.6 0.7,0.1 0.7,1.6 0.7,0.4 0.7,-1.3 0.7,-4 0.7,1.4 0.7,2.5 0.7,2.7 0.7,-3.2 0.7,-1.1 0.6,2.3 0.7,0.5 0.7,0.3 0.7,2.7 0.7,-2.8 0.7,1.7 0.7,1 0.7,-0.9 0.7,1.6 0.7,-3.9 0.7,-1.5 0.7,3.4 0.7,2.8 0.7,-5.5 0.7,2.5 0.6,-2.6 0.7,3 0.7,1.1 0.7,-2.5 0.7,5.2 0.7,-1.2 0.7,-8.8 0.7,9.7 0.7,1.6 0.7,-5 0.7,0.6 0.7,-0.6 0.7,1.9 0.7,-2.6 0.7,2.7 0.6,-2 0.7,5.1 0.7,-0.9 0.7,-1.8 0.7,4 0.7,-1 0.7,-4.7 0.7,3.7 0.7,3.3 0.7,-2.4 0.7,1.8 0.7,-4.9 0.7,5.6 0.7,-3.9 0.7,-2 0.6,-5.5 0.7,9 0.7,-5.2 0.7,8.7 0.7,-2.7 0.7,2 0.7,-3.2 0.7,3.4 0.7,-0.6 0.7,-0.1 0.7,2.8 0.7,-3.7 0.7,1 0.7,-0.2 0.7,2.1 0.6,-0.3 0.7,-6.3 0.7,9.5 0.7,-1.8 0.7,-1.1 0.7,-3.3 0.7,2.7 0.7,-0.7 0.7,0 0.7,-3.1 0.7,4.3 0.7,2.4 0.7,-0.9 0.7,2.2 0.7,-7.3 0.7,1.6 0.6,6.8 0.7,-2.6 0.7,-2.6 0.7,1.3 0.7,-0.3 0.7,-2.5 0.7,4.9 0.7,-1.7 0.7,-1.3 0.7,5.3 0.7,-1.1 0.7,-3 0.7,1.7 0.7,-1.4 0.7,-1.4 0.6,1 0.7,4.5 0.7,-1.8 0.7,-3.1 0.7,5.8 0.7,-4.9 0.7,2.2 0.7,4.6 0.7,-4.6 0.7,2.8 0.7,0.9 0.7,-2.2 0.7,3.6 0.7,-3.6 0.7,0.2 0.6,-1.4 0.7,1.9 0.7,2.1 0.7,-1.5 0.7,0.8 0.7,-1.5 0.7,-0.6 0.7,3.5 0.7,-2.4 0.7,2 0.7,-1 0.7,-1.4 0.7,1.2 0.7,-1.2 0.7,-1.8 0.6,0.3 0.7,5.1 0.7,-2.7 0.7,-1.4 0.7,-1.9 0.7,7 0.7,-6.1 0.7,2.7 0.7,2.8 0.7,0.1 0.7,-0.7 0.7,-5.6 0.7,3.4 0.7,3.4 0.7,-3.8 0.6,4.9 0.7,-0.1 0.7,-1 0.7,1 0.7,-3.3 0.7,1.9 0.7,-2 0.7,1 0.7,-1.1 0.7,2.2 0.7,-5.2 0.7,5.2 0.7,1.8 0.7,-1.9 0.7,-2.4 0.6,3.5 0.7,0.6 0.7,0.2 0.7,-2.4 0.7,3.7 0.7,-0 0.7,-0 0.7,-0.5 0.7,1.5 0.7,-7.4 0.7,4.5 0.7,0.9 0.7,1.3 0.7,-4.7 0.7,-2 0.6,1.6 0.7,2.2 0.7,1.7 0.7,0.9 0.7,-2.4 0.7,1.4 0.7,1.7 0.7,-0.8 0.7,0.8 0.7,-0.5 0.7,-2.5 0.7,-1.3 0.7,0.9 0.7,2.2 0.7,0.1 0.7,1.4 0.6,0.9 0.7,-4.5 0.7,-0.4 0.7,3.3 0.7,-1.4 0.7,1.6 0.7,1 0.7,-2.1 0.7,4.7 0.7,-7 0.7,4.7 0.7,1 0.7,-1.9 0.7,-4.7 0.7,6.6 0.6,-0.2 0.7,-0.1 0.7,-2.8 0.7,-3.6 0.7,5.4 0.7,-1.8 0.7,1.3 0.7,-1.3 0.7,-1.8 0.7,4.4 0.7,-0.5 0.7,-4.9 0.7,2.3 0.7,-2.7 0.7,-0.3 0.6,3.7 0.7,2.1 0.7,-0.4 0.7,0.3 0.7,-1 0.7,-1.4 0.7,1.2 0.7,1.5 0,25.1 -0.7,-5.4 -0.7,-2 -0.7,1.8 -0.7,0.1 -0.7,4 -0.7,-0.6 -0.7,-4.5 -0.6,1.9 -0.7,1.4 -0.7,0.2 -0.7,-3.2 -0.7,0.3 -0.7,3.2 -0.7,0.6 -0.7,-1.2 -0.7,-0.8 -0.7,4.6 -0.7,-5.8 -0.7,4.9 -0.7,2.5 -0.7,-5 -0.7,0.7 -0.6,-2 -0.7,0.5 -0.7,1.9 -0.7,1.7 -0.7,2.2 -0.7,-3.2 -0.7,-1.8 -0.7,-1.8 -0.7,-1.2 -0.7,1 -0.7,3.1 -0.7,-3.6 -0.7,0.8 -0.7,5.1 -0.7,2.3 -0.6,-9.1 -0.7,1.1 -0.7,0.7 -0.7,3.5 -0.7,-5.2 -0.7,3.7 -0.7,-3.6 -0.7,2.9 -0.7,-4 -0.7,2.9 -0.7,-2.5 -0.7,1.7 -0.7,-1 -0.7,-2 -0.7,2.8 -0.7,-0.9 -0.6,-1.8 -0.7,1 -0.7,2 -0.7,3 -0.7,-0.3 -0.7,-3.7 -0.7,1.5 -0.7,2.7 -0.7,-6 -0.7,4.4 -0.7,-2.1 -0.7,-1 -0.7,1.7 -0.7,-1.5 -0.7,-1.4 -0.6,0 -0.7,0.6 -0.7,-0.2 -0.7,-2 -0.7,1.4 -0.7,8.2 -0.7,-8.9 -0.7,3.8 -0.7,-1.7 -0.7,1.4 -0.7,-5.3 -0.7,1.4 -0.7,0.1 -0.7,3.5 -0.7,1.4 -0.6,-2.2 -0.7,0.4 -0.7,-2.9 -0.7,-1.2 -0.7,2.3 -0.7,0.6 -0.7,-0 -0.7,-4 -0.7,3.9 -0.7,-2.7 -0.7,-2.8 -0.7,3.8 -0.7,-0.7 -0.7,-0.4 -0.7,-2.3 -0.6,-0.1 -0.7,5 -0.7,-1.8 -0.7,0.7 -0.7,-0.6 -0.7,-0.2 -0.7,-0.9 -0.7,3.9 -0.7,-4.6 -0.7,5 -0.7,-1.6 -0.7,-4.2 -0.7,7.3 -0.7,-7.2 -0.7,0.7 -0.6,-3.4 -0.7,0.3 -0.7,3.4 -0.7,1.8 -0.7,-4.1 -0.7,2.3 -0.7,-2.6 -0.7,1.7 -0.7,4 -0.7,-7.6 -0.7,4 -0.7,-1.8 -0.7,0.3 -0.7,-1.8 -0.7,-2.2 -0.6,8.5 -0.7,-4.8 -0.7,-1.4 -0.7,4.4 -0.7,-3.5 -0.7,1.8 -0.7,-1.5 -0.7,-1.5 -0.7,0.6 -0.7,-3 -0.7,0.8 -0.7,-1 -0.7,3.7 -0.7,-2.7 -0.7,2.2 -0.6,-2.2 -0.7,3.5 -0.7,-1.4 -0.7,-2.7 -0.7,5.6 -0.7,1.7 -0.7,-6.5 -0.7,-1.9 -0.7,4.3 -0.7,-2.8 -0.7,0.4 -0.7,-1.3 -0.7,-0.7 -0.7,3.6 -0.7,-6.5 -0.7,1.9 -0.6,4.8 -0.7,-1.9 -0.7,-4 -0.7,0.6 -0.7,0.1 -0.7,0.3 -0.7,1.1 -0.7,-1.2 -0.7,1 -0.7,3.1 -0.7,-6.4 -0.7,10.3 -0.7,-10.5 -0.7,3.5 -0.7,-3.7 -0.6,1.2 -0.7,3.6 -0.7,-2.6 -0.7,-3.1 -0.7,1.7 -0.7,-1 -0.7,1.6 -0.7,3.1 -0.7,-2.1 -0.7,-3.8 -0.7,0.8 -0.7,-0.9 -0.7,0.5 -0.7,1.5 -0.7,-1.3 -0.6,2.9 -0.7,-4.3 -0.7,2 -0.7,-2.8 -0.7,5.9 -0.7,-2.4 -0.7,-1.3 -0.7,-1.4 -0.7,1 -0.7,-1 -0.7,0.7 -0.7,0.9 -0.7,-4.4 -0.7,1.6 -0.7,0.1 -0.6,-3.1 -0.7,3.8 -0.7,-2.3 -0.7,3.8 -0.7,-3.5 -0.7,0 -0.7,0 -0.7,1.2 -0.7,-1.1 -0.7,1.5 -0.7,-3.2 -0.7,0.7 -0.7,-0.2 -0.7,-1.9 -0.7,5.6 -0.6,-5.1 -0.7,2.4 -0.7,1.5 -0.7,-4.6 -0.7,-2.1 -0.7,0.9 -0.7,1 -0.7,0.7 -0.7,-0.3 -0.7,1.8 -0.7,0.3 -0.7,-5 -0.7,3.2 -0.7,-3.3 -0.7,2.3 -0.6,-4.8 -0.7,3.7 -0.7,1 -0.7,-0 -0.7,0.9 -0.7,-2.9 -0.7,1.3 -0.7,2.2 -0.7,-1.2 -0.7,-2.1 -0.7,0.7 -0.7,3.8 -0.7,-2.4 -0.7,0.6 -0.7,-3.9 -0.7,-2.4 -0.6,0.4 -0.7,1.3 -0.7,-1.9 -0.7,2.9 -0.7,1.3 -0.7,1.2 -0.7,-5.8 -0.7,-1.3 -0.7,2.8 -0.7,-1.9 -0.7,2.7 -0.7,-1.5 -0.7,1.3 -0.7,-2.3 -0.7,4.7 -0.6,-6.7 -0.7,0.8 -0.7,-0.3 -0.7,2.2 -0.7,-2 -0.7,0.8 -0.7,-1.7 -0.7,0.6 -0.7,2 -0.7,-2.4 -0.7,2.9 -0.7,-5.4 -0.7,2.1 -0.7,-1.5 -0.7,4.4 -0.6,-0.9 -0.7,-6.4 -0.7,7.7 -0.7,-8.2 -0.7,2 -0.7,3.1 -0.7,-3.2 -0.7,-0.6 -0.7,2.5 -0.7,-2.3 -0.7,-2 -0.7,4.2 -0.7,0.7 -0.7,-1.5 -0.7,-0.4 -0.6,4.4 -0.7,-5.1 -0.7,-2.3 -0.7,1 -0.7,0.4 -0.7,1.2 -0.7,-0.4 -0.7,-1.7 -0.7,4.5 -0.7,-5 -0.7,-0.9 -0.7,-0.8 -0.7,-0.2 -0.7,2.9 -0.7,-3.6 -0.6,-0.3 -0.7,-1.4 -0.7,-0.1 -0.7,1.9 -0.7,-3.7 -0.7,2.6 -0.7,-2.1 -0.7,-1.9 -0.7,0 -0.7,1.1 -0.7,-1 -0.7,2 -0.7,-2.8 -0.7,4.5 -0.7,-1.1 -0.6,0.2 -0.7,-4 -0.7,1.6 -0.7,1 -0.7,2.3 -0.7,-0.6 -0.7,-1 -0.7,1.2 -0.7,1 -0.7,-1.2 -0.7,1.3 -0.7,0.1 -0.7,0 -0.7,1.3 -0.7,0.4 -0.7,2.5 -0.6,3.3 -0.7,-0.4 -0.7,4.2 -0.7,3 -0.7,-1.5 -0.7,9.2 -0.7,0.3 -0.7,0.3 -0.7,4.3 -0.7,-4.8 -0.7,2.4 -0.7,0.8 -0.7,5.3 -0.7,-0.5 -0.7,8.6 -0.6,-3.9 -0.7,0.6 -0.7,-3.3 -0.7,4.2 -0.7,2.8 -0.7,2.2 -0.7,2 -0.7,-1 -0.7,5.4 -0.7,2.2 -0.7,-0.9 -0.7,6.9 -0.7,1.3 -0.7,2.9 -0.7,1.5 -0.6,7.6 -0.7,1.9 -0.7,-0.1 -0.7,-3.3 -0.7,6.5 -0.7,1.7 -0.7,-0.3 -0.7,5.5 -0.7,3.6 -0.7,1.2 -0.7,-4.1 -0.7,5.1 -0.7,0.4 -0.7,0.5 -0.7,3 -0.6,0.8 -0.7,6.7 -0.7,-0.8 -0.7,-2.2 -0.7,2.5 -0.7,0.5 -0.7,0.1 -0.7,6.5 -0.7,-2 -0.7,0.3 -0.7,3 -0.7,2.5 -0.7,-1.3 -0.7,1.1 -0.7,-0.4 -0.6,2 -0.7,-1.4 -0.7,-1 -0.7,-0.1 -0.7,2.4 -0.7,1.4 -0.7,1.3 -0.7,1.6 -0.7,-2.7 -0.7,3.4 -0.7,2.9 -0.7,-2 -0.7,-3.5 -0.7,6 -0.7,-0.9 -0.6,-1.1 -0.7,1 -0.7,1.8 -0.7,-2.3 -0.7,2.1 -0.7,0.6 -0.7,1.8 -0.7,0.4 -0.7,-0.3 -0.7,3.5 -0.7,-2.1 -0.7,0.5 -0.7,2.7 -0.7,2 -0.7,-1.7 -0.6,2.6 -0.7,-1 -0.7,1.3 -0.7,0.5 -0.7,1.4 -0.7,0.9 -0.7,2.9 -0.7,-1.3 -0.7,1.5 -0.7,-0.4 -0.7,1.6 -0.7,2 -0.7,-0.3 -0.7,-1.2 -0.7,1.4 -0.7,1 -0.6,-0.1 -0.7,-1.3 -0.7,1 -0.7,0.4 -0.7,0.2 -0.7,-2.4 -0.7,1.9 -0.7,-1.1 -0.7,0.4 -0.7,1.3 -0.7,-1.4 -0.7,1.3 -0.7,-1.2 -0.7,1.9 -0.7,-0.2 -0.6,-1.4 -0.7,2 -0.7,0.1 -0.7,-1.9 -0.7,2.5 -0.7,-1.3 -0.7,0.4 -0.7,-2.1 -0.7,1.5 -0.7,-1.3 -0.7,0.9 -0.7,0.5 -0.7,0.6 -0.7,-0.8 -0.7,-0.5 -0.6,1.3 -0.7,-0.1 -0.7,0 -0.7,0.6 -0.7,-1 -0.7,2.1 -0.7,-0.8 -0.7,1.3 -0.7,-1.6 -0.7,-0.1 -0.7,-1.5 -0.7,1.8 -0.7,1.1 -0.7,0.2 -0.7,-1.1 -0.6,1.8 -0.7,-1.6 -0.7,-1.7 -0.7,0.1 -0.7,1.9 -0.7,-1.4 -0.7,1.8 -0.7,-1.8 -0.7,0.7 -0.7,1.7 -0.7,-1.1 -0.7,-0.1 -0.7,0.5 -0.7,-1.9 -0.7,1 -0.6,1 -0.7,0.1 -0.7,-0.1 -0.7,-0.5 -0.7,0.4 -0.7,-0.5 -0.7,-0.6 -0.7,2.3 -0.7,-0.1 -0.7,-1.7 -0.7,1.7 -0.7,0.5 -0.7,-2 -0.7,-0.1 -0.7,1.3 -0.6,-1.8 -0.7,0.8 -0.7,0.2 -0.7,1.5 -0.7,-2.3 -0.7,0.4 -0.7,-0.8 -0.7,1.2 -0.7,1 -0.7,-0.9 -0.7,1.6 -0.7,-2 -0.7,-0.6 -0.7,1.9 -0.7,-2.1 -0.7,3 -0.6,-2.1 -0.7,1 -0.7,-1.1 -0.7,2.2 -0.7,-0.9 -0.7,1 -0.7,-1 -0.7,-0.8 -0.7,1.6 -0.7,-1.3 -0.7,2.4 -0.7,-2.4 -0.7,0.5 -0.7,-0.2 -0.7,0.1 -0.6,0.7 -0.7,-0.5 -0.7,-1.5 -0.7,2.5 -0.7,1.6 -0.7,-2.6 -0.7,1 -0.7,-0.6 -0.7,0.2 -0.7,-3 -0.7,2.6 -0.7,1.4 -0.7,-3.8 -0.7,3.9 -0.7,-2 -0.6,0.5 -0.7,0.6 -0.7,-1.3 -0.7,1.8 -0.7,2.8 -0.7,-1.5 -0.7,-0.6 -0.7,-1.7Z" fill="#8cf78c" fill-opacity="0.6" stroke="none"/>
<path d="M115.3,908.6l0.7,1.8 0.7,0.6 0.7,1.4 0.7,-2.8 0.7,-1.8 0.7,1.3 0.7,-0.6 0.6,-0.6 0.7,2 0.7,-3.8 0.7,3.7 0.7,-1.3 0.7,-2.6 0.7,3 0.7,-0.3 0.7,0.6 0.7,-0.9 0.7,2.6 0.7,-1.6 0.7,-2.6 0.7,1.6 0.7,0.4 0.6,-0.7 0.7,-0.1 0.7,0.3 0.7,-0.5 0.7,2.3 0.7,-2.4 0.7,1.3 0.7,-1.6 0.7,0.8 0.7,1 0.7,-1 0.7,0.9 0.7,-2.2 0.7,1.1 0.7,-1 0.6,2.1 0.7,-3 0.7,2 0.7,-1.8 0.7,0.5 0.7,2 0.7,-1.5 0.7,0.9 0.7,-1.1 0.7,-1.1 0.7,0.7 0.7,-0.4 0.7,2.3 0.7,-1.5 0.7,-0.2 0.7,-0.8 0.6,1.8 0.7,-1.4 0.7,0.2 0.7,2 0.7,-0.6 0.7,-1.6 0.7,1.7 0.7,0 0.7,-2.3 0.7,0.6 0.7,0.5 0.7,-0.4 0.7,0.5 0.7,0.1 0.7,-0.1 0.6,-0.9 0.7,-1.1 0.7,1.9 0.7,-0.5 0.7,0.1 0.7,1.1 0.7,-1.7 0.7,-0.7 0.7,1.8 0.7,-1.8 0.7,1.4 0.7,-1.9 0.7,-0.1 0.7,1.6 0.7,1.7 0.6,-1.8 0.7,1 0.7,-0.1 0.7,-1.2 0.7,-1.8 0.7,1.5 0.7,0.1 0.7,1.7 0.7,-1.4 0.7,0.8 0.7,-2.1 0.7,1 0.7,-0.6 0.7,-0 0.7,0.1 0.6,-1.3 0.7,0.4 0.7,0.9 0.7,-0.6 0.7,-0.5 0.7,-0.9 0.7,1.2 0.7,-1.4 0.7,2.1 0.7,-0.4 0.7,1.2 0.7,-2.5 0.7,1.9 0.7,-0 0.7,-2.1 0.6,1.4 0.7,0.2 0.7,-1.9 0.7,1.2 0.7,-1.3 0.7,1.4 0.7,-1.3 0.7,-0.4 0.7,1 0.7,-1.9 0.7,2.3 0.7,-0.3 0.7,-0.3 0.7,-1.1 0.7,1.3 0.6,-0 0.7,-1 0.7,-1.5 0.7,1.2 0.7,0.2 0.7,-2 0.7,-1.7 0.7,0.4 0.7,-1.6 0.7,1.2 0.7,-2.9 0.7,-0.9 0.7,-1.4 0.7,-0.6 0.7,-1.4 0.7,1 0.6,-2.6 0.7,1.6 0.7,-2 0.7,-2.7 0.7,-0.6 0.7,2 0.7,-3.5 0.7,0.3 0.7,-0.5 0.7,-1.8 0.7,-0.7 0.7,-2.1 0.7,2.2 0.7,-1.8 0.7,-1.1 0.6,1.1 0.7,-4 0.7,-1.4 0.7,1.8 0.7,-1.9 0.7,-0 0.7,-1.4 0.7,0.3 0.7,-2.4 0.7,1.4 0.7,-3.5 0.7,0.3 0.7,-3 0.7,3.6 0.7,-2.4 0.6,0.5 0.7,-2 0.7,-1.4 0.7,0.7 0.7,-0.2 0.7,-0.5 0.7,-2.9 0.7,-2.1 0.7,-1 0.7,-0 0.7,-0.4 0.7,-2.1 0.7,-0.2 0.7,-1.5 0.7,-4.3 0.6,-0.1 0.7,-2.2 0.7,-0.9 0.7,-3.2 0.7,-1.7 0.7,0.8 0.7,-2.1 0.7,-1.4 0.7,-4.1 0.7,-2.2 0.7,-0.7 0.7,-5.3 0.7,-0.2 0.7,-1.3 0.7,-1.8 0.6,-4.7 0.7,-3.1 0.7,-1.7 0.7,-3.7 0.7,-3.5 0.7,-1.3 0.7,-3.5 0.7,-3.3 0.7,-1 0.7,-0.8 0.7,-3 0.7,-1.7 0.7,-3.3 0.7,1.2 0.7,-0.4 0.6,-3.5 0.7,-1.5 0.7,-0.8 0.7,-2.5 0.7,-1.3 0.7,-2.5 0.7,0.6 0.7,-1.8 0.7,-2.4 0.7,-1.3 0.7,-3.8 0.7,-1.3 0.7,-1.4 0.7,-3.7 0.7,-1 0.6,-2.5 0.7,-1.6 0.7,-0.6 0.7,-1.3 0.7,-1.2 0.7,0.4 0.7,-1.4 0.7,-1.8 0.7,0.2 0.7,0.9 0.7,-3.9 0.7,3.3 0.7,-2 0.7,-0.1 0.7,-0.6 0.7,2.4 0.6,-0.8 0.7,0.4 0.7,-1.2 0.7,0.9 0.7,0.2 0.7,0 0.7,-1.3 0.7,1.6 0.7,0 0.7,2.3 0.7,-1.4 0.7,2.4 0.7,-1.9 0.7,1.3 0.7,1.5 0.6,0.7 0.7,-0.7 0.7,0.2 0.7,1.1 0.7,0.2 0.7,0.4 0.7,0.6 0.7,0 0.7,-0.1 0.7,-0.9 0.7,0.9 0.7,1.5 0.7,-2.2 0.7,0.6 0.7,1.7 0.6,-1.2 0.7,1.8 0.7,0.4 0.7,0.1 0.7,-2.4 0.7,1.7 0.7,-0 0.7,0.4 0.7,0.6 0.7,-0.8 0.7,-0.1 0.7,-1.2 0.7,3.1 0.7,-2.4 0.7,1.1 0.6,2.7 0.7,-2.8 0.7,-0.5 0.7,0.7 0.7,1 0.7,0.3 0.7,2.4 0.7,-2.3 0.7,0.3 0.7,1.4 0.7,-1.1 0.7,1.2 0.7,-2.9 0.7,3.9 0.7,-0.2 0.6,1.6 0.7,-1.7 0.7,-0.3 0.7,0.3 0.7,1 0.7,-1.4 0.7,0.9 0.7,-0.8 0.7,1.6 0.7,1.9 0.7,-1.5 0.7,1.2 0.7,-1.8 0.7,1.8 0.7,-0.2 0.6,-0 0.7,1.8 0.7,-1 0.7,-1.2 0.7,1.8 0.7,-0.2 0.7,-0.2 0.7,1.2 0.7,-0.2 0.7,-0.6 0.7,1.1 0.7,-0.2 0.7,0.4 0.7,1.2 0.7,0.5 0.7,-3.2 0.6,0.9 0.7,1.8 0.7,-0.9 0.7,0.1 0.7,0.4 0.7,1.6 0.7,1.4 0.7,0 0.7,-0.8 0.7,-1.5 0.7,0 0.7,2.2 0.7,0.3 0.7,-1.4 0.7,-0.7 0.6,3.5 0.7,-1.3 0.7,0.6 0.7,0.7 0.7,0.3 0.7,0.2 0.7,-0.1 0.7,1.9 0.7,-1.5 0.7,-0.6 0.7,0.2 0.7,0.1 0.7,0.6 0.7,0.3 0.7,-1.7 0.6,2.4 0.7,-0.2 0.7,-1 0.7,1.4 0.7,1.5 0.7,-0.6 0.7,0 0.7,-0.1 0.7,0.4 0.7,-1.4 0.7,0.5 0.7,0.3 0.7,1.1 0.7,-1.4 0.7,0.2 0.6,-1.1 0.7,3.1 0.7,-0.4 0.7,-1.4 0.7,2.7 0.7,-1.3 0.7,0.2 0.7,0.3 0.7,1.2 0.7,-0.8 0.7,1.7 0.7,-2.6 0.7,1.9 0.7,-0.5 0.7,0.4 0.6,-0.1 0.7,0.3 0.7,-0.2 0.7,1 0.7,-0.2 0.7,1.4 0.7,0.1 0.7,-0.1 0.7,0.4 0.7,0.5 0.7,-0.6 0.7,-1.1 0.7,0.4 0.7,1 0.7,-0.6 0.6,0.1 0.7,-2.2 0.7,4.7 0.7,-1.8 0.7,1.8 0.7,-2.5 0.7,1.7 0.7,-0.5 0.7,0.4 0.7,-0.4 0.7,4 0.7,-1.7 0.7,-1.2 0.7,1.7 0.7,-1.9 0.7,-0.6 0.6,2.9 0.7,-0.8 0.7,-1 0.7,-1.1 0.7,1 0.7,0.4 0.7,1.9 0.7,-0.9 0.7,0.1 0.7,0.9 0.7,-0.9 0.7,0.9 0.7,0.2 0.7,-2.5 0.7,2.5 0.6,-2 0.7,2.5 0.7,-0.1 0.7,1.3 0.7,-0.5 0.7,-2.2 0.7,1.8 0.7,2.3 0.7,-3.5 0.7,2.6 0.7,-0.4 0.7,-0.3 0.7,2.1 0.7,-3.5 0.7,0.4 0.6,1.8 0.7,-0.6 0.7,0.8 0.7,0.4 0.7,-0.3 0.7,1.4 0.7,-1 0.7,0.3 0.7,-2.6 0.7,3.7 0.7,-2.8 0.7,0.7 0.7,0.7 0.7,0.9 0.7,-2.4 0.6,0.5 0.7,1.7 0.7,0.2 0.7,-0.3 0.7,-1.6 0.7,3 0.7,-0.9 0.7,-1.1 0.7,2.8 0.7,-1.2 0.7,-1.2 0.7,1.7 0.7,-0.2 0.7,1.6 0.7,-1.9 0.6,1.8 0.7,-0.8 0.7,-0.6 0.7,1 0.7,-1.4 0.7,0.3 0.7,0.3 0.7,-0.4 0.7,1.3 0.7,2.2 0.7,-3.1 0.7,0.2 0.7,1.5 0.7,0.5 0.7,-2.1 0.6,1.9 0.7,0 0.7,0.2 0.7,-2.9 0.7,3.4 0.7,2.1 0.7,-2.5 0.7,1.1 0.7,0.8 0.7,-1.8 0.7,0.8 0.7,-1.4 0.7,1.3 0.7,-1.5 0.7,0.3 0.6,1.1 0.7,-0.7 0.7,-1.1 0.7,1.3 0.7,2.3 0.7,-1.5 0.7,-0.1 0.7,-1 0.7,1.5 0.7,-1.3 0.7,1.4 0.7,-0 0.7,0.3 0.7,-0.2 0.7,0.3 0.7,-0.5 0.6,1.3 0.7,0.3 0.7,-0.9 0.7,-0.2 0.7,0.7 0.7,-0.8 0.7,0.1 0.7,-1.3 0.7,3.3 0.7,-3.6 0.7,4.6 0.7,-0.6 0.7,-2.1 0.7,1.2 0.7,-0.7 0.6,0.1 0.7,0.9 0.7,0 0.7,-1 0.7,-0.9 0.7,-0.2 0.7,0.4 0.7,0.5 0.7,-1.7 0.7,3.5 0.7,-2.3 0.7,-1.4 0.7,-0.4 0.7,0.4 0.7,-0.2 0.6,0.3 0.7,0.9 0.7,2.5 0.7,-1.9 0.7,-0.3 0.7,-2 0.7,2.1 0.7,-0.1" fill="none" stroke="#72f672" stroke-width="6.6" stroke-linejoin="round" stroke-linecap="round"/>
<path d="M115.3,905.3l0.7,-0.5 0.7,0.1 0.7,-0.1 0.7,0.7 0.7,0.6 0.7,0.8 0.7,0.9 0.6,-0.6 0.7,-1.8 0.7,1.2 0.7,-0.6 0.7,2.3 0.7,-1.1 0.7,1 0.7,-2.3 0.7,1.8 0.7,-0.3 0.7,0.7 0.7,0.1 0.7,-0.5 0.7,1.6 0.7,-0.3 0.6,0.2 0.7,0.4 0.7,1.2 0.7,-0.4 0.7,-0.7 0.7,-0.4 0.7,2.2 0.7,-2.4 0.7,1.3 0.7,0.5 0.7,1 0.7,-2.4 0.7,0.8 0.7,0.9 0.7,-0.7 0.6,-0.5 0.7,-1.4 0.7,1.8 0.7,-0.2 0.7,-0.1 0.7,-0.2 0.7,-0 0.7,-0.8 0.7,1.9 0.7,0.7 0.7,-1.4 0.7,-0.1 0.7,0.6 0.7,-0.4 0.7,-1 0.7,1.2 0.6,-0.9 0.7,-0.7 0.7,0.9 0.7,-0.1 0.7,0.8 0.7,-1.3 0.7,1.4 0.7,-0.3 0.7,-1.2 0.7,1.9 0.7,0.6 0.7,-0.7 0.7,-0.1 0.7,-0.8 0.7,2.1 0.6,0.1 0.7,-2.6 0.7,-0.1 0.7,0.4 0.7,-0.3 0.7,-0.5 0.7,1.6 0.7,-0.1 0.7,0.5 0.7,0.5 0.7,-1 0.7,-0.7 0.7,-0.1 0.7,0 0.7,0.4 0.6,-0.5 0.7,2.8 0.7,-2.2 0.7,-1.1 0.7,1.3 0.7,0.9 0.7,-1.8 0.7,1.1 0.7,-0.2 0.7,-1 0.7,-0 0.7,2.5 0.7,-2.5 0.7,0.8 0.7,1.1 0.6,-0.9 0.7,1.6 0.7,-1.9 0.7,0.1 0.7,0.4 0.7,1.1 0.7,-0.4 0.7,-1.3 0.7,-0.7 0.7,0.4 0.7,1.2 0.7,-1.2 0.7,-0.1 0.7,1 0.7,-1 0.6,1.4 0.7,-2.2 0.7,-0.3 0.7,0.7 0.7,0.9 0.7,-0.2 0.7,-1.2 0.7,-0.9 0.7,1.6 0.7,0.6 0.7,-0.6 0.7,-0.1 0.7,-2.8 0.7,3 0.7,-0.7 0.6,-0.4 0.7,1.8 0.7,-0.6 0.7,-3.2 0.7,1.8 0.7,0.3 0.7,-0 0.7,-2 0.7,2.3 0.7,-2.1 0.7,0.7 0.7,0.1 0.7,-1 0.7,1.5 0.7,-2 0.7,2.3 0.6,-0.3 0.7,-0.4 0.7,-0.6 0.7,1.3 0.7,-1.4 0.7,-1.1 0.7,0.6 0.7,0.4 0.7,-1.8 0.7,1.4 0.7,0.9 0.7,-0.9 0.7,-0.1 0.7,-0.7 0.7,0.7 0.6,-0.5 0.7,1.9 0.7,-1 0.7,-0.2 0.7,-0.9 0.7,-1 0.7,1.6 0.7,-0.9 0.7,-0.6 0.7,0.7 0.7,-0.2 0.7,-1.1 0.7,-0.8 0.7,0.7 0.7,1.1 0.6,-0.7 0.7,0.4 0.7,1.4 0.7,0.2 0.7,-4.2 0.7,3.5 0.7,1.1 0.7,-2.3 0.7,-1 0.7,1.1 0.7,-1.1 0.7,0.9 0.7,-0.1 0.7,-1.9 0.7,-0.1 0.6,0.8 0.7,-0.9 0.7,1 0.7,-0.2 0.7,-0.1 0.7,0.3 0.7,0.4 0.7,-1.5 0.7,1.2 0.7,0.7 0.7,-0.6 0.7,-0.5 0.7,-3 0.7,2 0.7,-1 0.6,0.1 0.7,-1.3 0.7,0.8 0.7,0.7 0.7,-0.9 0.7,0.3 0.7,-0.4 0.7,-1.1 0.7,0.6 0.7,-1.5 0.7,-0.5 0.7,-0.3 0.7,1.3 0.7,-1.1 0.7,0.3 0.6,-0.2 0.7,-1.1 0.7,-0.8 0.7,0.9 0.7,0 0.7,0.3 0.7,-0.7 0.7,-1.9 0.7,1.4 0.7,-1 0.7,-2 0.7,3.2 0.7,-2.6 0.7,-0.4 0.7,0.4 0.6,0.5 0.7,-0.2 0.7,0 0.7,-0.4 0.7,1.8 0.7,-2.2 0.7,-0.4 0.7,-0.4 0.7,1.3 0.7,-1 0.7,0.4 0.7,-1.7 0.7,-1.1 0.7,0.9 0.7,2.7 0.7,-3.4 0.6,-0.2 0.7,-0.3 0.7,-1.7 0.7,1.5 0.7,-2.7 0.7,1.3 0.7,0 0.7,0.1 0.7,-0.9 0.7,1.6 0.7,-3.2 0.7,0.7 0.7,-1.6 0.7,0.2 0.7,1.3 0.6,-1.2 0.7,-0.6 0.7,-1.8 0.7,2.2 0.7,1 0.7,-3.4 0.7,1.7 0.7,-0.7 0.7,-0.4 0.7,-3.5 0.7,1.6 0.7,1.2 0.7,-1.7 0.7,-0.1 0.7,-2.1 0.6,-0.4 0.7,-0.7 0.7,0.8 0.7,-1.9 0.7,1 0.7,0.1 0.7,-2.9 0.7,2.1 0.7,-1.5 0.7,0.9 0.7,-1.1 0.7,1.3 0.7,-0.8 0.7,-1.7 0.7,-0.1 0.6,-0.9 0.7,-1 0.7,-0.9 0.7,0.3 0.7,1.2 0.7,-1.1 0.7,-0.5 0.7,-3.9 0.7,2.3 0.7,-1.5 0.7,0.7 0.7,-0.9 0.7,-3.5 0.7,1.3 0.7,-2 0.6,0.2 0.7,1.1 0.7,-0.4 0.7,-2 0.7,-0.1 0.7,0.6 0.7,-4.9 0.7,0.7 0.7,-2.2 0.7,1 0.7,-1.3 0.7,-0 0.7,-1.4 0.7,-0.2 0.7,-2.1 0.6,1.3 0.7,-3.3 0.7,1.4 0.7,-1.7 0.7,-1.5 0.7,1.2 0.7,-3.2 0.7,-0.4 0.7,0.3 0.7,0.2 0.7,-1.6 0.7,1.1 0.7,-2.9 0.7,-1.3 0.7,1.1 0.7,-3.4 0.6,-3.1 0.7,4.7 0.7,-2.3 0.7,-2.7 0.7,2.6 0.7,-2.2 0.7,-1.1 0.7,2.8 0.7,-3.5 0.7,-0.3 0.7,-2.7 0.7,1.2 0.7,-4.1 0.7,0.2 0.7,-0.1 0.6,-1.7 0.7,-4.6 0.7,3.6 0.7,7.1 0.7,-8.3 0.7,0.5 0.7,1.8 0.7,-2.4 0.7,-2.7 0.7,-1.2 0.7,-3.6 0.7,-3.8 0.7,2.8 0.7,-0.4 0.7,3.4 0.6,-2.2 0.7,-1.5 0.7,-2.1 0.7,1.9 0.7,-4.9 0.7,-1.3 0.7,-0.2 0.7,-2.6 0.7,2.3 0.7,-1.5 0.7,-1 0.7,-2.8 0.7,-1.4 0.7,1.8 0.7,1.1 0.6,-1.9 0.7,-4.9 0.7,-0.4 0.7,-1.8 0.7,3.5 0.7,-4.7 0.7,-2.4 0.7,3.3 0.7,-2.1 0.7,-3.2 0.7,-2.5 0.7,2.3 0.7,-2.5 0.7,-2.4 0.7,-1.7 0.6,-1.4 0.7,-1.6 0.7,1.3 0.7,-2.2 0.7,1.6 0.7,1.2 0.7,-4.6 0.7,1.9 0.7,-0.7 0.7,-4.1 0.7,-1.4 0.7,0 0.7,-3.9 0.7,0.8 0.7,-0.3 0.6,5.4 0.7,-6.7 0.7,0.3 0.7,-0.6 0.7,-0 0.7,1.2 0.7,-2.3 0.7,2.4 0.7,0.2 0.7,-4.4 0.7,0.9 0.7,0.7 0.7,-3.3 0.7,-3 0.7,0.5 0.7,-0.2 0.6,6.1 0.7,-7.6 0.7,-1.8 0.7,4.2 0.7,-1.5 0.7,2.8 0.7,-3.7 0.7,0.6 0.7,0 0.7,-2 0.7,-0.6 0.7,0.4 0.7,-2.6 0.7,6.2 0.7,-7.3 0.6,0.3 0.7,1.9 0.7,-0.4 0.7,-2.4 0.7,0.3 0.7,-2.4 0.7,0.4 0.7,2.3 0.7,-4.3 0.7,-0.5 0.7,0.4 0.7,-3.7 0.7,0.9 0.7,2.7 0.7,-1.5 0.6,0.4 0.7,-1.3 0.7,-2.2 0.7,1.9 0.7,-1 0.7,1.7 0.7,-2 0.7,-0.5 0.7,0.3 0.7,-0.2 0.7,-1 0.7,0.1 0.7,-2.4 0.7,2.1 0.7,-7.2 0.6,4.3 0.7,-3.2 0.7,2.6 0.7,-1.3 0.7,-2.6 0.7,0.8 0.7,-3.4 0.7,5 0.7,-2.5 0.7,-0.4 0.7,-0.1 0.7,-0.5 0.7,-3.9 0.7,3.6 0.7,-1.4 0.6,3.9 0.7,-5.2 0.7,3.4 0.7,-7.1 0.7,1.9 0.7,-1.8 0.7,1.7 0.7,-1.8 0.7,-2.7 0.7,5.1 0.7,-1 0.7,0.4 0.7,-2.5 0.7,-1.2 0.7,1.3 0.6,1.9 0.7,-0.4 0.7,0.2 0.7,2.5 0.7,-4.3 0.7,-1.6 0.7,-0.5 0.7,5.4 0.7,-3.9 0.7,6.9 0.7,-1.1 0.7,-1.9 0.7,0.5 0.7,-1.8 0.7,-1.9 0.6,2.4 0.7,-1 0.7,2.6 0.7,-2.7 0.7,0.6 0.7,1.2 0.7,-0.5 0.7,-2.4 0.7,3.7 0.7,-6.8 0.7,2.6 0.7,-2.3 0.7,3.7 0.7,-6.6 0.7,3.4 0.7,-0.2 0.6,-1 0.7,-1 0.7,0.3 0.7,-3.3 0.7,-0.3 0.7,-1.1 0.7,-4.3 0.7,3 0.7,-0.2 0.7,-0.8 0.7,-3.8 0.7,1.5 0.7,-0.8 0.7,0.1 0.7,1.1 0.6,-3.2 0.7,-3.2 0.7,3.8 0.7,-3.7 0.7,5.9 0.7,-6.3 0.7,-3.5 0.7,0.4 0.7,-1.4 0.7,-0.8 0.7,0.5 0.7,-1.7 0.7,-0.9 0.7,1.3 0.7,-0.3 0.6,-1.8 0.7,-0.5 0.7,1.6 0.7,-1.4 0.7,1.9 0.7,-2.7 0.7,5.8 0.7,-2.2" fill="none" stroke="#8e8e8e" stroke-width="6.6" stroke-linejoin="round" stroke-linecap="round"/>
<path d="M115.3,906.1l0.7,-0.9 0.7,0 0.7,1.1 0.7,-0.2 0.7,0.1 0.7,-0.8 0.7,0.4 0.6,-0.6 0.7,1.6 0.7,-2.3 0.7,1 0.7,-0.6 0.7,0.5 0.7,0.1 0.7,-0.6 0.7,-0.4 0.7,0.7 0.7,-0.1 0.7,-0.7 0.7,1 0.7,0.4 0.7,-1.4 0.6,0.7 0.7,0.7 0.7,-0.8 0.7,-0.3 0.7,0.4 0.7,0.2 0.7,-1.1 0.7,-0.7 0.7,0.7 0.7,0.3 0.7,-0.9 0.7,-0.2 0.7,0.6 0.7,-0.7 0.7,-0.4 0.6,0.8 0.7,0.3 0.7,-0.8 0.7,-0 0.7,-0.7 0.7,1.6 0.7,-0.5 0.7,0 0.7,0.5 0.7,-1.3 0.7,-0.3 0.7,0.8 0.7,-1.5 0.7,0.3 0.7,0.1 0.7,0 0.6,-0.4 0.7,1.4 0.7,-1.3 0.7,-0.1 0.7,1.5 0.7,-1.5 0.7,0.4 0.7,-0.8 0.7,0.8 0.7,-0.4 0.7,-0.3 0.7,0.7 0.7,-1 0.7,0.4 0.7,-0.5 0.6,0.6 0.7,-1.1 0.7,0.2 0.7,0.5 0.7,-0.7 0.7,-0.5 0.7,-0.5 0.7,2.1 0.7,-1.7 0.7,0.1 0.7,0.2 0.7,0.4 0.7,-1.7 0.7,1.5 0.7,-1.4 0.6,-0.7 0.7,1.7 0.7,-1.1 0.7,0.5 0.7,-1.2 0.7,-1.1 0.7,-0.5 0.7,2.3 0.7,-1 0.7,-1.1 0.7,-0.8 0.7,0.6 0.7,0.6 0.7,-0.9 0.7,-0 0.6,-0.1 0.7,0.2 0.7,-1 0.7,-0.2 0.7,0.1 0.7,-0.1 0.7,0.5 0.7,-0.7 0.7,-1.4 0.7,0.7 0.7,0.7 0.7,-2.1 0.7,0.4 0.7,-1.3 0.7,1.2 0.6,0.1 0.7,0.5 0.7,-2.1 0.7,-1 0.7,2 0.7,-0.3 0.7,-1 0.7,0.7 0.7,-0.6 0.7,-0.1 0.7,-0.6 0.7,-0.8 0.7,0.5 0.7,-0.8 0.7,0.7 0.6,-0.7 0.7,1.4 0.7,-0.6 0.7,-1.8 0.7,0.7 0.7,-1 0.7,-0.2 0.7,-0.8 0.7,0 0.7,-0.4 0.7,0.4 0.7,0 0.7,-0.3 0.7,-0.6 0.7,0 0.7,-0.8 0.6,-0.7 0.7,-0.6 0.7,-0.1 0.7,0.7 0.7,-1.7 0.7,-0.6 0.7,-1 0.7,-0.1 0.7,0.4 0.7,-0.4 0.7,-2.2 0.7,0.4 0.7,-1.1 0.7,-0.7 0.7,1.6 0.6,-1.2 0.7,-0.5 0.7,-0.5 0.7,-0.4 0.7,-0.2 0.7,-0.4 0.7,0.6 0.7,-1.3 0.7,-0.1 0.7,-1 0.7,-0.1 0.7,-1.2 0.7,-0.6 0.7,-0.1 0.7,-0.5 0.6,-0.3 0.7,-0.1 0.7,-0.7 0.7,-0.3 0.7,-1 0.7,-0.3 0.7,-0.8 0.7,0.7 0.7,-1.9 0.7,0.6 0.7,-0.5 0.7,-0.8 0.7,-0.3 0.7,-1 0.7,0.1 0.6,-0.2 0.7,-0.6 0.7,-1.9 0.7,0.3 0.7,0.3 0.7,-1.3 0.7,0.6 0.7,-2.8 0.7,1.7 0.7,-1.8 0.7,-0.6 0.7,0.8 0.7,-1.7 0.7,-1.1 0.7,-0.2 0.6,-0.4 0.7,-1 0.7,-0 0.7,-0.7 0.7,-0.3 0.7,-1 0.7,0.5 0.7,-1.8 0.7,0.3 0.7,-0.1 0.7,-1.6 0.7,-1.4 0.7,-0.1 0.7,0.4 0.7,-1.3 0.6,0.2 0.7,-0.8 0.7,-0.7 0.7,1 0.7,-2.2 0.7,0.2 0.7,-0.8 0.7,-0.1 0.7,-0.7 0.7,-1 0.7,-1.9 0.7,-1.2 0.7,0.4 0.7,-1.5 0.7,0.2 0.6,0.3 0.7,-2.1 0.7,-0.9 0.7,-0.2 0.7,-1.3 0.7,-0.9 0.7,0.2 0.7,-0.3 0.7,-1.6 0.7,-0.8 0.7,-0.6 0.7,-1.7 0.7,-1.2 0.7,0.6 0.7,-1.5 0.7,-0.9 0.6,-0.6 0.7,-1 0.7,0.2 0.7,-1.5 0.7,-1.6 0.7,0.1 0.7,0.1 0.7,-1.6 0.7,-1.2 0.7,-0.2 0.7,-0.2 0.7,-2.2 0.7,1.1 0.7,-2 0.7,-0.5 0.6,-0.1 0.7,-2.4 0.7,-0.3 0.7,0.2 0.7,-2 0.7,-0.1 0.7,0.1 0.7,-1.6 0.7,-1.5 0.7,-1.1 0.7,-0.5 0.7,-0.8 0.7,-1.1 0.7,-0.4 0.7,-1.7 0.6,-0.2 0.7,-0.9 0.7,-1 0.7,0.2 0.7,-1 0.7,-2.3 0.7,-0 0.7,-0.4 0.7,-1.2 0.7,-0.2 0.7,-1.3 0.7,-0.1 0.7,-1.3 0.7,0.5 0.7,-2.7 0.6,0.6 0.7,-0 0.7,-1.6 0.7,-0.6 0.7,-1.1 0.7,0.2 0.7,-1.7 0.7,-2.9 0.7,2.6 0.7,-1.8 0.7,-0.2 0.7,-1.1 0.7,0.7 0.7,-1.1 0.7,-1.8 0.6,-0.4 0.7,-1.8 0.7,0.9 0.7,-1.3 0.7,-2.5 0.7,1.8 0.7,-0.5 0.7,-1.3 0.7,-0.5 0.7,-1.2 0.7,-0.1 0.7,0.1 0.7,-1.1 0.7,-2.1 0.7,0.5 0.6,2.2 0.7,-2.2 0.7,0.1 0.7,-1.4 0.7,0.1 0.7,-1.8 0.7,0.3 0.7,-0.4 0.7,0.1 0.7,-0.2 0.7,-0.6 0.7,-0.9 0.7,0.2 0.7,0.4 0.7,-1.3 0.7,0.5 0.6,0 0.7,0.4 0.7,-0.2 0.7,0.1 0.7,1.5 0.7,-2.4 0.7,0.5 0.7,0.8 0.7,-0.5 0.7,0.9 0.7,0.7 0.7,2.6 0.7,-0.6 0.7,0.6 0.7,0.4 0.6,1.1 0.7,1.7 0.7,3.1 0.7,2.1 0.7,-0.3 0.7,1.8 0.7,0.9 0.7,2.2 0.7,1.2 0.7,2.6 0.7,0.1 0.7,2 0.7,0.8 0.7,1.2 0.7,1.7 0.6,0.9 0.7,1.4 0.7,0.7 0.7,1.3 0.7,1.9 0.7,1.2 0.7,-0.4 0.7,2.3 0.7,0.4 0.7,1.6 0.7,1.7 0.7,1.2 0.7,0.5 0.7,0.9 0.7,0.7 0.6,2.2 0.7,0.3 0.7,0.4 0.7,-0.4 0.7,3.3 0.7,-1.3 0.7,1.2 0.7,-0.1 0.7,1.2 0.7,-0.1 0.7,-0.2 0.7,1.3 0.7,0.5 0.7,0.5 0.7,1.3 0.6,-0.3 0.7,1 0.7,0.9 0.7,0 0.7,0.7 0.7,-0.2 0.7,1 0.7,0.8 0.7,-0.8 0.7,0.7 0.7,0.2 0.7,0.8 0.7,0.8 0.7,0.6 0.7,0.2 0.6,-0.6 0.7,0.8 0.7,1.4 0.7,-0.7 0.7,1.2 0.7,-0.8 0.7,1.1 0.7,0.3 0.7,-0.6 0.7,0.3 0.7,1.4 0.7,-1.4 0.7,-0.7 0.7,2.7 0.7,-1.9 0.7,1.9 0.6,0.1 0.7,0.1 0.7,1.1 0.7,-1.6 0.7,0.8 0.7,1.1 0.7,-0.1 0.7,1.1 0.7,-0.5 0.7,-0.6 0.7,2 0.7,-0.6 0.7,-0.1 0.7,-0.3 0.7,0 0.6,1.5 0.7,0.4 0.7,-0.5 0.7,0.8 0.7,0.2 0.7,-0.7 0.7,-0.2 0.7,1.2 0.7,0.6 0.7,-0.3 0.7,1.8 0.7,-1 0.7,0.8 0.7,-2.1 0.7,1.3 0.6,0.6 0.7,0.3 0.7,1.7 0.7,-1.9 0.7,-0.5 0.7,1.7 0.7,-0.8 0.7,0.2 0.7,1.7 0.7,-1.5 0.7,-0.2 0.7,0.9 0.7,0.4 0.7,-0.4 0.7,1.7 0.6,-0.9 0.7,-0.5 0.7,1.7 0.7,-1.4 0.7,1.1 0.7,1.3 0.7,-1.2 0.7,0.8 0.7,-0.7 0.7,1.1 0.7,-1.3 0.7,1.4 0.7,-0.6 0.7,0.8 0.7,-0 0.6,-0.9 0.7,0.8 0.7,0.6 0.7,0.7 0.7,-1.5 0.7,0.5 0.7,0.8 0.7,-0.2 0.7,1 0.7,0.1 0.7,0 0.7,-0.6 0.7,0.1 0.7,0.8 0.7,-0.8 0.6,0 0.7,0.6 0.7,-0.5 0.7,1 0.7,-0 0.7,-0.3 0.7,0.4 0.7,-0.4 0.7,1.4 0.7,-1.7 0.7,1.6 0.7,-0.3 0.7,0.9 0.7,-1.2 0.7,-0.3 0.6,0.2 0.7,0.3 0.7,1.7 0.7,-0.5 0.7,-0.1 0.7,0.4 0.7,-1.2 0.7,0.7 0.7,0.2 0.7,-0.2 0.7,1.1 0.7,0 0.7,0.1 0.7,-0.8 0.7,0.2 0.7,-0 0.6,-0.3 0.7,1.7 0.7,-0.4 0.7,-0.4 0.7,1.2 0.7,-0.5 0.7,-0.9 0.7,0 0.7,0.1 0.7,0.8 0.7,0.3 0.7,-0.8 0.7,1.1 0.7,-0.4 0.7,-0.5 0.6,1.2 0.7,0.3 0.7,-0.3 0.7,-0.3 0.7,0.2 0.7,0.3 0.7,-0.2 0.7,1.6 0.7,-0.4 0.7,-0.6 0.7,0.8 0.7,0.4 0.7,0 0.7,-0.1 0.7,-0.4 0.6,0.7 0.7,-0.8 0.7,-0.8 0.7,1.3 0.7,-0.9 0.7,0.8 0.7,1 0.7,-0.6" fill="none" stroke="#d580f8" stroke-width="6.6" stroke-linejoin="round" stroke-linecap="round"/>
<path d="M115.3,516.4H514.7V916.9H115.3Z" fill="none" stroke="#000" stroke-width="3.6" stroke-linejoin="miter"/>
<line x1="103.3" y1="916.9" x2="115.3" y2="916.9" stroke="#000" stroke-width="3.6" />
<text x="101.8" y="927.4" font-size="29.5" text-anchor="end" >0.0</text>
<line x1="103.3" y1="783.4" x2="115.3" y2="783.4" stroke="#000" stroke-width="3.6" />
<text x="101.8" y="793.9" font-size="29.5" text-anchor="end" >0.5</text>
<line x1="103.3" y1="649.9" x2="115.3" y2="649.9" stroke="#000" stroke-width="3.6" />
<text x="101.8" y="660.4" font-size="29.5" text-anchor="end" >1.0</text>
<line x1="103.3" y1="516.4" x2="115.3" y2="516.4" stroke="#000" stroke-width="3.6" />
<text x="101.8" y="526.9" font-size="29.5" text-anchor="end" >1.5</text>
<line x1="115.3" y1="916.9" x2="115.3" y2="928.4" stroke="#000" stroke-width="3.6" />
<text x="115.3" y="955.9" font-size="29.5" text-anchor="middle" >0</text>
<line x1="181.9" y1="916.9" x2="181.9" y2="928.4" stroke="#000" stroke-width="3.6" />
<text x="181.9" y="955.9" font-size="29.5" text-anchor="middle" >24</text>
<line x1="248.4" y1="916.9" x2="248.4" y2="928.4" stroke="#000" stroke-width="3.6" />
<text x="248.4" y="955.9" font-size="29.5" text-anchor="middle" >48</text>
<line x1="315.0" y1="916.9" x2="315.0" y2="928.4" stroke="#000" stroke-width="3.6" />
<text x="315.0" y="955.9" font-size="29.5" text-anchor="middle" >72</text>
<line x1="381.6" y1="916.9" x2="381.6" y2="928.4" stroke="#000" stroke-width="3.6" />
<text x="381.6" y="955.9" font-size="29.5" text-anchor="middle" >96</text>
<line x1="448.1" y1="916.9" x2="448.1" y2="928.4" stroke="#000" stroke-width="3.6" />
<text x="448.1" y="955.9" font-size="29.5" text-anchor="middle" >120</text>
<line x1="514.7" y1="916.9" x2="514.7" y2="928.4" stroke="#000" stroke-width="3.6" />
<text x="514.7" y="955.9" font-size="29.5" text-anchor="middle" >144</text>
<text x="315.0" y="982.9" font-size="29.5" text-anchor="middle" >Time (hour)</text>
<text transform="translate(54.4,712.6) rotate(-90)" text-anchor="middle" font-size="30">OD<tspan font-size="22" dy="9.7">600</tspan></text>
<line x1="153.2" y1="557.1" x2="181.6" y2="557.1" stroke="#d580f8" stroke-width="6.3" stroke-linecap="round"/>
<text x="196.5" y="566.2" font-size="25.5" >QP478</text>
<line x1="153.2" y1="592.7" x2="181.6" y2="592.7" stroke="#8e8e8e" stroke-width="6.3" stroke-linecap="round"/>
<text x="197.3" y="602.8" font-size="25.5" >LC100</text>
<line x1="155.1" y1="628.7" x2="183.5" y2="628.7" stroke="#a87843" stroke-width="6.3" stroke-linecap="round"/>
<text x="199.3" y="637.9" font-size="25.5" >LC199</text>
<line x1="155.1" y1="665.3" x2="183.5" y2="665.3" stroke="#72f672" stroke-width="6.3" stroke-linecap="round"/>
<text x="199.3" y="674.4" font-size="25.5" >LC224</text>
<rect x="1420.5" y="21.5" width="503.5" height="397.5" rx="64" ry="64" fill="none" stroke="#6cc8ee" stroke-width="2.6"/>
<path d="M1494.5,31.7H1608.8V62.4H1494.5L1479.8,47Z" fill="#a7a9ac"/>
<path d="M1743.5,31.7H1858.5L1872.4,47L1858.5,62.4H1743.5Z" fill="#a7a9ac"/>
<text x="1548.5" y="56.4" font-size="20.9" text-anchor="middle" font-weight="bold" fill="#fff" >PP_4300</text>
<text x="1804.0" y="56.4" font-size="20.9" text-anchor="middle" font-weight="bold" fill="#fff" >PP_4302</text>
<text x="1675" y="56.4" font-size="21.5" text-anchor="middle" fill="#ed1c24">Δ<tspan font-style="italic">pykF</tspan> locus</text>
<line x1="1479.8" y1="65.0" x2="1883.5" y2="65.0" stroke="#000" stroke-width="3.8" />
<line x1="1610.3" y1="66.5" x2="1486.1" y2="125.2" stroke="#bcbec0" stroke-width="2.2" />
<line x1="1730.8" y1="66.5" x2="1856.9" y2="125.2" stroke="#bcbec0" stroke-width="2.2" />
<path d="M1598.0,111.0H1752.8L1769.0,127.7L1752.8,144.4H1598.0Z" fill="#f07b7a"/>
<text x="1675.5" y="134.7" font-size="21" text-anchor="middle" fill="#fff">PP_5056 <tspan font-style="italic">gpmI</tspan></text>
<path d="M1598.5,154.7H1753.3L1769.5,171.4L1753.3,188.1H1598.5Z" fill="#93c954"/>
<text x="1676.0" y="178.4" font-size="21" text-anchor="middle" fill="#fff">PP_5078 <tspan font-style="italic">aroB</tspan></text>
<path d="M1600.0,198.9H1754.8L1771.0,215.6L1754.8,232.3H1600.0Z" fill="#5d5f5f"/>
<text x="1677.5" y="222.6" font-size="21" text-anchor="middle" fill="#fff">PP_5079 <tspan font-style="italic">aroK</tspan></text>
<path d="M1600.8,245.0H1755.6L1771.8,261.7L1755.6,278.4H1600.8Z" fill="#fbbf16"/>
<text x="1678.3" y="268.7" font-size="21" text-anchor="middle" fill="#fff">PP_5085 <tspan font-style="italic">maeB</tspan></text>
<path d="M1600.8,290.9H1755.6L1771.8,307.6L1755.6,324.3H1600.8Z" fill="#4f7f37"/>
<text x="1678.3" y="314.6" font-size="21" text-anchor="middle" fill="#fff">PP_5150 <tspan font-style="italic">rpiA</tspan></text>
<text x="1435.6" y="172.5" font-size="20" >Terminator</text>
<text x="1824.2" y="176.3" font-size="20" >Terminator</text>
<line x1="1462.0" y1="217.8" x2="1569.5" y2="217.8" stroke="#000" stroke-width="5.5" />
<line x1="1804.3" y1="218.0" x2="1911.7" y2="218.0" stroke="#000" stroke-width="5.2" />
<path d="M1467.1,180.1H1502V187.8H1488.1V215H1480.5V187.8H1467.1Z" fill="#ed1c24"/>
<path d="M1859,181.8H1893.9V189.4H1880V215.6H1872.4V189.4H1859Z" fill="#ed1c24"/>
<path d="M1521.9,215V196 Q1521.9,180.7 1537,180.7H1553" fill="none" stroke="#7fd3f5" stroke-width="7.6"/>
<path d="M1551.9,168.2L1563.3,180.7L1551.9,193.2Z" fill="#7fd3f5"/>
<text x="1472.6" y="252.1" font-size="32" font-weight="bold">P<tspan font-size="21" font-style="italic" dy="7.1">tac/lac</tspan></text>
<path d="M1591.2,143.4 H1585.5 Q1582,143.4 1582,147 V291.2 Q1582,294.8 1585.5,294.8 H1591.2 M1582,217.8 H1573" fill="none" stroke="#000" stroke-width="3.4"/>
<path d="M1783.4,141.6 H1789 Q1792.4,141.6 1792.4,145 V292.2 Q1792.4,295.6 1789,295.6 H1783.4 M1792.4,218.6 H1801.8" fill="none" stroke="#000" stroke-width="3.4"/>
<text x="1477.5" y="352.6" font-size="24.3" >Genomic overexpression of candidate</text>
<text x="1477.5" y="381.6" font-size="24.3" >genes from the duplicated region</text>
<rect x="848.1" y="820.0" width="60.4" height="99.6" fill="#d580f8" stroke="#000" stroke-width="1.8"/>
<rect x="940.7" y="830.3" width="60.4" height="89.3" fill="#8f8f8f" stroke="#000" stroke-width="1.8"/>
<rect x="1033.4" y="806.1" width="60.4" height="113.5" fill="#a97843" stroke="#000" stroke-width="1.8"/>
<rect x="1126.1" y="636.3" width="60.4" height="283.3" fill="#76f77a" stroke="#000" stroke-width="1.8"/>
<path d="M878.3,824.4V813.7M862.3,824.4H894.3M862.3,813.7H894.3" fill="none" stroke="#000" stroke-width="1.5"/>
<circle cx="856.1" cy="825.8" r="7.6" fill="none" stroke="#000" stroke-width="1.6"/>
<circle cx="878.6" cy="815.8" r="7.6" fill="none" stroke="#000" stroke-width="1.6"/>
<circle cx="900.4" cy="815.8" r="7.6" fill="none" stroke="#000" stroke-width="1.6"/>
<path d="M970.9,830.8V829.2M954.9,830.8H986.9M954.9,829.2H986.9" fill="none" stroke="#000" stroke-width="1.5"/>
<circle cx="948.9" cy="831.0" r="7.6" fill="none" stroke="#000" stroke-width="1.6"/>
<circle cx="971.0" cy="829.6" r="7.6" fill="none" stroke="#000" stroke-width="1.6"/>
<circle cx="993.9" cy="830.3" r="7.6" fill="none" stroke="#000" stroke-width="1.6"/>
<path d="M1063.6,806.2V804.6M1047.6,806.2H1079.6M1047.6,804.6H1079.6" fill="none" stroke="#000" stroke-width="1.5"/>
<circle cx="1041.3" cy="806.1" r="7.6" fill="none" stroke="#000" stroke-width="1.6"/>
<circle cx="1063.8" cy="804.4" r="7.6" fill="none" stroke="#000" stroke-width="1.6"/>
<circle cx="1086.3" cy="806.1" r="7.6" fill="none" stroke="#000" stroke-width="1.6"/>
<path d="M1156.3,666.6V604.4M1140.3,666.6H1172.3M1140.3,604.4H1172.3" fill="none" stroke="#000" stroke-width="1.5"/>
<circle cx="1156.5" cy="608.0" r="7.6" fill="none" stroke="#000" stroke-width="1.6"/>
<circle cx="1156.5" cy="628.8" r="7.6" fill="none" stroke="#000" stroke-width="1.6"/>
<circle cx="1156.5" cy="669.3" r="7.6" fill="none" stroke="#000" stroke-width="1.6"/>
<path d="M815.3,518.1H1218.5V919.6H815.3Z" fill="none" stroke="#000" stroke-width="3.6" stroke-linejoin="miter"/>
<line x1="803.3" y1="919.6" x2="815.3" y2="919.6" stroke="#000" stroke-width="3.6" />
<text x="804.5" y="929.1" font-size="26.5" text-anchor="end" >0.00</text>
<line x1="803.3" y1="839.3" x2="815.3" y2="839.3" stroke="#000" stroke-width="3.6" />
<text x="804.5" y="848.8" font-size="26.5" text-anchor="end" >0.01</text>
<line x1="803.3" y1="759.0" x2="815.3" y2="759.0" stroke="#000" stroke-width="3.6" />
<text x="804.5" y="768.5" font-size="26.5" text-anchor="end" >0.02</text>
<line x1="803.3" y1="678.7" x2="815.3" y2="678.7" stroke="#000" stroke-width="3.6" />
<text x="804.5" y="688.2" font-size="26.5" text-anchor="end" >0.03</text>
<line x1="803.3" y1="598.4" x2="815.3" y2="598.4" stroke="#000" stroke-width="3.6" />
<text x="804.5" y="607.9" font-size="26.5" text-anchor="end" >0.04</text>
<line x1="803.3" y1="518.1" x2="815.3" y2="518.1" stroke="#000" stroke-width="3.6" />
<text x="804.5" y="527.6" font-size="26.5" text-anchor="end" >0.05</text>
<line x1="878.3" y1="919.6" x2="878.3" y2="931.1" stroke="#000" stroke-width="3.6" />
<text x="866.5" y="956.2" font-size="29" text-anchor="middle" >QP478</text>
<line x1="970.9" y1="919.6" x2="970.9" y2="931.1" stroke="#000" stroke-width="3.6" />
<text x="965.4" y="956.2" font-size="29" text-anchor="middle" >LC100</text>
<line x1="1063.6" y1="919.6" x2="1063.6" y2="931.1" stroke="#000" stroke-width="3.6" />
<text x="1062.2" y="956.2" font-size="29" text-anchor="middle" >LC199</text>
<line x1="1156.3" y1="919.6" x2="1156.3" y2="931.1" stroke="#000" stroke-width="3.6" />
<text x="1166.7" y="956.2" font-size="29" text-anchor="middle" >LC224</text>
<text transform="translate(744.2,732.3) rotate(-90) scale(0.985,1)" text-anchor="middle" font-size="30">Growth Rate (<tspan font-style="italic">μ</tspan><tspan font-size="21" dy="7">A</tspan><tspan dy="-7">)</tspan></text>
<rect x="1519.8" y="845.9" width="60.4" height="74.4" fill="#d580f8" stroke="#000" stroke-width="1.8"/>
<rect x="1612.9" y="601.9" width="60.4" height="318.4" fill="#8f8f8f" stroke="#000" stroke-width="1.8"/>
<rect x="1705.5" y="631.3" width="60.4" height="289.0" fill="#a97843" stroke="#000" stroke-width="1.8"/>
<rect x="1798.4" y="821.7" width="60.4" height="98.6" fill="#76f77a" stroke="#000" stroke-width="1.8"/>
<path d="M1550.0,851.1V839.7M1534.0,851.1H1566.0M1534.0,839.7H1566.0" fill="none" stroke="#000" stroke-width="1.5"/>
<circle cx="1527.2" cy="852.1" r="7.6" fill="none" stroke="#000" stroke-width="1.6"/>
<circle cx="1550.4" cy="840.0" r="7.6" fill="none" stroke="#000" stroke-width="1.6"/>
<circle cx="1573.9" cy="844.9" r="7.6" fill="none" stroke="#000" stroke-width="1.6"/>
<path d="M1643.1,608.1V594.3M1627.1,608.1H1659.1M1627.1,594.3H1659.1" fill="none" stroke="#000" stroke-width="1.5"/>
<circle cx="1620.3" cy="608.8" r="7.6" fill="none" stroke="#000" stroke-width="1.6"/>
<circle cx="1643.1" cy="596.0" r="7.6" fill="none" stroke="#000" stroke-width="1.6"/>
<circle cx="1665.9" cy="597.7" r="7.6" fill="none" stroke="#000" stroke-width="1.6"/>
<path d="M1735.7,632.2V630.0M1719.7,632.2H1751.7M1719.7,630.0H1751.7" fill="none" stroke="#000" stroke-width="1.5"/>
<circle cx="1713.0" cy="633.0" r="7.6" fill="none" stroke="#000" stroke-width="1.6"/>
<circle cx="1736.2" cy="630.6" r="7.6" fill="none" stroke="#000" stroke-width="1.6"/>
<circle cx="1759.0" cy="630.6" r="7.6" fill="none" stroke="#000" stroke-width="1.6"/>
<path d="M1828.6,830.3V810.6M1812.6,830.3H1844.6M1812.6,810.6H1844.6" fill="none" stroke="#000" stroke-width="1.5"/>
<circle cx="1806.1" cy="811.6" r="7.6" fill="none" stroke="#000" stroke-width="1.6"/>
<circle cx="1806.1" cy="831.0" r="7.6" fill="none" stroke="#000" stroke-width="1.6"/>
<circle cx="1851.5" cy="819.3" r="7.6" fill="none" stroke="#000" stroke-width="1.6"/>
<path d="M1488.7,517.5H1891.3V920.3H1488.7Z" fill="none" stroke="#000" stroke-width="3.6" stroke-linejoin="miter"/>
<line x1="1476.7" y1="920.3" x2="1488.7" y2="920.3" stroke="#000" stroke-width="3.6" />
<text x="1473.2" y="930.9" font-size="29.5" text-anchor="end" >30</text>
<line x1="1476.7" y1="819.6" x2="1488.7" y2="819.6" stroke="#000" stroke-width="3.6" />
<text x="1473.2" y="830.2" font-size="29.5" text-anchor="end" >40</text>
<line x1="1476.7" y1="718.9" x2="1488.7" y2="718.9" stroke="#000" stroke-width="3.6" />
<text x="1473.2" y="729.5" font-size="29.5" text-anchor="end" >50</text>
<line x1="1476.7" y1="618.2" x2="1488.7" y2="618.2" stroke="#000" stroke-width="3.6" />
<text x="1473.2" y="628.8" font-size="29.5" text-anchor="end" >60</text>
<line x1="1476.7" y1="517.5" x2="1488.7" y2="517.5" stroke="#000" stroke-width="3.6" />
<text x="1473.2" y="528.1" font-size="29.5" text-anchor="end" >70</text>
<line x1="1550.0" y1="920.3" x2="1550.0" y2="931.8" stroke="#000" stroke-width="3.6" />
<text x="1538.0" y="957.2" font-size="29" text-anchor="middle" >QP478</text>
<line x1="1643.1" y1="920.3" x2="1643.1" y2="931.8" stroke="#000" stroke-width="3.6" />
<text x="1637.5" y="957.2" font-size="29" text-anchor="middle" >LC100</text>
<line x1="1735.7" y1="920.3" x2="1735.7" y2="931.8" stroke="#000" stroke-width="3.6" />
<text x="1734.3" y="957.2" font-size="29" text-anchor="middle" >LC199</text>
<line x1="1828.6" y1="920.3" x2="1828.6" y2="931.8" stroke="#000" stroke-width="3.6" />
<text x="1838.8" y="957.2" font-size="29" text-anchor="middle" >LC224</text>
<text transform="translate(1429.6,714.7) rotate(-90) scale(0.97,1)" text-anchor="middle" font-size="30">Growth Lag (<tspan font-style="italic">λ</tspan>, hour)</text>
<path d="M114.2,1038.1H513.3V1437.5H114.2Z" fill="none" stroke="#000" stroke-width="3.6" stroke-linejoin="miter"/>
<line x1="102.7" y1="1437.5" x2="114.2" y2="1437.5" stroke="#000" stroke-width="3.4" />
<text x="100.7" y="1448.1" font-size="29.5" text-anchor="end" >0</text>
<line x1="102.7" y1="1387.6" x2="114.2" y2="1387.6" stroke="#000" stroke-width="3.4" />
<text x="100.7" y="1398.2" font-size="29.5" text-anchor="end" >5</text>
<line x1="102.7" y1="1337.7" x2="114.2" y2="1337.7" stroke="#000" stroke-width="3.4" />
<text x="100.7" y="1348.2" font-size="29.5" text-anchor="end" >10</text>
<line x1="102.7" y1="1287.7" x2="114.2" y2="1287.7" stroke="#000" stroke-width="3.4" />
<text x="100.7" y="1298.3" font-size="29.5" text-anchor="end" >15</text>
<line x1="102.7" y1="1237.8" x2="114.2" y2="1237.8" stroke="#000" stroke-width="3.4" />
<text x="100.7" y="1248.4" font-size="29.5" text-anchor="end" >20</text>
<line x1="102.7" y1="1187.9" x2="114.2" y2="1187.9" stroke="#000" stroke-width="3.4" />
<text x="100.7" y="1198.5" font-size="29.5" text-anchor="end" >25</text>
<line x1="102.7" y1="1137.9" x2="114.2" y2="1137.9" stroke="#000" stroke-width="3.4" />
<text x="100.7" y="1148.5" font-size="29.5" text-anchor="end" >30</text>
<line x1="102.7" y1="1088.0" x2="114.2" y2="1088.0" stroke="#000" stroke-width="3.4" />
<text x="100.7" y="1098.6" font-size="29.5" text-anchor="end" >35</text>
<line x1="102.7" y1="1038.1" x2="114.2" y2="1038.1" stroke="#000" stroke-width="3.4" />
<text x="100.7" y="1048.7" font-size="29.5" text-anchor="end" >40</text>
<line x1="513.3" y1="1437.5" x2="527.3" y2="1437.5" stroke="#000" stroke-width="3.4" />
<text x="529.6" y="1448.1" font-size="29.5" >0.0</text>
<line x1="513.3" y1="1370.9" x2="527.3" y2="1370.9" stroke="#000" stroke-width="3.4" />
<text x="529.6" y="1381.5" font-size="29.5" >0.5</text>
<line x1="513.3" y1="1304.4" x2="527.3" y2="1304.4" stroke="#000" stroke-width="3.4" />
<text x="529.6" y="1315.0" font-size="29.5" >1.0</text>
<line x1="513.3" y1="1237.8" x2="527.3" y2="1237.8" stroke="#000" stroke-width="3.4" />
<text x="529.6" y="1248.4" font-size="29.5" >1.5</text>
<line x1="513.3" y1="1171.2" x2="527.3" y2="1171.2" stroke="#000" stroke-width="3.4" />
<text x="529.6" y="1181.8" font-size="29.5" >2.0</text>
<line x1="513.3" y1="1104.7" x2="527.3" y2="1104.7" stroke="#000" stroke-width="3.4" />
<text x="529.6" y="1115.3" font-size="29.5" >2.5</text>
<line x1="513.3" y1="1038.1" x2="527.3" y2="1038.1" stroke="#000" stroke-width="3.4" />
<text x="529.6" y="1048.7" font-size="29.5" >3.0</text>
<line x1="114.2" y1="1437.5" x2="114.2" y2="1449.0" stroke="#000" stroke-width="3.4" />
<text x="114.2" y="1476.0" font-size="29.5" text-anchor="middle" >0</text>
<line x1="214.0" y1="1437.5" x2="214.0" y2="1449.0" stroke="#000" stroke-width="3.4" />
<text x="214.0" y="1476.0" font-size="29.5" text-anchor="middle" >24</text>
<line x1="313.8" y1="1437.5" x2="313.8" y2="1449.0" stroke="#000" stroke-width="3.4" />
<text x="313.8" y="1476.0" font-size="29.5" text-anchor="middle" >48</text>
<line x1="413.5" y1="1437.5" x2="413.5" y2="1449.0" stroke="#000" stroke-width="3.4" />
<text x="413.5" y="1476.0" font-size="29.5" text-anchor="middle" >72</text>
<line x1="513.3" y1="1437.5" x2="513.3" y2="1449.0" stroke="#000" stroke-width="3.4" />
<text x="513.3" y="1476.0" font-size="29.5" text-anchor="middle" >96</text>
<text x="313.8" y="1503.0" font-size="29.5" text-anchor="middle" >Time (hour)</text>
<text x="111.4" y="1028.3" font-size="35.5" >LC224 Xylose</text>
<text transform="translate(56.0,1233.0) rotate(-90)" text-anchor="middle" font-size="32.8">Concentration (mM)</text>
<text transform="translate(605.7,1233.1) rotate(-90)" text-anchor="middle" font-size="30">OD<tspan font-size="22" dy="9.7">600</tspan></text>
<path d="M114.2,1079.7 L213.9,1103.9 L284.5,1140.9 L313.9,1173.1 L392.8,1344.6 L413.8,1399.9 L484.3,1435.6 L511.4,1435.6" fill="none" stroke="#fcca62" stroke-width="2.9" stroke-linejoin="round"/>
<path d="M114.2,1437.5 L213.9,1429.9 L284.7,1409.5 L313.9,1386.7 L392.8,1323.2 L413.8,1297.0 L484.3,1277.2 L511.4,1277.2" fill="none" stroke="#f98a84" stroke-width="2.9" stroke-linejoin="round"/>
<path d="M114.2,1424.0 L213.9,1419.5 L284.5,1412.6 L313.9,1383.2 L392.8,1300.4 L413.8,1273.1 L484.3,1251.4 L511.4,1253.2" fill="none" stroke="#000" stroke-width="3.5" stroke-linejoin="round"/>
<path d="M284.5,1131.2V1155.8M275.0,1131.2H294.0M275.0,1155.8H294.0" fill="none" stroke="#000" stroke-width="1.5"/>
<path d="M313.9,1151.0V1198.0M304.4,1151.0H323.4M304.4,1198.0H323.4" fill="none" stroke="#000" stroke-width="1.5"/>
<path d="M392.8,1284.4V1408.5M383.3,1284.4H402.3M383.3,1408.5H402.3" fill="none" stroke="#000" stroke-width="1.5"/>
<path d="M413.8,1345.4V1437.5M404.3,1345.4H423.3M404.3,1437.5H423.3" fill="none" stroke="#000" stroke-width="1.5"/>
<path d="M313.9,1378.5V1399.2M304.4,1378.5H323.4M304.4,1399.2H323.4" fill="none" stroke="#000" stroke-width="1.5"/>
<path d="M413.8,1273.5V1320.3M404.3,1273.5H423.3M404.3,1320.3H423.3" fill="none" stroke="#000" stroke-width="1.5"/>
<path d="M392.8,1337.2V1351.7M383.3,1337.2H402.3M383.3,1351.7H402.3" fill="none" stroke="#000" stroke-width="1.5"/>
<path d="M313.9,1360.1V1413.2M304.4,1360.1H323.4M304.4,1413.2H323.4" fill="none" stroke="#000" stroke-width="1.5"/>
<path d="M392.8,1263.2V1337.5M383.3,1263.2H402.3M383.3,1337.5H402.3" fill="none" stroke="#000" stroke-width="1.5"/>
<path d="M413.8,1237.7V1308.9M404.3,1237.7H423.3M404.3,1308.9H423.3" fill="none" stroke="#000" stroke-width="1.5"/>
<path d="M484.3,1241.8V1261.0M474.8,1241.8H493.8M474.8,1261.0H493.8" fill="none" stroke="#000" stroke-width="1.5"/>
<circle cx="114.2" cy="1424.0" r="7.4" fill="#fff" stroke="#000" stroke-width="1.6"/>
<circle cx="213.9" cy="1419.5" r="7.4" fill="#fff" stroke="#000" stroke-width="1.6"/>
<circle cx="284.5" cy="1412.6" r="7.4" fill="#fff" stroke="#000" stroke-width="1.6"/>
<circle cx="313.9" cy="1383.2" r="7.4" fill="#fff" stroke="#000" stroke-width="1.6"/>
<circle cx="392.8" cy="1300.4" r="7.4" fill="#fff" stroke="#000" stroke-width="1.6"/>
<circle cx="413.8" cy="1273.1" r="7.4" fill="#fff" stroke="#000" stroke-width="1.6"/>
<circle cx="484.3" cy="1251.4" r="7.4" fill="#fff" stroke="#000" stroke-width="1.6"/>
<circle cx="511.4" cy="1253.2" r="7.4" fill="#fff" stroke="#000" stroke-width="1.6"/>
<rect x="107.0" y="1430.3" width="14.4" height="14.4" fill="#f97f7b" stroke="#000" stroke-width="1.6"/>
<rect x="206.7" y="1422.7" width="14.4" height="14.4" fill="#f97f7b" stroke="#000" stroke-width="1.6"/>
<rect x="277.5" y="1402.3" width="14.4" height="14.4" fill="#f97f7b" stroke="#000" stroke-width="1.6"/>
<rect x="306.7" y="1379.5" width="14.4" height="14.4" fill="#f97f7b" stroke="#000" stroke-width="1.6"/>
<rect x="385.6" y="1316.0" width="14.4" height="14.4" fill="#f97f7b" stroke="#000" stroke-width="1.6"/>
<rect x="406.6" y="1289.8" width="14.4" height="14.4" fill="#f97f7b" stroke="#000" stroke-width="1.6"/>
<rect x="477.1" y="1270.0" width="14.4" height="14.4" fill="#f97f7b" stroke="#000" stroke-width="1.6"/>
<rect x="504.2" y="1270.0" width="14.4" height="14.4" fill="#f97f7b" stroke="#000" stroke-width="1.6"/>
<path d="M114.2,1070.5 L124.1,1077.7 L120.3,1089.3 L108.1,1089.3 L104.3,1077.7Z" fill="#fcca62" stroke="#000" stroke-width="1.8" stroke-linejoin="miter"/>
<path d="M213.9,1094.7 L223.8,1101.9 L220.0,1113.5 L207.8,1113.5 L204.0,1101.9Z" fill="#fcca62" stroke="#000" stroke-width="1.8" stroke-linejoin="miter"/>
<path d="M284.5,1131.7 L294.4,1138.9 L290.6,1150.5 L278.4,1150.5 L274.6,1138.9Z" fill="#fcca62" stroke="#000" stroke-width="1.8" stroke-linejoin="miter"/>
<path d="M313.9,1163.9 L323.8,1171.1 L320.0,1182.7 L307.8,1182.7 L304.0,1171.1Z" fill="#fcca62" stroke="#000" stroke-width="1.8" stroke-linejoin="miter"/>
<path d="M392.8,1335.4 L402.7,1342.6 L398.9,1354.2 L386.7,1354.2 L382.9,1342.6Z" fill="#fcca62" stroke="#000" stroke-width="1.8" stroke-linejoin="miter"/>
<path d="M413.8,1390.7 L423.7,1397.9 L419.9,1409.5 L407.7,1409.5 L403.9,1397.9Z" fill="#fcca62" stroke="#000" stroke-width="1.8" stroke-linejoin="miter"/>
<path d="M484.3,1426.4 L494.2,1433.6 L490.4,1445.2 L478.2,1445.2 L474.4,1433.6Z" fill="#fcca62" stroke="#000" stroke-width="1.8" stroke-linejoin="miter"/>
<path d="M511.4,1426.4 L521.3,1433.6 L517.5,1445.2 L505.3,1445.2 L501.5,1433.6Z" fill="#fcca62" stroke="#000" stroke-width="1.8" stroke-linejoin="miter"/>
<text x="230.0" y="1063.0" font-size="21.5" fill="#f58a86" >Yield (mol%): 45.3 ± 0.7%</text>
<text x="230.0" y="1094.2" font-size="21.5" fill="#ed1c24" >Yield (carbon%): 54.4 ± 0.8%</text>
<path d="M812.7,1036.9H1215.4V1438.4H812.7Z" fill="none" stroke="#000" stroke-width="3.6" stroke-linejoin="miter"/>
<line x1="801.2" y1="1438.4" x2="812.7" y2="1438.4" stroke="#000" stroke-width="3.4" />
<text x="799.2" y="1449.0" font-size="29.5" text-anchor="end" >0</text>
<line x1="801.2" y1="1388.2" x2="812.7" y2="1388.2" stroke="#000" stroke-width="3.4" />
<text x="799.2" y="1398.8" font-size="29.5" text-anchor="end" >5</text>
<line x1="801.2" y1="1338.0" x2="812.7" y2="1338.0" stroke="#000" stroke-width="3.4" />
<text x="799.2" y="1348.6" font-size="29.5" text-anchor="end" >10</text>
<line x1="801.2" y1="1287.8" x2="812.7" y2="1287.8" stroke="#000" stroke-width="3.4" />
<text x="799.2" y="1298.4" font-size="29.5" text-anchor="end" >15</text>
<line x1="801.2" y1="1237.7" x2="812.7" y2="1237.7" stroke="#000" stroke-width="3.4" />
<text x="799.2" y="1248.2" font-size="29.5" text-anchor="end" >20</text>
<line x1="801.2" y1="1187.5" x2="812.7" y2="1187.5" stroke="#000" stroke-width="3.4" />
<text x="799.2" y="1198.1" font-size="29.5" text-anchor="end" >25</text>
<line x1="801.2" y1="1137.3" x2="812.7" y2="1137.3" stroke="#000" stroke-width="3.4" />
<text x="799.2" y="1147.9" font-size="29.5" text-anchor="end" >30</text>
<line x1="801.2" y1="1087.1" x2="812.7" y2="1087.1" stroke="#000" stroke-width="3.4" />
<text x="799.2" y="1097.7" font-size="29.5" text-anchor="end" >35</text>
<line x1="801.2" y1="1036.9" x2="812.7" y2="1036.9" stroke="#000" stroke-width="3.4" />
<text x="799.2" y="1047.5" font-size="29.5" text-anchor="end" >40</text>
<line x1="1215.4" y1="1438.4" x2="1229.4" y2="1438.4" stroke="#000" stroke-width="3.4" />
<text x="1231.7" y="1449.0" font-size="29.5" >0.0</text>
<line x1="1215.4" y1="1371.5" x2="1229.4" y2="1371.5" stroke="#000" stroke-width="3.4" />
<text x="1231.7" y="1382.1" font-size="29.5" >0.5</text>
<line x1="1215.4" y1="1304.6" x2="1229.4" y2="1304.6" stroke="#000" stroke-width="3.4" />
<text x="1231.7" y="1315.2" font-size="29.5" >1.0</text>
<line x1="1215.4" y1="1237.7" x2="1229.4" y2="1237.7" stroke="#000" stroke-width="3.4" />
<text x="1231.7" y="1248.2" font-size="29.5" >1.5</text>
<line x1="1215.4" y1="1170.7" x2="1229.4" y2="1170.7" stroke="#000" stroke-width="3.4" />
<text x="1231.7" y="1181.3" font-size="29.5" >2.0</text>
<line x1="1215.4" y1="1103.8" x2="1229.4" y2="1103.8" stroke="#000" stroke-width="3.4" />
<text x="1231.7" y="1114.4" font-size="29.5" >2.5</text>
<line x1="1215.4" y1="1036.9" x2="1229.4" y2="1036.9" stroke="#000" stroke-width="3.4" />
<text x="1231.7" y="1047.5" font-size="29.5" >3.0</text>
<line x1="812.7" y1="1438.4" x2="812.7" y2="1449.9" stroke="#000" stroke-width="3.4" />
<text x="812.7" y="1476.9" font-size="29.5" text-anchor="middle" >0</text>
<line x1="913.4" y1="1438.4" x2="913.4" y2="1449.9" stroke="#000" stroke-width="3.4" />
<text x="913.4" y="1476.9" font-size="29.5" text-anchor="middle" >24</text>
<line x1="1014.1" y1="1438.4" x2="1014.1" y2="1449.9" stroke="#000" stroke-width="3.4" />
<text x="1014.1" y="1476.9" font-size="29.5" text-anchor="middle" >48</text>
<line x1="1114.7" y1="1438.4" x2="1114.7" y2="1449.9" stroke="#000" stroke-width="3.4" />
<text x="1114.7" y="1476.9" font-size="29.5" text-anchor="middle" >72</text>
<line x1="1215.4" y1="1438.4" x2="1215.4" y2="1449.9" stroke="#000" stroke-width="3.4" />
<text x="1215.4" y="1476.9" font-size="29.5" text-anchor="middle" >96</text>
<text x="1014.1" y="1503.9" font-size="29.5" text-anchor="middle" >Time (hour)</text>
<text x="810.5" y="1026.2" font-size="35.5" >LC224 Glucose + Xylose</text>
<text transform="translate(754.5,1232.9) rotate(-90)" text-anchor="middle" font-size="32.8">Concentration (mM)</text>
<text transform="translate(1307.8,1233.0) rotate(-90)" text-anchor="middle" font-size="30">OD<tspan font-size="22" dy="9.7">600</tspan></text>
<path d="M812.7,1071.8 L881.9,1185.2 L899.4,1265.5 L913.5,1364.8 L984.1,1438.4 L999.0,1438.4 L1014.6,1438.4" fill="none" stroke="#76cbf1" stroke-width="3.0" stroke-linejoin="round"/>
<path d="M812.7,1254.0 L881.9,1287.8 L899.4,1303.5 L913.5,1344.4 L984.1,1437.3 L999.0,1437.3 L1014.6,1437.3" fill="none" stroke="#fcca62" stroke-width="2.9" stroke-linejoin="round"/>
<path d="M812.7,1438.4 L881.9,1396.4 L899.4,1346.2 L913.5,1297.9 L984.1,1227.2 L999.0,1224.3 L1014.6,1225.4" fill="none" stroke="#f98a84" stroke-width="2.9" stroke-linejoin="round"/>
<path d="M812.7,1425.4 L881.9,1347.3 L899.4,1249.6 L913.5,1170.4 L984.1,1100.1 L999.0,1106.4 L1014.6,1101.6" fill="none" stroke="#000" stroke-width="3.5" stroke-linejoin="round"/>
<path d="M881.9,1175.2V1194.9M872.4,1175.2H891.4M872.4,1194.9H891.4" fill="none" stroke="#000" stroke-width="1.5"/>
<path d="M913.5,1354.8V1374.9M904.0,1354.8H923.0M904.0,1374.9H923.0" fill="none" stroke="#000" stroke-width="1.5"/>
<path d="M999.0,1215.0V1234.0M989.5,1215.0H1008.5M989.5,1234.0H1008.5" fill="none" stroke="#000" stroke-width="1.5"/>
<path d="M899.4,1237.7V1261.5M889.9,1237.7H908.9M889.9,1261.5H908.9" fill="none" stroke="#000" stroke-width="1.5"/>
<path d="M913.5,1147.3V1193.8M904.0,1147.3H923.0M904.0,1193.8H923.0" fill="none" stroke="#000" stroke-width="1.5"/>
<circle cx="812.7" cy="1425.4" r="7.4" fill="#fff" stroke="#000" stroke-width="1.6"/>
<circle cx="881.9" cy="1347.3" r="7.4" fill="#fff" stroke="#000" stroke-width="1.6"/>
<circle cx="899.4" cy="1249.6" r="7.4" fill="#fff" stroke="#000" stroke-width="1.6"/>
<circle cx="913.5" cy="1170.4" r="7.4" fill="#fff" stroke="#000" stroke-width="1.6"/>
<circle cx="984.1" cy="1100.1" r="7.4" fill="#fff" stroke="#000" stroke-width="1.6"/>
<circle cx="999.0" cy="1106.4" r="7.4" fill="#fff" stroke="#000" stroke-width="1.6"/>
<circle cx="1014.6" cy="1101.6" r="7.4" fill="#fff" stroke="#000" stroke-width="1.6"/>
<path d="M822.3,1071.8 L817.5,1080.1 L807.9,1080.1 L803.1,1071.8 L807.9,1063.5 L817.5,1063.5Z" fill="#76cbf1" stroke="#000" stroke-width="1.8"/>
<path d="M891.5,1185.2 L886.7,1193.5 L877.1,1193.5 L872.3,1185.2 L877.1,1176.9 L886.7,1176.9Z" fill="#76cbf1" stroke="#000" stroke-width="1.8"/>
<path d="M909.0,1265.5 L904.2,1273.8 L894.6,1273.8 L889.8,1265.5 L894.6,1257.2 L904.2,1257.2Z" fill="#76cbf1" stroke="#000" stroke-width="1.8"/>
<path d="M923.1,1364.8 L918.3,1373.1 L908.7,1373.1 L903.9,1364.8 L908.7,1356.5 L918.3,1356.5Z" fill="#76cbf1" stroke="#000" stroke-width="1.8"/>
<path d="M993.7,1438.4 L988.9,1446.7 L979.3,1446.7 L974.5,1438.4 L979.3,1430.1 L988.9,1430.1Z" fill="#76cbf1" stroke="#000" stroke-width="1.8"/>
<path d="M1008.6,1438.4 L1003.8,1446.7 L994.2,1446.7 L989.4,1438.4 L994.2,1430.1 L1003.8,1430.1Z" fill="#76cbf1" stroke="#000" stroke-width="1.8"/>
<path d="M1024.2,1438.4 L1019.4,1446.7 L1009.8,1446.7 L1005.0,1438.4 L1009.8,1430.1 L1019.4,1430.1Z" fill="#76cbf1" stroke="#000" stroke-width="1.8"/>
<rect x="805.5" y="1431.2" width="14.4" height="14.4" fill="#f97f7b" stroke="#000" stroke-width="1.6"/>
<rect x="874.7" y="1389.2" width="14.4" height="14.4" fill="#f97f7b" stroke="#000" stroke-width="1.6"/>
<rect x="892.2" y="1339.0" width="14.4" height="14.4" fill="#f97f7b" stroke="#000" stroke-width="1.6"/>
<rect x="906.3" y="1290.7" width="14.4" height="14.4" fill="#f97f7b" stroke="#000" stroke-width="1.6"/>
<rect x="976.9" y="1220.0" width="14.4" height="14.4" fill="#f97f7b" stroke="#000" stroke-width="1.6"/>
<rect x="991.8" y="1217.1" width="14.4" height="14.4" fill="#f97f7b" stroke="#000" stroke-width="1.6"/>
<rect x="1007.4" y="1218.2" width="14.4" height="14.4" fill="#f97f7b" stroke="#000" stroke-width="1.6"/>
<path d="M812.7,1244.8 L822.6,1252.0 L818.8,1263.6 L806.6,1263.6 L802.8,1252.0Z" fill="#fcca62" stroke="#000" stroke-width="1.8" stroke-linejoin="miter"/>
<path d="M881.9,1278.6 L891.8,1285.8 L888.0,1297.4 L875.8,1297.4 L872.0,1285.8Z" fill="#fcca62" stroke="#000" stroke-width="1.8" stroke-linejoin="miter"/>
<path d="M899.4,1294.3 L909.3,1301.5 L905.5,1313.1 L893.3,1313.1 L889.5,1301.5Z" fill="#fcca62" stroke="#000" stroke-width="1.8" stroke-linejoin="miter"/>
<path d="M913.5,1335.2 L923.4,1342.4 L919.6,1354.0 L907.4,1354.0 L903.6,1342.4Z" fill="#fcca62" stroke="#000" stroke-width="1.8" stroke-linejoin="miter"/>
<path d="M984.1,1428.1 L994.0,1435.3 L990.2,1446.9 L978.0,1446.9 L974.2,1435.3Z" fill="#fcca62" stroke="#000" stroke-width="1.8" stroke-linejoin="miter"/>
<path d="M999.0,1428.1 L1008.9,1435.3 L1005.1,1446.9 L992.9,1446.9 L989.1,1435.3Z" fill="#fcca62" stroke="#000" stroke-width="1.8" stroke-linejoin="miter"/>
<path d="M1014.6,1428.1 L1024.5,1435.3 L1020.7,1446.9 L1008.5,1446.9 L1004.7,1435.3Z" fill="#fcca62" stroke="#000" stroke-width="1.8" stroke-linejoin="miter"/>
<text x="929.0" y="1310.0" font-size="21.5" fill="#f58a86" >Yield (mol%): 39.7 ± 0.5%</text>
<text x="931.0" y="1340.0" font-size="21.5" fill="#ed1c24" >Yield (carbon%): 42.0 ± 0.5%</text>
<path d="M1484.9,1034.3H1888.5V1437.5H1484.9Z" fill="none" stroke="#000" stroke-width="3.6" stroke-linejoin="miter"/>
<line x1="1473.4" y1="1437.5" x2="1484.9" y2="1437.5" stroke="#000" stroke-width="3.4" />
<text x="1471.4" y="1448.1" font-size="29.5" text-anchor="end" >0</text>
<line x1="1473.4" y1="1387.1" x2="1484.9" y2="1387.1" stroke="#000" stroke-width="3.4" />
<text x="1471.4" y="1397.7" font-size="29.5" text-anchor="end" >5</text>
<line x1="1473.4" y1="1336.7" x2="1484.9" y2="1336.7" stroke="#000" stroke-width="3.4" />
<text x="1471.4" y="1347.3" font-size="29.5" text-anchor="end" >10</text>
<line x1="1473.4" y1="1286.3" x2="1484.9" y2="1286.3" stroke="#000" stroke-width="3.4" />
<text x="1471.4" y="1296.9" font-size="29.5" text-anchor="end" >15</text>
<line x1="1473.4" y1="1235.9" x2="1484.9" y2="1235.9" stroke="#000" stroke-width="3.4" />
<text x="1471.4" y="1246.5" font-size="29.5" text-anchor="end" >20</text>
<line x1="1473.4" y1="1185.5" x2="1484.9" y2="1185.5" stroke="#000" stroke-width="3.4" />
<text x="1471.4" y="1196.1" font-size="29.5" text-anchor="end" >25</text>
<line x1="1473.4" y1="1135.1" x2="1484.9" y2="1135.1" stroke="#000" stroke-width="3.4" />
<text x="1471.4" y="1145.7" font-size="29.5" text-anchor="end" >30</text>
<line x1="1473.4" y1="1084.7" x2="1484.9" y2="1084.7" stroke="#000" stroke-width="3.4" />
<text x="1471.4" y="1095.3" font-size="29.5" text-anchor="end" >35</text>
<line x1="1473.4" y1="1034.3" x2="1484.9" y2="1034.3" stroke="#000" stroke-width="3.4" />
<text x="1471.4" y="1044.9" font-size="29.5" text-anchor="end" >40</text>
<line x1="1888.5" y1="1437.5" x2="1902.5" y2="1437.5" stroke="#000" stroke-width="3.4" />
<text x="1904.8" y="1448.1" font-size="29.5" >0.0</text>
<line x1="1888.5" y1="1370.3" x2="1902.5" y2="1370.3" stroke="#000" stroke-width="3.4" />
<text x="1904.8" y="1380.9" font-size="29.5" >0.5</text>
<line x1="1888.5" y1="1303.1" x2="1902.5" y2="1303.1" stroke="#000" stroke-width="3.4" />
<text x="1904.8" y="1313.7" font-size="29.5" >1.0</text>
<line x1="1888.5" y1="1235.9" x2="1902.5" y2="1235.9" stroke="#000" stroke-width="3.4" />
<text x="1904.8" y="1246.5" font-size="29.5" >1.5</text>
<line x1="1888.5" y1="1168.7" x2="1902.5" y2="1168.7" stroke="#000" stroke-width="3.4" />
<text x="1904.8" y="1179.3" font-size="29.5" >2.0</text>
<line x1="1888.5" y1="1101.5" x2="1902.5" y2="1101.5" stroke="#000" stroke-width="3.4" />
<text x="1904.8" y="1112.1" font-size="29.5" >2.5</text>
<line x1="1888.5" y1="1034.3" x2="1902.5" y2="1034.3" stroke="#000" stroke-width="3.4" />
<text x="1904.8" y="1044.9" font-size="29.5" >3.0</text>
<line x1="1484.9" y1="1437.5" x2="1484.9" y2="1449.0" stroke="#000" stroke-width="3.4" />
<text x="1484.9" y="1476.0" font-size="29.5" text-anchor="middle" >0</text>
<line x1="1585.8" y1="1437.5" x2="1585.8" y2="1449.0" stroke="#000" stroke-width="3.4" />
<text x="1585.8" y="1476.0" font-size="29.5" text-anchor="middle" >24</text>
<line x1="1686.7" y1="1437.5" x2="1686.7" y2="1449.0" stroke="#000" stroke-width="3.4" />
<text x="1686.7" y="1476.0" font-size="29.5" text-anchor="middle" >48</text>
<line x1="1787.6" y1="1437.5" x2="1787.6" y2="1449.0" stroke="#000" stroke-width="3.4" />
<text x="1787.6" y="1476.0" font-size="29.5" text-anchor="middle" >72</text>
<line x1="1888.5" y1="1437.5" x2="1888.5" y2="1449.0" stroke="#000" stroke-width="3.4" />
<text x="1888.5" y="1476.0" font-size="29.5" text-anchor="middle" >96</text>
<text x="1686.7" y="1503.0" font-size="29.5" text-anchor="middle" >Time (hour)</text>
<text x="1482.5" y="1026.7" font-size="35.5" >LC224 Glucose</text>
<text transform="translate(1426.7,1231.1) rotate(-90)" text-anchor="middle" font-size="32.8">Concentration (mM)</text>
<text transform="translate(1980.9,1231.2) rotate(-90)" text-anchor="middle" font-size="30">OD<tspan font-size="22" dy="9.7">600</tspan></text>
<path d="M1484.9,1066.5 L1553.5,1131.6 L1570.8,1204.3 L1586.3,1291.5 L1656.6,1437.5 L1672.2,1437.5 L1686.7,1437.5 L1766.3,1437.5" fill="none" stroke="#76cbf1" stroke-width="3.0" stroke-linejoin="round"/>
<path d="M1484.9,1437.5 L1553.5,1412.6 L1570.8,1384.2 L1586.3,1355.5 L1656.6,1291.5 L1672.2,1296.7 L1686.7,1305.3 L1766.3,1297.7" fill="none" stroke="#f98a84" stroke-width="2.9" stroke-linejoin="round"/>
<path d="M1484.9,1424.0 L1553.5,1373.9 L1570.8,1306.4 L1586.3,1249.3 L1656.6,1197.3 L1672.2,1177.3 L1686.7,1172.1 L1766.3,1185.2" fill="none" stroke="#000" stroke-width="3.5" stroke-linejoin="round"/>
<path d="M1484.9,1052.7V1079.7M1475.4,1052.7H1494.4M1475.4,1079.7H1494.4" fill="none" stroke="#000" stroke-width="1.5"/>
<path d="M1570.8,1183.5V1225.0M1561.3,1183.5H1580.3M1561.3,1225.0H1580.3" fill="none" stroke="#000" stroke-width="1.5"/>
<path d="M1586.3,1263.1V1319.9M1576.8,1263.1H1595.8M1576.8,1319.9H1595.8" fill="none" stroke="#000" stroke-width="1.5"/>
<path d="M1553.5,1365.2V1381.5M1544.0,1365.2H1563.0M1544.0,1381.5H1563.0" fill="none" stroke="#000" stroke-width="1.5"/>
<path d="M1570.8,1282.1V1330.6M1561.3,1282.1H1580.3M1561.3,1330.6H1580.3" fill="none" stroke="#000" stroke-width="1.5"/>
<path d="M1586.3,1230.9V1267.3M1576.8,1230.9H1595.8M1576.8,1267.3H1595.8" fill="none" stroke="#000" stroke-width="1.5"/>
<path d="M1656.6,1185.2V1209.1M1647.1,1185.2H1666.1M1647.1,1209.1H1666.1" fill="none" stroke="#000" stroke-width="1.5"/>
<path d="M1672.2,1163.4V1191.1M1662.7,1163.4H1681.7M1662.7,1191.1H1681.7" fill="none" stroke="#000" stroke-width="1.5"/>
<path d="M1686.7,1161.7V1184.2M1677.2,1161.7H1696.2M1677.2,1184.2H1696.2" fill="none" stroke="#000" stroke-width="1.5"/>
<path d="M1766.3,1166.9V1204.3M1756.8,1166.9H1775.8M1756.8,1204.3H1775.8" fill="none" stroke="#000" stroke-width="1.5"/>
<circle cx="1484.9" cy="1424.0" r="7.4" fill="#fff" stroke="#000" stroke-width="1.6"/>
<circle cx="1553.5" cy="1373.9" r="7.4" fill="#fff" stroke="#000" stroke-width="1.6"/>
<circle cx="1570.8" cy="1306.4" r="7.4" fill="#fff" stroke="#000" stroke-width="1.6"/>
<circle cx="1586.3" cy="1249.3" r="7.4" fill="#fff" stroke="#000" stroke-width="1.6"/>
<circle cx="1656.6" cy="1197.3" r="7.4" fill="#fff" stroke="#000" stroke-width="1.6"/>
<circle cx="1672.2" cy="1177.3" r="7.4" fill="#fff" stroke="#000" stroke-width="1.6"/>
<circle cx="1686.7" cy="1172.1" r="7.4" fill="#fff" stroke="#000" stroke-width="1.6"/>
<circle cx="1766.3" cy="1185.2" r="7.4" fill="#fff" stroke="#000" stroke-width="1.6"/>
<path d="M1494.5,1066.5 L1489.7,1074.8 L1480.1,1074.8 L1475.3,1066.5 L1480.1,1058.2 L1489.7,1058.2Z" fill="#76cbf1" stroke="#000" stroke-width="1.8"/>
<path d="M1563.1,1131.6 L1558.3,1139.9 L1548.7,1139.9 L1543.9,1131.6 L1548.7,1123.3 L1558.3,1123.3Z" fill="#76cbf1" stroke="#000" stroke-width="1.8"/>
<path d="M1580.4,1204.3 L1575.6,1212.6 L1566.0,1212.6 L1561.2,1204.3 L1566.0,1196.0 L1575.6,1196.0Z" fill="#76cbf1" stroke="#000" stroke-width="1.8"/>
<path d="M1595.9,1291.5 L1591.1,1299.8 L1581.5,1299.8 L1576.7,1291.5 L1581.5,1283.2 L1591.1,1283.2Z" fill="#76cbf1" stroke="#000" stroke-width="1.8"/>
<path d="M1666.2,1437.5 L1661.4,1445.8 L1651.8,1445.8 L1647.0,1437.5 L1651.8,1429.2 L1661.4,1429.2Z" fill="#76cbf1" stroke="#000" stroke-width="1.8"/>
<path d="M1681.8,1437.5 L1677.0,1445.8 L1667.4,1445.8 L1662.6,1437.5 L1667.4,1429.2 L1677.0,1429.2Z" fill="#76cbf1" stroke="#000" stroke-width="1.8"/>
<path d="M1696.3,1437.5 L1691.5,1445.8 L1681.9,1445.8 L1677.1,1437.5 L1681.9,1429.2 L1691.5,1429.2Z" fill="#76cbf1" stroke="#000" stroke-width="1.8"/>
<path d="M1775.9,1437.5 L1771.1,1445.8 L1761.5,1445.8 L1756.7,1437.5 L1761.5,1429.2 L1771.1,1429.2Z" fill="#76cbf1" stroke="#000" stroke-width="1.8"/>
<rect x="1477.7" y="1430.3" width="14.4" height="14.4" fill="#f97f7b" stroke="#000" stroke-width="1.6"/>
<rect x="1546.3" y="1405.4" width="14.4" height="14.4" fill="#f97f7b" stroke="#000" stroke-width="1.6"/>
<rect x="1563.6" y="1377.0" width="14.4" height="14.4" fill="#f97f7b" stroke="#000" stroke-width="1.6"/>
<rect x="1579.1" y="1348.3" width="14.4" height="14.4" fill="#f97f7b" stroke="#000" stroke-width="1.6"/>
<rect x="1649.4" y="1284.3" width="14.4" height="14.4" fill="#f97f7b" stroke="#000" stroke-width="1.6"/>
<rect x="1665.0" y="1289.5" width="14.4" height="14.4" fill="#f97f7b" stroke="#000" stroke-width="1.6"/>
<rect x="1679.5" y="1298.1" width="14.4" height="14.4" fill="#f97f7b" stroke="#000" stroke-width="1.6"/>
<rect x="1759.1" y="1290.5" width="14.4" height="14.4" fill="#f97f7b" stroke="#000" stroke-width="1.6"/>
<text x="1588.8" y="1063.0" font-size="21.5" fill="#f58a86" >Yield (mol): 37.7 ± 1.1%</text>
<text x="1588.8" y="1094.2" font-size="21.5" fill="#ed1c24" >Yield (carbon): 37.7 ± 1.1%</text>
<line x1="706.0" y1="1544.9" x2="736.8" y2="1544.9" stroke="#f98a84" stroke-width="3.4" />
<rect x="713.6" y="1537.1" width="15.6" height="15.6" fill="#f97f7b" stroke="#000" stroke-width="1.6"/>
<text x="751.4" y="1552.3" font-size="29.3" >Muconate</text>
<line x1="891.0" y1="1544.9" x2="922.3" y2="1544.9" stroke="#76cbf1" stroke-width="3.0" />
<path d="M915.6,1544.9 L911.1,1552.7 L902.1,1552.7 L897.6,1544.9 L902.1,1537.1 L911.1,1537.1Z" fill="#76cbf1" stroke="#000" stroke-width="1.8"/>
<text x="937.0" y="1552.3" font-size="29.3" >Glucose</text>
<line x1="1064.3" y1="1544.9" x2="1095.2" y2="1544.9" stroke="#fcca62" stroke-width="3.4" />
<path d="M1079.8,1537.2 L1087.3,1542.7 L1084.4,1551.5 L1075.2,1551.5 L1072.3,1542.7Z" fill="#fcca62" stroke="#000" stroke-width="1.8" stroke-linejoin="miter"/>
<text x="1110.0" y="1552.3" font-size="29.3" >Xylose</text>
<line x1="1216.5" y1="1544.9" x2="1247.4" y2="1544.9" stroke="#000" stroke-width="3.6" />
<circle cx="1231.6" cy="1544.9" r="7.0" fill="#fff" stroke="#000" stroke-width="1.6"/>
<text x="1261.8" y="1552.3" font-size="29.3">OD<tspan font-size="19.3" dy="6.3">600</tspan></text>
<text x="-2.0" y="37.6" font-size="63" font-weight="bold" fill="#231f20" >a</text>
<text x="693.0" y="45.3" font-size="63" font-weight="bold" fill="#231f20" >b</text>
<text x="1366.1" y="39.8" font-size="63" font-weight="bold" fill="#231f20" >c</text>
<text x="-2.5" y="505.0" font-size="63" font-weight="bold" fill="#231f20" >d</text>
<text x="688.5" y="503.5" font-size="63" font-weight="bold" fill="#231f20" >e</text>
<text x="1371.3" y="508.8" font-size="63" font-weight="bold" fill="#231f20" >f</text>
<text x="-2.0" y="1006.7" font-size="63" font-weight="bold" fill="#231f20" >g</text>
<text x="689.8" y="1018.9" font-size="63" font-weight="bold" fill="#231f20" >h</text>
<text x="1374.8" y="1024.6" font-size="63" font-weight="bold" fill="#231f20" >i</text>
</svg></body></html>
